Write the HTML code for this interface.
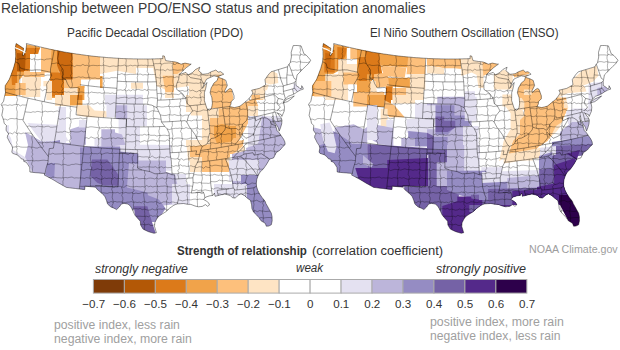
<!DOCTYPE html>
<html><head><meta charset="utf-8">
<style>
html,body{margin:0;padding:0;background:#fff;}
body{width:620px;height:350px;position:relative;overflow:hidden;font-family:"Liberation Sans",sans-serif;color:#333;}
.t{position:absolute;white-space:nowrap;line-height:1;transform-origin:0 0;}
.g{color:#9d9d9d;}
.i{font-style:italic;}
svg{position:absolute;left:0;top:0;}
</style></head><body>
<svg width="620" height="350" viewBox="0 0 620 350">
<defs><clipPath id="usclip"><path d="M16.1,43.5 L18.0,44.7 L19.9,45.9 L21.2,46.8 L22.5,47.7 L23.5,48.1 L23.2,51.1 L22.9,53.3 L22.5,55.6 L23.5,55.8 L24.7,53.4 L25.8,51.0 L26.2,48.2 L26.5,45.4 L26.4,43.5 L28.6,44.1 L30.9,44.7 L33.1,45.2 L35.3,45.8 L37.6,46.3 L39.8,46.9 L42.2,47.4 L44.7,48.0 L47.1,48.5 L49.5,49.1 L52.0,49.6 L54.4,50.1 L56.9,50.6 L59.3,51.0 L61.8,51.5 L64.2,52.0 L66.7,52.4 L69.1,52.8 L71.6,53.2 L74.1,53.6 L76.5,54.0 L79.0,54.3 L81.5,54.7 L84.0,55.0 L86.4,55.4 L88.9,55.7 L91.4,56.0 L93.9,56.3 L96.3,56.5 L98.8,56.8 L101.3,57.0 L103.8,57.2 L106.3,57.5 L108.8,57.7 L111.3,57.8 L113.7,58.0 L116.2,58.2 L118.7,58.3 L121.2,58.5 L123.7,58.6 L126.2,58.7 L128.7,58.8 L131.2,58.8 L133.7,58.9 L136.2,58.9 L138.7,59.0 L141.2,59.0 L143.7,59.0 L145.9,59.0 L148.2,59.0 L150.4,59.0 L152.6,58.9 L154.7,58.9 L156.7,58.8 L158.8,58.8 L160.8,58.7 L162.9,58.6 L162.7,55.8 L164.4,56.1 L165.0,58.4 L165.7,60.6 L167.6,60.9 L169.4,61.2 L171.3,61.5 L173.6,61.7 L175.8,62.0 L178.5,63.1 L181.1,64.2 L183.1,63.6 L185.0,63.1 L187.4,63.6 L189.7,64.1 L191.2,64.1 L188.9,65.8 L186.5,67.5 L184.3,69.5 L182.2,71.6 L180.7,73.0 L179.3,74.5 L181.1,74.0 L182.8,73.4 L184.4,72.9 L185.9,72.4 L188.2,74.8 L190.4,73.7 L192.6,72.5 L194.0,71.0 L195.4,69.6 L197.6,68.4 L199.8,67.2 L198.6,70.7 L200.7,72.5 L202.7,74.3 L205.3,74.0 L207.9,73.7 L209.6,72.7 L211.3,71.7 L213.6,70.9 L215.9,70.0 L218.1,72.1 L220.7,71.7 L223.8,74.2 L222.0,74.9 L220.3,75.6 L218.1,76.7 L216.0,76.3 L214.0,75.8 L212.0,76.7 L210.0,77.5 L208.2,78.4 L206.5,79.2 L205.2,81.8 L204.0,84.4 L202.3,88.4 L203.8,86.5 L205.3,84.6 L206.9,82.5 L206.3,85.7 L205.6,88.8 L204.4,92.7 L204.4,96.6 L204.3,100.4 L205.2,103.2 L206.1,106.0 L207.0,108.8 L209.4,110.4 L211.6,108.2 L212.0,105.7 L212.4,103.1 L212.1,100.5 L211.9,97.8 L211.0,95.3 L210.1,92.7 L210.6,90.4 L211.1,88.0 L212.6,85.5 L213.9,83.1 L215.6,81.7 L217.3,80.3 L218.1,77.2 L220.3,78.0 L222.4,78.7 L224.1,79.5 L225.9,80.4 L226.6,82.9 L227.3,85.5 L226.1,88.0 L224.8,90.5 L225.2,92.7 L227.5,90.0 L230.0,88.4 L231.7,89.3 L232.9,92.5 L234.0,95.8 L234.0,98.8 L232.6,100.3 L231.1,101.7 L231.0,104.0 L229.7,106.5 L232.1,107.1 L234.4,107.6 L237.2,106.9 L239.9,106.2 L241.9,104.7 L243.8,103.1 L245.8,101.5 L247.6,99.9 L249.3,98.3 L251.2,95.7 L253.0,93.0 L251.6,90.2 L254.2,89.6 L256.7,89.0 L259.3,88.4 L261.4,87.3 L263.6,86.1 L265.7,84.9 L265.3,82.2 L265.0,79.6 L266.6,77.2 L268.2,74.9 L269.6,73.3 L271.0,71.8 L273.4,71.1 L275.9,70.3 L278.4,69.6 L280.6,68.9 L282.9,68.2 L285.2,67.5 L287.5,66.8 L289.0,64.1 L290.2,62.9 L290.8,59.9 L291.4,57.0 L291.3,54.6 L291.2,52.3 L292.2,48.9 L293.2,45.6 L295.2,45.5 L297.1,45.5 L299.1,45.7 L301.1,45.9 L302.0,48.5 L303.0,51.2 L303.9,53.8 L306.7,55.6 L308.7,57.9 L310.7,60.2 L309.6,62.0 L308.4,63.8 L306.9,65.1 L305.4,66.5 L303.9,68.0 L302.4,69.5 L300.7,71.3 L299.0,73.1 L297.1,74.9 L296.4,79.1 L295.9,81.6 L296.0,84.4 L296.1,85.6 L299.0,87.4 L300.0,88.7 L301.8,88.1 L301.7,85.7 L303.1,88.0 L303.3,89.2 L301.8,89.6 L300.4,90.1 L298.4,91.2 L296.9,92.0 L295.5,93.1 L293.0,94.5 L290.6,95.4 L288.2,96.3 L286.4,98.0 L284.5,99.8 L283.3,101.7 L283.9,103.9 L284.5,107.2 L284.1,111.3 L283.0,113.8 L281.9,116.4 L281.1,114.5 L277.8,113.4 L277.0,112.5 L278.4,114.4 L281.0,117.7 L282.0,120.1 L281.7,123.8 L280.6,127.6 L279.2,131.1 L278.6,129.1 L278.0,127.1 L275.7,123.8 L274.7,121.7 L273.7,119.6 L273.1,115.8 L272.0,117.3 L272.7,119.2 L273.5,121.2 L274.5,123.3 L275.5,125.4 L276.3,127.9 L277.0,130.5 L279.2,132.8 L280.9,135.3 L282.2,137.2 L283.5,139.0 L284.8,141.8 L285.2,144.4 L282.9,146.6 L281.5,148.3 L280.0,150.1 L278.1,151.3 L276.2,152.6 L274.9,155.2 L273.6,157.9 L271.5,158.5 L269.4,159.2 L268.1,161.7 L266.7,164.1 L265.0,166.6 L263.2,169.1 L261.6,170.6 L260.0,172.1 L258.1,175.6 L256.8,179.3 L256.3,183.3 L256.5,186.3 L257.6,189.9 L258.6,192.0 L259.7,194.1 L262.0,197.4 L263.6,199.4 L265.2,201.4 L265.9,203.5 L267.3,205.9 L268.6,208.3 L269.9,210.7 L271.3,213.1 L272.1,216.7 L272.1,218.8 L272.2,220.8 L271.3,224.8 L268.7,226.1 L266.3,226.2 L265.3,223.4 L263.2,222.1 L261.0,220.8 L259.1,217.8 L256.5,214.9 L253.5,212.0 L251.9,208.5 L251.6,204.8 L251.0,202.6 L250.5,200.4 L247.8,198.6 L244.7,195.7 L241.0,193.7 L238.3,195.3 L236.7,196.7 L235.1,198.1 L232.4,197.7 L230.1,195.4 L227.3,194.7 L224.6,193.9 L221.4,194.7 L218.3,195.5 L215.1,196.3 L214.4,193.0 L213.0,195.4 L209.8,195.8 L207.9,196.4 L206.0,197.0 L204.8,198.0 L203.6,199.5 L206.4,201.1 L208.6,202.8 L209.5,204.9 L207.6,206.3 L205.4,204.6 L202.3,206.4 L200.3,206.6 L198.4,206.8 L195.0,206.0 L192.9,205.2 L190.9,204.4 L187.6,204.3 L185.6,203.9 L183.6,203.5 L180.5,203.7 L177.4,203.9 L175.6,204.5 L173.9,205.2 L171.6,206.8 L169.4,208.4 L166.2,211.5 L164.3,212.7 L162.3,213.9 L160.3,215.3 L158.4,216.6 L156.7,218.9 L154.8,222.7 L154.5,226.4 L155.6,230.1 L156.4,232.7 L154.0,233.3 L151.2,232.5 L148.5,231.7 L145.7,230.4 L143.0,229.1 L141.8,227.1 L140.6,225.0 L140.3,221.3 L137.3,217.9 L135.0,215.3 L134.0,213.2 L133.1,211.1 L131.8,208.6 L130.5,206.2 L128.0,204.1 L126.0,203.7 L124.1,203.4 L121.4,204.0 L119.3,207.0 L116.6,209.6 L114.0,208.2 L110.8,206.9 L107.6,204.1 L106.5,200.6 L105.7,198.5 L104.9,196.4 L103.0,194.6 L101.2,192.7 L99.4,191.3 L97.6,189.8 L95.7,187.2 L93.0,186.9 L90.4,186.7 L87.7,186.4 L85.0,186.2 L84.7,189.6 L81.7,189.2 L78.6,188.9 L75.6,188.5 L72.5,188.2 L69.5,187.8 L66.4,187.4 L63.5,185.8 L60.7,184.2 L57.8,182.6 L54.9,180.8 L51.9,179.0 L49.4,177.7 L46.8,176.3 L44.2,175.0 L45.0,173.5 L42.0,173.2 L38.9,172.9 L35.9,172.7 L32.9,172.4 L29.9,172.0 L29.8,169.8 L29.7,167.6 L28.2,165.0 L26.2,162.2 L23.8,161.4 L23.6,159.4 L21.2,158.8 L19.2,156.4 L17.0,154.8 L14.8,154.1 L12.6,153.3 L11.8,152.0 L12.2,149.9 L12.6,147.9 L11.7,145.3 L9.8,142.5 L8.6,140.0 L7.3,137.6 L7.6,135.3 L8.8,134.0 L7.6,132.6 L6.1,130.2 L6.2,127.5 L6.6,125.6 L4.9,124.0 L4.2,123.4 L3.7,120.5 L2.8,117.9 L1.8,115.3 L2.2,113.2 L2.6,111.2 L3.0,108.5 L2.2,106.3 L1.2,104.5 L3.6,101.2 L4.3,97.5 L4.9,94.9 L5.5,92.3 L5.1,88.2 L5.3,85.5 L7.3,82.6 L9.4,79.2 L10.3,76.8 L11.3,74.3 L12.3,71.5 L13.4,68.6 L14.4,65.0 L15.3,61.7 L15.5,59.1 L15.8,56.0 L15.7,53.7 L15.7,51.3 L15.3,48.1 L15.7,45.8 L16.1,43.5 L16.1,43.5Z M283.6,102.8 L285.5,102.2 L287.4,101.7 L289.4,100.3 L291.3,98.9 L292.8,97.4 L294.3,95.9 L292.9,96.6 L291.5,97.3 L289.6,98.1 L287.8,98.8 L286.2,99.9 L284.6,100.9 L283.6,102.8Z"/></clipPath></defs><g transform="translate(0,0)">
<g clip-path="url(#usclip)">
<rect x="0" y="30" width="320" height="220" fill="#fff"/>
<path d="M0,42 L14,42 L40,47 L38,55 L31,71 L24,75 L19,80 L17,96 L0,96Z" fill="#f1a34a"/><path d="M0,42 L24,44 L24,47.7 L40,48 L37,55 L27.5,72 L12,72 L0,72Z" fill="#dc7a1a"/><path d="M17,53 L25.7,53.7 L25,71 L17,71Z" fill="#b35806"/><path d="M0,71 L17,71 L19,78 L17,95 L0,95Z" fill="#f1a34a"/><path d="M11,71 L17,71 L17,85 L12,85Z" fill="#dc7a1a"/><path d="M22,76 L41,76 L41,97 L22,97Z" fill="#fee4c4"/><path d="M15.4,83 L25.7,83 L25.7,95 L15.4,95Z" fill="#fdc07c"/><path d="M24,71 L44.6,71 L44.6,77 L24,77Z" fill="#fdc07c"/><path d="M30,54 L41,54 L41,72 L30,72Z" fill="#ffffff"/><path d="M41,40 L55,40 L55,72.6 L41,72.6Z" fill="#fdc07c"/><path d="M71,40 L100,40 L100,79.5 L71,79.5Z" fill="#fdc07c"/><path d="M64,74 L81,74 L81,91.5 L64,91.5Z" fill="#fdc07c"/><path d="M52,40 L58.9,40 L58.9,98 L50.3,98 L50.3,72Z" fill="#f1a34a"/><path d="M50.3,72.6 L64,72.6 L64,96.6 L50.3,96.6Z" fill="#dc7a1a"/><path d="M57,40 L72.6,40 L72.6,79.5 L62,79.5 L57,65Z" fill="#cc6a10"/><path d="M43.4,81 L52,81 L52,100 L43.4,100Z" fill="#fee4c4"/><path d="M40.3,86.3 L46.3,86.3 L46.3,100 L40.3,100Z" fill="#ffffff"/><path d="M64,88 L77.7,88 L77.7,100 L64,100Z" fill="#fee4c4"/><path d="M77.7,86 L84.6,86 L84.6,100 L77.7,100Z" fill="#f1a34a"/><path d="M84.6,88 L100,88 L100,100 L84.6,100Z" fill="#ffffff"/><path d="M55,95 L76.4,95 L76.4,106 L55,106Z" fill="#fee4c4"/><path d="M70,95 L82.4,95 L82.4,105.3 L70,105.3Z" fill="#f1a34a"/><path d="M77,95 L82.4,95 L82.4,100 L77,100Z" fill="#dc7a1a"/><path d="M75.6,105.3 L89.3,105.3 L94.5,110.4 L106.5,111.3 L107.3,117.3 L88.4,117.3 L77.3,115.6Z" fill="#fee4c4"/><path d="M58.4,107 L66,107 L66,143 L58.4,143Z" fill="#e4e1f1"/><path d="M27.4,122.9 L59.4,125 L68.6,141 L52.6,143.4 L41,141Z" fill="#e4e1f1"/><path d="M0,128 L9,125 L13,150 L25,157 L34,171 L20,175 L0,160Z" fill="#e4e1f1"/><path d="M9,125 L22,123 L27,134 L26,148 L16,146 L9,135Z" fill="#ffffff"/><path d="M25,132 L41,141 L52.6,143.4 L60,141 L60,180 L34,175 L25,157 L28,145Z" fill="#bcb5da"/><path d="M50,142 L60,140 L60,165 L50,165Z" fill="#958cc3"/><path d="M70.4,129.3 L85.9,124.2 L85.9,144.7 L70.4,144.7Z" fill="#bcb5da"/><path d="M79,120 L86.7,120 L86.7,127.6 L79,127.6Z" fill="#e4e1f1"/><path d="M94.5,138.7 L104.7,138 L106.5,146.5 L94.5,146.5Z" fill="#e4e1f1"/><path d="M55,143 L84,143 L84,155 L55,155Z" fill="#bcb5da"/><path d="M45.7,141 L81.6,145 L81.6,195 L34,195Z" fill="#bcb5da"/><path d="M47.3,163 L55,163 L54.2,178.4 L45.6,175Z" fill="#958cc3"/><path d="M100,40 L165,40 L165,89.5 L156.6,86 L153,68 L136,68 L136,74 L117,70.7 L100,74Z" fill="#fee4c4"/><path d="M100,76 L102.6,76 L102.6,88 L100,88Z" fill="#f1a34a"/><path d="M131,82.7 L143,82.7 L143,88.7 L131,88.7Z" fill="#fee4c4"/><path d="M105,94.7 L143,94.7 L143,105 L105,105Z" fill="#e4e1f1"/><path d="M106.5,105 L147,105.3 L146.9,125.9 L140,125.9 L140,144.7 L156.3,144.7 L156.3,155 L106.5,155Z" fill="#e4e1f1"/><path d="M106,117.3 L118.6,117.3 L118.6,134.5 L106,134.5Z" fill="#ffffff"/><path d="M116,105.3 L127.2,105.3 L127.2,119 L116,119Z" fill="#bcb5da"/><path d="M101.3,129.3 L115,129.3 L115,146.5 L101.3,146.5Z" fill="#bcb5da"/><path d="M110,131 L122,134.5 L125.4,144.7 L110,146.5Z" fill="#bcb5da"/><path d="M84,146.5 L137.4,146.5 L137.4,155 L84,155Z" fill="#958cc3"/><path d="M155,40 L230,40 L225,80 L206,80 L206.5,110 L189,110 L189,86 L165,89.5Z" fill="#fee4c4"/><path d="M172,40 L195,40 L191,63.7 L177.3,74 L173,74Z" fill="#fdc07c"/><path d="M162.7,75.7 L173.9,75.7 L173.9,92 L165.3,92Z" fill="#fdc07c"/><path d="M165,92 L174,92 L174,98 L165,98Z" fill="#fee4c4"/><path d="M208,80 L217.9,75 L223.9,76 L227.3,87.4 L231.6,88.3 L233.3,97.7 L231.6,106.3 L215.3,109.7 L208,109Z" fill="#fdc07c"/><path d="M186,95 L212,95 L212,146 L186,146Z" fill="#fee4c4"/><path d="M186,112 L202,112 L202,140 L186,140Z" fill="#ffffff"/><path d="M209.6,95 L215,110 L231.6,106 L241,104.6 L253,98.6 L263,96.9 L263,102 L256,108 L230,158 L226,160 L224,167.4 L210.6,167.4 L200,162 L195,155 L190,146 L210,146 L210,100Z" fill="#fdc07c"/><path d="M190.7,95 L209.6,95 L209.6,115.6 L190.7,115.6Z" fill="#fee4c4"/><path d="M206.7,108 L218.7,108 L218.7,118 L206.7,118Z" fill="#fee4c4"/><path d="M248,106 L258,106 L258,126 L248,126Z" fill="#fee4c4"/><path d="M214,126 L222,124 L230,126 L236,134 L230,144 L218,146 L214,136Z" fill="#f1a34a"/><path d="M222,146 L232,144 L226,158 L222,158Z" fill="#f1a34a"/><path d="M230,126 L236,126 L236,138 L230,138Z" fill="#f1a34a"/><path d="M236,144 L252,126 L258,126 L240,158 L230,160Z" fill="#ffffff"/><path d="M251,85.7 L265,85.7 L265,99.5 L251,99.5Z" fill="#fee4c4"/><path d="M264.6,76.9 L272.3,70.9 L277.4,73.4 L278.3,82.9 L270.6,84.6 L265.4,82.9Z" fill="#fee4c4"/><path d="M250,91.5 L260.3,84.6 L268.9,84.6 L267.2,89.7 L256.9,94.9 L250,96.6Z" fill="#fee4c4"/><path d="M251.7,95 L260,95 L260,100 L251.7,100Z" fill="#fdc07c"/><path d="M256,100 L290,100 L290,116 L262,116Z" fill="#ffffff"/><path d="M186.5,146 L195,146 L195,160.4 L188.2,160.4Z" fill="#fee4c4"/><path d="M190,146 L210,146 L210,157 L190,157Z" fill="#fdc07c"/><path d="M248,116 L290,116 L290,150 L248,150Z" fill="#e4e1f1"/><path d="M262,116 L286,124 L284,152 L268,166 L248,160 L246,148 L258,144Z" fill="#bcb5da"/><path d="M252,122 L262,118 L258,144 L248,146Z" fill="#e4e1f1"/><path d="M196,146 L244,140 L240,160 L232,172 L200,172 L196,160Z" fill="#fdc07c"/><path d="M190,157 L202,157 L202,187 L190,187Z" fill="#fee4c4"/><path d="M226,160 L244,145 L246,160 L234,172Z" fill="#fee4c4"/><path d="M190,172 L244,172 L244,199 L190,199Z" fill="#ffffff"/><path d="M230,154 L242,154 L242,166 L230,166Z" fill="#ffffff"/><path d="M232,154 L290,140 L290,190 L232,190Z" fill="#bcb5da"/><path d="M229,160 L259,160 L259,181 L229,181Z" fill="#e4e1f1"/><path d="M241,175 L290,175 L290,235 L241,235Z" fill="#958cc3"/><path d="M214,184 L247,184 L247,199 L214,199Z" fill="#e4e1f1"/><path d="M293.7,82.9 L299.7,85.5 L305,86.3 L299.7,91.5 L292.9,91.5Z" fill="#e4e1f1"/><path d="M120,145 L171,145 L171,170.7 L120,170.7Z" fill="#e4e1f1"/><path d="M138,160.6 L166,160.6 L166,172 L138,172Z" fill="#bcb5da"/><path d="M80,147.6 L120.3,147.6 L120.3,186 L80,192Z" fill="#958cc3"/><path d="M92,159.6 L107.4,159.6 L118.6,175 L118.6,186.2 L105.7,186.2 L97.2,182.7 L90.3,175.9Z" fill="#7562a6"/><path d="M81.6,164 L85,164 L85,190 L81.6,190Z" fill="#958cc3"/><path d="M120,151.4 L138.3,153.7 L138.3,185.7 L131.4,188 L120,188Z" fill="#958cc3"/><path d="M170,174 L186,174 L186,204 L170,204Z" fill="#e4e1f1"/><path d="M129,162.9 L149.7,165 L165.7,172 L174.9,174.3 L179.4,192.6 L174.9,204 L158.9,206.3 L147.4,194.9 L126.9,188Z" fill="#bcb5da"/><path d="M95.4,185.3 L120,185.7 L147.4,192.6 L149.7,201.7 L136,208.6 L120,215 L95.4,215Z" fill="#958cc3"/><path d="M147.4,194.9 L158.9,199.4 L165.7,208.6 L156.6,222 L142.9,222 L136,208.6Z" fill="#958cc3"/><path d="M133.7,206.3 L147.4,206.3 L152,222 L158,240 L138.3,240Z" fill="#7562a6"/><path d="M172,184 L190,184 L190,205 L172,205Z" fill="#e4e1f1"/>
</g>
<path d="M15.3,61.7 L17.0,62.6 L18.8,63.5 L19.9,67.7 L21.4,68.3 L22.9,68.9 L25.5,69.4 L28.1,69.8 L29.9,70.1 L31.7,70.3 L34.2,70.1 L36.7,69.8 L38.3,69.9 L39.9,69.9 L42.0,70.4 L44.1,70.9 L46.3,71.3 L48.4,71.8 L50.5,72.2 M54.2,50.0 L53.6,53.2 L53.0,56.3 L52.4,59.5 L51.8,62.6 L51.2,65.8 L50.5,68.9 L50.5,72.2 L51.6,75.5 L50.3,77.9 L49.1,80.4 L47.8,82.4 L46.6,84.5 L46.9,88.4 L46.3,91.7 L45.6,95.1 L44.9,98.4 L44.2,101.7 M5.5,92.3 L8.0,93.0 L10.5,93.7 L13.0,94.4 L15.5,95.0 L18.0,95.7 L20.5,96.3 L23.0,97.0 L25.5,97.6 L28.1,98.2 L30.7,98.8 L33.4,99.4 L36.1,100.0 L38.8,100.6 L41.5,101.2 L44.2,101.7 L46.9,102.3 L49.6,102.8 L52.3,103.3 L55.0,103.8 L57.7,104.3 L60.5,104.7 L63.2,105.2 L65.9,105.6 L68.7,106.1 L71.4,106.5 L74.2,106.9 L76.9,107.2 M59.1,51.0 L58.6,53.5 L58.1,56.0 L57.7,58.6 L58.2,60.8 L58.7,63.1 L60.2,65.4 L61.7,67.7 L63.2,70.0 L63.0,72.8 L62.8,75.5 L62.6,78.3 L64.2,78.9 L65.9,79.6 L67.4,83.7 L68.7,85.8 L70.0,87.9 L72.5,87.8 L75.1,87.6 L77.6,87.5 L79.4,88.5 L78.9,92.2 L78.4,96.0 L77.9,99.7 L77.4,103.5 L76.9,107.2 L76.4,111.0 L76.0,114.8 M79.9,84.7 L82.5,85.1 L85.1,85.4 L87.8,85.7 L90.4,86.0 L93.0,86.3 L95.7,86.6 L98.3,86.9 L101.0,87.1 L103.6,87.3 L106.3,87.5 L108.9,87.7 L111.6,87.9 L114.2,88.1 L116.9,88.3 M118.5,58.3 L118.3,62.0 L118.1,65.8 L117.9,69.5 L117.7,73.2 L117.5,77.0 L117.3,80.7 L117.1,84.5 L116.9,88.3 L116.7,92.0 L116.4,95.8 L116.2,99.6 L116.0,103.3 L115.8,107.1 L115.6,110.9 L115.4,114.7 L115.2,118.5 M117.2,81.2 L119.8,81.3 L122.5,81.5 L125.1,81.6 L127.7,81.7 L130.3,81.7 L132.9,81.8 L135.5,81.9 L138.1,81.9 L140.8,81.9 L143.4,81.9 L146.0,81.9 L148.6,81.9 L151.2,81.9 L153.8,81.8 L156.4,81.8 M116.0,103.3 L118.6,103.5 L121.1,103.6 L123.6,103.7 L126.2,103.8 L128.7,103.9 L131.2,104.0 L133.7,104.0 L136.3,104.1 L138.8,104.1 L141.3,104.1 L143.9,104.1 L146.4,104.1 L149.1,104.7 L151.9,105.2 L154.4,106.5 L156.9,107.7 M76.0,114.8 L78.8,115.1 L81.6,115.5 L84.3,115.8 L87.1,116.1 L89.9,116.4 L92.8,116.7 L95.6,117.0 L98.4,117.3 L101.2,117.5 L104.0,117.7 L106.8,117.9 L109.6,118.1 L112.4,118.3 L115.2,118.5 L118.0,118.6 L120.9,118.8 L123.7,118.9 L126.5,119.0 L126.4,122.8 L126.2,126.6 L129.0,126.7 L131.7,126.7 L134.5,126.8 L137.3,126.8 L140.0,126.9 L142.8,126.9 L145.5,126.9 L148.3,126.8 L151.0,126.8 L153.8,126.8 L156.5,126.7 L159.3,126.6 L162.1,126.5 L164.8,126.4 M60.5,104.7 L59.9,108.4 L59.3,112.0 L58.7,115.6 L58.1,119.2 L57.5,122.8 L56.9,126.5 L56.3,130.1 L55.8,133.7 L55.2,137.3 L54.6,140.9 L54.0,144.6 L53.4,148.2 M87.1,116.1 L86.8,119.8 L86.4,123.4 L86.0,127.1 L85.6,130.7 L85.2,134.4 L84.8,138.0 L84.4,141.7 L84.0,145.3 L83.6,149.0 L83.2,152.6 L82.8,156.3 L82.4,159.9 L82.0,163.5 L81.6,167.2 L81.2,170.8 L80.9,174.5 L80.5,178.1 L80.1,181.7 L79.7,185.4 L79.3,189.0 M54.4,142.2 L57.2,142.7 L60.0,143.1 L62.9,143.5 L65.7,144.0 L68.5,144.4 L71.4,144.8 L74.2,145.1 L77.0,145.5 L79.9,145.9 L82.7,146.2 L85.6,146.5 L88.4,146.8 L91.3,147.1 L94.1,147.4 L97.0,147.6 L99.8,147.9 L102.7,148.1 L105.5,148.3 L108.4,148.5 L111.3,148.7 L114.1,148.8 L117.0,149.0 L119.8,149.1 L122.7,149.2 L125.6,149.3 M126.5,119.0 L126.4,122.8 L126.2,126.6 L126.1,130.4 L126.0,134.2 L125.9,138.0 L125.8,141.8 L125.7,145.5 L125.5,149.3 L125.4,153.1 M119.8,149.1 L119.7,152.9 L122.7,153.0 L125.7,153.1 L128.7,153.2 L131.7,153.3 L134.7,153.4 L137.7,153.4 L137.6,157.1 L137.6,160.8 L137.6,164.4 L137.5,168.1 L140.0,169.1 L142.4,170.1 L144.9,170.6 L147.4,171.1 L149.9,171.6 L152.4,172.7 L154.9,173.8 L157.7,173.7 L160.5,173.6 L163.6,173.2 L166.6,172.7 L169.2,173.7 L171.7,174.7 L174.6,174.9 M119.4,152.9 L119.3,156.7 L119.1,160.5 L118.9,164.3 L118.8,168.0 L118.6,171.8 L118.5,175.6 L118.3,179.4 L118.1,183.2 L118.0,186.9 L115.1,186.8 L112.3,186.7 L109.4,186.5 L106.6,186.3 L103.7,186.1 L100.9,185.9 L98.1,185.7 L95.2,185.5 M125.6,149.3 L128.5,149.4 L131.4,149.5 L134.4,149.6 L137.3,149.6 L140.3,149.6 L143.2,149.6 L146.2,149.6 L149.1,149.6 L152.1,149.6 L155.0,149.5 L158.0,149.5 L160.9,149.4 L163.9,149.3 L166.8,149.1 L169.8,149.0 M28.1,98.2 L27.2,101.9 L26.4,105.6 L25.5,109.3 L24.7,113.0 L23.8,116.7 L23.0,120.4 L25.1,123.7 L27.3,127.0 L29.5,130.3 L31.8,133.7 L34.1,137.0 L36.4,140.3 L38.7,143.5 L41.1,146.8 L43.5,150.1 L46.0,153.3 L48.4,156.6 L48.2,159.2 L48.0,161.9 L47.0,165.1 L46.0,168.4 L45.5,170.9 L45.0,173.5 M53.4,148.2 L51.4,148.4 L49.3,148.6 L49.0,151.3 L48.7,153.9 L48.4,156.6 M152.5,58.9 L153.3,62.6 L154.1,66.4 L154.9,70.1 L155.3,73.0 L155.7,75.9 L156.0,78.8 L156.4,81.8 L156.5,84.2 L156.6,86.6 L156.8,90.0 L157.0,93.3 L157.3,96.7 L157.5,100.1 L157.2,103.9 L156.9,107.7 L158.7,111.5 L160.4,115.2 L161.0,118.6 L161.5,122.0 L163.2,124.2 L164.8,126.4 L166.9,128.6 L168.0,130.8 L169.1,133.1 L169.3,136.3 L169.4,139.4 L169.5,142.6 L169.6,145.8 L169.8,149.0 L169.9,152.8 L170.4,155.6 L170.9,158.3 L171.4,161.1 L171.5,164.5 L171.7,167.9 L171.9,171.3 L172.0,174.7 M157.5,100.1 L160.1,100.1 L162.7,100.0 L165.3,99.9 L167.8,99.7 L170.4,99.6 L173.0,99.5 L175.6,99.3 L178.2,99.1 L180.7,98.9 L183.3,98.7 L185.9,98.5 M179.3,74.5 L179.0,76.9 L178.6,79.4 L177.6,81.8 L176.6,84.1 L176.6,86.7 L176.7,89.4 L179.5,91.4 L182.3,93.5 L184.1,96.0 L185.9,98.5 L186.4,101.1 L187.0,103.7 L189.9,105.7 L191.3,108.3 L192.6,110.8 L190.6,113.3 L188.6,115.8 L187.7,118.9 L186.8,122.0 L188.2,124.6 L189.5,127.1 L192.2,130.7 L194.8,134.2 L196.5,137.6 L198.2,141.0 L200.0,144.4 L202.3,146.4 L200.6,150.4 L199.8,154.3 L198.9,157.9 L198.0,161.4 L196.7,163.8 L195.4,166.2 L194.6,170.1 L193.8,173.9 L192.9,177.8 L193.0,180.8 L193.1,183.9 L192.5,186.9 L191.9,190.0 L191.3,193.1 L194.3,192.8 L197.3,192.6 L200.3,192.3 L203.3,192.0 L204.5,194.9 L204.8,198.0 M161.5,122.0 L164.1,121.9 L166.7,121.8 L169.3,121.7 L172.0,121.5 L174.6,121.4 L177.2,121.2 L179.8,121.0 L182.4,120.8 L185.0,120.6 L186.8,122.0 M169.9,152.8 L172.9,152.6 L175.9,152.5 L178.9,152.3 L181.8,152.1 L184.8,151.9 L187.8,151.6 L190.8,151.4 L193.7,151.1 L196.7,150.8 L195.7,154.7 L197.7,154.5 L199.8,154.3 M174.6,174.9 L174.8,177.9 L174.9,180.8 L175.1,183.7 L175.2,186.6 L176.2,190.4 L177.2,194.1 L178.7,197.8 L178.0,200.8 L177.4,203.9 M174.8,179.1 L177.9,178.9 L180.9,178.7 L183.9,178.5 L186.9,178.3 L189.9,178.1 L192.9,177.8 M189.9,105.7 L192.5,105.5 L195.0,105.2 L197.6,105.0 L200.1,104.7 L202.7,104.4 L205.3,104.1 M188.2,75.2 L190.5,77.6 L193.2,78.1 L195.9,78.6 L198.5,79.0 L201.2,79.5 L202.6,81.9 L204.0,84.4 M207.4,109.4 L207.9,113.1 L208.3,116.9 L208.8,120.6 L209.3,124.3 L209.7,128.0 L209.8,130.3 L209.9,132.5 L209.0,135.3 L208.2,138.1 L208.0,141.9 M207.4,109.4 L209.9,109.1 L212.5,108.8 L215.0,108.4 L217.5,108.1 L220.0,107.7 L222.5,107.3 L224.9,107.1 L227.3,106.8 L229.7,106.5 M222.6,107.7 L223.1,111.0 L223.6,114.2 L224.1,117.5 L224.6,120.7 L225.0,124.0 L225.5,127.2 M202.3,146.4 L204.4,145.4 L206.5,144.4 L208.0,141.9 L209.6,140.2 L211.2,138.5 L214.1,138.1 L216.1,137.1 L218.0,136.0 L219.6,135.0 L221.3,134.0 L223.0,132.0 L224.8,130.0 L225.5,127.2 L228.0,128.0 L230.5,128.7 L233.4,128.6 L236.3,128.5 L239.0,130.3 L241.1,128.4 L242.7,124.2 L244.7,122.3 L246.6,120.3 L247.6,116.3 L247.6,113.8 L247.6,111.3 M247.6,111.3 L247.0,108.0 L246.3,104.7 L245.6,101.3 M248.6,116.1 L249.0,118.1 L251.7,117.6 L254.3,117.0 L257.0,116.4 L259.6,115.8 L262.2,115.2 L264.9,114.6 L267.5,113.9 L270.1,113.3 L272.8,112.6 L275.4,111.9 M249.3,98.3 L249.7,100.3 L252.4,99.7 L255.1,99.1 L257.7,98.5 L260.4,97.9 L263.0,97.3 L265.6,96.6 L268.3,95.9 L270.9,95.2 L273.6,94.5 L275.3,95.7 L278.3,98.4 L280.8,99.0 L283.3,99.7 M278.3,98.4 L277.0,102.2 L277.6,104.4 L280.3,106.9 L278.8,109.2 L276.9,110.9 M275.4,111.9 L276.2,115.0 L277.0,118.1 L277.8,121.3 L279.9,120.7 L282.0,120.1 M239.3,131.8 L241.5,133.9 L243.7,136.0 L245.9,138.3 L247.9,137.5 L249.8,136.7 L251.7,135.6 L253.6,134.4 L254.5,131.5 L255.4,128.6 L257.6,125.0 L258.9,122.7 L260.2,120.5 L261.4,117.9 L263.2,117.9 L265.0,117.8 L266.8,118.2 L270.1,120.5 L270.8,122.5 L271.6,124.4 L273.9,125.2 L276.2,126.0 M254.8,116.9 L255.3,118.8 L255.7,120.8 L257.6,119.8 L259.5,118.9 L261.4,117.9 M200.6,150.4 L203.4,150.1 L206.2,149.7 L209.0,149.3 L211.8,148.8 L214.6,148.4 L217.4,148.0 L220.2,147.5 L223.0,147.0 L225.8,146.5 L228.6,146.0 L231.4,145.5 L233.2,145.2 L234.9,144.9 L236.8,142.5 L238.6,140.2 L240.4,137.8 L239.8,134.8 L239.3,131.8 M234.9,144.9 L237.8,144.4 L240.7,143.9 L243.6,143.4 L246.5,142.9 L249.4,142.4 L252.3,141.8 L255.1,141.2 L258.0,140.6 L260.9,140.0 L263.8,139.4 L266.6,138.8 L269.5,138.1 L272.3,137.4 L275.2,136.8 L278.1,136.1 L280.9,135.3 M246.7,142.8 L244.5,145.5 L242.2,148.2 L239.9,150.6 L237.5,152.9 L235.4,155.2 L233.3,157.5 M196.9,162.2 L199.9,161.9 L202.9,161.6 L206.0,161.3 L209.0,160.9 L212.1,160.6 L215.1,160.2 L218.1,159.8 L221.2,159.3 L224.2,158.9 L227.2,158.4 L230.3,158.0 L233.3,157.5 L235.7,157.1 L238.1,156.7 L240.5,156.2 M240.5,156.2 L242.5,155.1 L244.5,154.0 L247.3,153.6 L250.1,153.2 L252.9,152.7 L254.1,155.2 L256.5,154.7 L258.9,154.2 L261.3,153.7 L264.1,155.5 L266.9,157.3 L269.7,159.2 M240.5,156.2 L244.2,159.4 L246.6,162.1 L248.9,164.7 L251.0,167.0 L253.0,169.3 L255.2,172.5 L257.4,175.7 M225.4,158.7 L226.8,162.3 L228.1,166.0 L229.5,169.6 L230.5,173.3 L231.5,176.9 L232.4,180.6 L232.8,184.3 L233.2,188.1 M209.6,160.9 L209.8,164.2 L210.0,167.6 L210.1,170.9 L210.3,174.3 L210.5,177.6 L210.6,181.0 L210.8,184.3 L211.3,188.1 L211.8,191.8 L212.4,195.5 M217.0,190.4 L219.7,190.0 L222.5,189.7 L225.3,189.3 L228.0,188.9 L230.8,188.5 L233.6,188.0 L234.8,190.1 L237.9,189.8 L240.9,189.5 L244.0,189.1 L247.1,188.7 L250.1,188.3 L253.2,187.9 L254.9,187.1 L256.5,186.3 M217.0,190.4 L217.6,193.0 L218.3,195.5 M278.4,69.6 L279.2,73.0 L280.1,76.5 L281.0,79.9 L282.1,82.9 L283.3,85.9 M287.5,66.8 L287.4,69.3 L287.3,71.7 L286.8,75.8 L286.8,78.6 L286.8,81.3 L287.0,85.0 M283.3,85.9 L285.8,85.2 L288.4,84.5 L291.0,83.7 L293.6,82.9 L295.9,81.1 M289.0,64.1 L290.2,67.6 L291.5,71.2 L292.7,74.7 L294.0,78.3 L295.9,79.5 M283.4,91.4 L285.6,90.8 L287.9,90.2 L290.2,89.6 L292.5,88.9 L294.7,88.2 L296.0,89.9 L297.2,91.5 M292.5,88.9 L293.1,91.5 L293.7,94.1 M283.3,85.9 L283.3,88.7 L283.4,91.4 L284.3,94.9 L285.3,98.3 L284.5,99.8" fill="none" stroke="#000" stroke-opacity="0.65" stroke-width="0.6"/>
<path d="M35.1,45.7 L35.8,47.8 L35.2,49.8 L35.5,51.8 L34.7,53.8 L35.5,55.8 L34.9,57.9 L34.4,59.9 L35.3,61.9 L35.4,63.9 L35.0,65.9 L35.1,68.0 L35.1,70.0 M15.5,58.8 L17.5,59.7 L19.6,58.8 L21.6,58.8 L23.7,58.5 L25.7,59.1 L27.8,58.4 L29.8,58.5 L31.9,59.6 L34.0,58.7 L36.0,59.6 L38.0,59.8 L40.1,59.3 L42.1,59.4 L44.2,60.1 L46.3,59.1 L48.3,59.0 L50.4,58.7 L52.4,59.3 M19.8,67.3 L19.4,69.4 L20.2,71.4 L20.2,73.5 L20.0,75.5 L19.7,77.6 L19.9,79.7 L19.7,81.7 L19.7,83.8 L19.9,85.9 L19.8,87.9 L19.7,90.0 L19.8,92.0 L19.6,94.1 L19.8,96.2 M35.5,69.9 L35.5,72.1 L36.3,74.2 L35.3,76.4 L36.4,78.5 L36.2,80.6 L35.1,82.8 L35.2,84.9 L35.6,87.1 L36.3,89.2 L35.7,91.3 L35.8,93.5 L35.2,95.6 L34.5,97.8 L35.5,99.9 M10.7,75.8 L12.7,75.3 L14.8,75.7 L16.8,75.6 L18.8,75.1 L20.9,75.7 L22.9,75.1 L25.0,76.0 L27.0,76.0 L29.0,75.9 L31.1,75.2 L33.1,75.6 L35.1,75.3 L37.2,75.1 L39.2,75.1 L41.2,74.6 L43.3,74.5 L45.3,75.5 L47.4,75.0 L49.4,75.1 L51.4,75.0 M5.2,89.2 L7.3,88.9 L9.4,89.3 L11.4,89.4 L13.5,89.1 L15.6,89.8 L17.7,89.4 L19.7,88.8 L21.8,89.0 L23.9,89.8 L25.9,89.6 L28.0,88.6 L30.1,90.1 L32.2,89.8 L34.2,90.1 L36.3,89.4 L38.4,89.5 L40.5,89.1 L42.5,90.8 L44.6,89.6 L46.7,89.7 M16.9,95.4 L16.8,97.4 L17.6,99.5 L17.0,101.5 L16.4,103.6 L17.4,105.6 L16.4,107.7 L16.7,109.7 L17.3,111.8 L17.1,113.8 L17.1,115.9 L16.9,117.9 L17.1,119.9 L17.2,122.0 L17.0,124.0 L17.3,126.1 L17.4,128.1 L16.9,130.2 L16.5,132.2 L17.5,134.3 L16.9,136.3 L17.1,138.4 L17.3,140.4 L16.5,142.4 L17.1,144.5 L16.2,146.5 L17.2,148.6 L16.7,150.6 L17.0,152.7 L16.9,154.7 M32.1,134.1 L32.2,136.1 L31.8,138.1 L32.1,140.1 L32.6,142.1 L32.2,144.1 L32.1,146.2 L31.7,148.2 L32.5,150.2 L32.1,152.2 L32.9,154.2 L31.8,156.2 L32.6,158.2 L32.9,160.2 L32.1,162.2 L31.6,164.2 L32.8,166.3 L32.6,168.3 L32.4,170.3 L32.1,172.3 M1.6,105.3 L3.7,104.9 L5.8,104.9 L7.8,105.5 L9.9,104.8 L12.0,105.4 L14.1,104.7 L16.1,104.6 L18.2,104.3 L20.3,105.9 L22.3,104.9 L24.4,105.1 L26.5,105.0 M3.2,119.2 L5.5,119.2 L7.7,120.1 L9.9,118.7 L12.1,118.5 L14.4,118.8 L16.6,118.6 L18.8,119.5 L21.0,119.6 L23.2,119.2 M8.1,133.2 L10.3,133.0 L12.4,133.9 L14.6,132.0 L16.7,133.6 L18.9,132.9 L21.0,133.9 L23.2,133.0 L25.3,133.4 L27.5,132.9 L29.6,133.1 L31.8,133.6 M12.3,147.2 L14.4,147.0 L16.5,146.8 L18.6,146.3 L20.7,147.0 L22.7,147.2 L24.8,147.2 L26.9,147.2 L29.0,146.7 L31.1,147.2 L33.2,147.2 L35.2,147.9 L37.3,148.1 L39.4,147.2 L41.5,147.3 M23.8,160.8 L25.8,160.5 L27.8,160.4 L29.9,160.7 L31.9,160.3 L33.9,161.0 L36.0,160.6 L38.0,160.8 L40.0,160.6 L42.0,160.3 L44.1,160.2 L46.1,160.5 L48.1,160.5 M63.0,143.6 L63.0,145.7 L63.7,147.8 L63.0,149.9 L63.6,152.0 L63.3,154.1 L63.2,156.2 L64.0,158.3 L63.0,160.4 L63.0,162.5 L63.1,164.5 L63.2,166.6 L63.2,168.7 L63.5,170.8 L63.2,172.9 L63.3,175.0 L63.0,177.1 L63.6,179.2 L62.9,181.3 L63.0,183.4 L63.0,185.5 M48.7,154.0 L50.8,154.2 L52.8,153.2 L54.8,154.1 L56.8,154.0 L58.9,153.9 L60.9,153.9 L62.9,153.4 L64.9,153.6 L67.0,153.9 L69.0,153.8 L71.0,153.6 L73.0,152.8 L75.0,153.7 L77.1,153.9 L79.1,153.8 L81.1,153.4 L83.1,153.3 M47.2,164.5 L49.3,164.4 L51.3,163.3 L53.4,164.6 L55.4,163.8 L57.4,163.9 L59.5,164.2 L61.5,165.1 L63.6,164.3 L65.6,164.6 L67.6,165.3 L69.7,165.2 L71.7,164.4 L73.8,164.4 L75.8,163.9 L77.8,164.2 L79.9,164.7 L81.9,164.5 M48.6,177.3 L50.8,177.8 L52.9,177.0 L55.0,177.4 L57.1,177.8 L59.2,177.8 L61.4,178.0 L63.5,177.8 L65.6,177.5 L67.7,177.8 L69.9,177.3 L72.0,177.0 L74.1,178.1 L76.2,177.8 L78.4,178.0 L80.5,177.9 M90.7,147.0 L91.0,149.1 L91.1,151.2 L91.7,153.3 L90.9,155.4 L90.3,157.5 L90.5,159.6 L91.0,161.7 L90.7,163.7 L90.4,165.8 L92.0,167.9 L90.8,170.0 L90.5,172.1 L90.4,174.2 L90.0,176.3 L90.2,178.4 L90.6,180.5 L90.6,182.6 L90.4,184.6 L90.7,186.7 M101.4,148.0 L101.0,150.0 L100.5,152.1 L101.5,154.1 L101.4,156.2 L101.3,158.2 L100.8,160.2 L101.4,162.3 L100.8,164.3 L101.9,166.4 L101.5,168.4 L101.5,170.5 L101.1,172.5 L100.9,174.6 L102.1,176.6 L101.8,178.6 L101.3,180.7 L101.7,182.7 L102.1,184.8 L101.0,186.8 L101.2,188.9 L101.2,190.9 L101.4,192.9 M112.4,148.7 L112.5,150.8 L111.9,152.8 L112.8,154.8 L112.8,156.9 L112.3,158.9 L112.7,160.9 L112.1,162.9 L112.3,165.0 L112.8,167.0 L112.4,169.0 L112.6,171.1 L112.0,173.1 L112.7,175.1 L112.6,177.1 L111.9,179.2 L111.4,181.2 L111.5,183.2 L112.4,185.3 L112.3,187.3 L111.7,189.3 L112.5,191.3 L112.8,193.4 L112.4,195.4 L112.2,197.4 L112.8,199.5 L113.2,201.5 L113.1,203.5 L112.1,205.5 L112.4,207.6 M122.7,153.0 L122.6,155.1 L122.4,157.1 L122.9,159.1 L122.5,161.1 L123.1,163.2 L122.9,165.2 L123.2,167.2 L122.2,169.3 L122.7,171.3 L123.0,173.3 L122.9,175.3 L122.8,177.4 L122.4,179.4 L123.4,181.4 L123.2,183.4 L122.9,185.5 L121.6,187.5 L122.3,189.5 L122.8,191.5 L122.4,193.6 L121.8,195.6 L122.8,197.6 L122.9,199.7 L122.2,201.7 L122.7,203.7 M133.0,153.3 L133.3,155.4 L132.2,157.5 L132.3,159.5 L132.8,161.6 L132.7,163.6 L134.0,165.7 L132.8,167.8 L133.1,169.8 L132.8,171.9 L132.7,173.9 L133.2,176.0 L133.8,178.1 L132.9,180.1 L133.4,182.2 L133.2,184.2 L133.3,186.3 L133.2,188.4 L134.1,190.4 L132.5,192.5 L132.9,194.5 L132.5,196.6 L132.2,198.7 L133.0,200.7 L133.9,202.8 L133.4,204.8 L133.6,206.9 L133.3,209.0 L133.0,211.0 M144.6,170.6 L144.5,172.6 L145.3,174.7 L144.5,176.7 L144.7,178.7 L144.8,180.8 L144.7,182.8 L144.9,184.9 L144.9,186.9 L145.4,189.0 L144.6,191.0 L143.8,193.1 L143.7,195.1 L144.0,197.2 L144.3,199.2 L144.9,201.3 L144.0,203.3 L144.7,205.4 L144.7,207.4 L144.8,209.4 L144.6,211.5 L144.8,213.5 L144.7,215.6 L145.1,217.6 L144.8,219.7 L143.6,221.7 L144.7,223.8 L144.7,225.8 L144.4,227.9 L144.6,229.9 M157.2,173.7 L157.3,175.8 L156.8,177.8 L157.0,179.8 L157.1,181.8 L156.5,183.9 L157.5,185.9 L157.1,187.9 L157.4,190.0 L156.5,192.0 L158.0,194.0 L157.5,196.0 L157.4,198.1 L156.9,200.1 L156.9,202.1 L156.5,204.1 L157.9,206.2 L156.8,208.2 L157.3,210.2 L157.5,212.2 L156.9,214.3 L157.6,216.3 L157.2,218.3 M166.7,172.7 L167.4,174.7 L167.0,176.7 L166.6,178.8 L166.6,180.8 L166.0,182.8 L166.8,184.8 L167.4,186.8 L167.1,188.8 L167.2,190.8 L167.3,192.9 L166.5,194.9 L167.0,196.9 L167.6,198.9 L166.4,200.9 L166.8,202.9 L166.6,205.0 L166.7,207.0 L166.5,209.0 L166.7,211.0 M83.1,153.9 L85.1,154.0 L87.2,154.0 L89.2,154.0 L91.3,153.1 L93.3,153.7 L95.4,153.6 L97.4,153.8 L99.5,153.1 L101.5,154.4 L103.6,153.7 L105.6,153.1 L107.7,152.9 L109.7,153.5 L111.8,153.5 L113.8,153.2 L115.9,153.6 L117.9,153.2 L120.0,153.7 L122.0,153.2 L124.1,153.4 L126.2,153.9 L128.2,154.6 L130.2,152.9 L132.3,153.2 L134.4,153.4 M82.1,162.9 L84.2,162.4 L86.2,162.6 L88.3,162.8 L90.3,162.4 L92.4,162.4 L94.4,162.6 L96.5,161.9 L98.5,162.1 L100.6,162.6 L102.6,162.8 L104.7,162.7 L106.8,161.9 L108.8,162.5 L110.9,163.1 L112.9,162.9 L115.0,162.6 L117.0,162.3 L119.1,162.9 L121.1,162.4 L123.2,162.1 L125.2,162.2 L127.3,163.2 L129.4,162.7 L131.4,163.1 L133.5,162.3 L135.5,163.0 L137.6,162.5 M81.4,169.5 L83.4,170.6 L85.4,169.9 L87.5,169.3 L89.5,169.5 L91.5,169.7 L93.5,170.1 L95.5,169.4 L97.6,168.8 L99.6,169.5 L101.6,169.7 L103.6,169.7 L105.6,170.3 L107.7,169.8 L109.7,170.1 L111.7,169.2 L113.7,170.1 L115.7,170.7 L117.8,170.1 L119.8,169.9 L121.8,169.9 L123.8,170.6 L125.9,169.4 L127.9,169.8 L129.9,170.1 L131.9,170.2 L134.0,169.7 L136.0,170.0 L138.0,169.8 L140.0,170.0 L142.0,170.0 M80.5,178.0 L82.5,178.0 L84.5,178.4 L86.5,177.6 L88.5,177.9 L90.5,178.3 L92.5,177.6 L94.5,178.2 L96.5,177.6 L98.5,178.6 L100.5,179.2 L102.5,179.0 L104.6,178.0 L106.6,178.5 L108.6,178.2 L110.6,178.2 L112.6,178.9 L114.6,177.6 L116.6,178.7 L118.6,178.2 L120.6,178.9 L122.6,178.4 L124.6,178.0 L126.6,178.4 L128.6,178.6 L130.6,178.3 L132.7,178.6 L134.7,178.1 L136.7,177.4 L138.7,178.8 L140.7,178.7 L142.7,178.5 L144.7,178.5 L146.7,178.9 L148.7,178.2 L150.7,178.1 L152.7,178.4 L154.7,179.0 L156.7,177.9 L158.7,179.1 L160.8,178.2 L162.8,178.0 L164.8,179.1 L166.8,178.5 L168.8,178.0 L170.8,178.4 L172.8,179.0 L174.8,178.6 M79.6,186.2 L82.3,186.4 L85.0,186.2 M85.4,186.2 L87.5,186.4 L89.5,186.2 L91.5,186.0 L93.6,186.0 L95.6,186.3 L97.7,186.3 L99.7,186.0 L101.8,186.1 L103.8,186.8 L105.8,186.4 L107.9,186.7 L109.9,186.9 L112.0,186.6 L114.0,187.4 L116.0,186.0 L118.1,186.7 L120.1,186.2 L122.2,187.2 L124.2,187.2 L126.3,185.5 L128.3,186.0 L130.3,186.7 L132.4,186.8 L134.4,186.8 L136.5,186.4 L138.5,186.7 L140.5,186.8 L142.6,186.5 L144.6,187.0 L146.7,185.5 L148.7,186.8 L150.7,186.1 L152.8,187.0 L154.8,186.4 L156.9,186.2 L158.9,186.7 L160.9,186.2 L163.0,186.2 L165.0,185.9 L167.1,186.6 L169.1,186.8 L171.1,187.1 L173.2,186.6 L175.2,186.6 M101.3,192.8 L103.3,192.8 L105.4,193.1 L107.4,193.3 L109.4,192.6 L111.5,192.7 L113.5,192.7 L115.6,192.8 L117.6,192.4 L119.7,193.3 L121.7,192.6 L123.7,193.0 L125.8,192.4 L127.8,193.0 L129.9,193.0 L131.9,192.6 L134.0,193.7 L136.0,193.0 L138.0,193.6 L140.1,193.3 L142.1,192.5 L144.2,192.7 L146.2,193.0 L148.3,192.9 L150.3,192.9 L152.3,192.7 L154.4,192.0 L156.4,192.7 L158.5,191.8 L160.5,193.0 L162.6,192.5 L164.6,192.5 L166.6,192.7 L168.7,193.0 L170.7,192.2 L172.8,192.1 L174.8,192.4 L176.9,192.9 M106.9,201.9 L109.0,202.6 L111.0,201.4 L113.0,202.2 L115.0,201.3 L117.0,202.1 L119.1,201.8 L121.1,202.0 L123.1,202.3 L125.1,202.8 L127.2,202.1 L129.2,202.1 L131.2,201.6 L133.2,202.3 L135.2,202.0 L137.3,202.5 L139.3,202.1 L141.3,202.9 L143.3,201.3 L145.4,202.0 L147.4,202.6 L149.4,202.0 L151.4,201.9 L153.4,202.1 L155.5,201.6 L157.5,202.3 L159.5,203.4 L161.5,202.8 L163.6,201.8 L165.6,201.9 L167.6,202.2 L169.6,202.8 L171.6,202.0 L173.7,202.1 L175.7,202.8 L177.7,202.4 M132.2,209.3 L134.2,208.8 L136.2,208.7 L138.2,209.0 L140.2,208.4 L142.2,209.7 L144.2,209.1 L146.2,209.6 L148.2,210.2 L150.3,209.9 L152.3,208.9 L154.3,209.8 L156.3,209.9 L158.3,209.1 L160.3,209.0 L162.3,209.3 L164.3,208.7 L166.3,210.1 L168.4,209.4 M135.9,216.3 L138.0,216.2 L140.1,216.2 L142.2,216.4 L144.3,216.4 L146.4,216.2 L148.5,216.8 L150.6,215.3 L152.7,216.3 L154.8,215.9 L156.9,216.3 L158.9,216.2 M140.6,224.5 L142.6,224.2 L144.6,224.9 L146.6,224.6 L148.6,224.2 L150.7,225.4 L152.7,225.5 L154.7,224.4 M187.3,178.3 L186.2,180.4 L187.0,182.6 L187.2,184.8 L187.4,186.9 L187.6,189.1 L187.4,191.3 L187.6,193.4 L187.0,195.6 L187.5,197.8 L187.5,199.9 L187.9,202.1 L187.3,204.3 M197.5,192.5 L197.6,194.5 L197.1,196.6 L197.4,198.6 L197.3,200.6 L197.4,202.6 L197.5,204.6 L197.5,206.6 M175.2,186.2 L177.4,186.6 L179.6,185.7 L181.8,186.8 L183.9,186.3 L186.1,185.9 L188.3,186.1 L190.5,186.0 L192.7,186.3 M176.8,192.6 L178.9,193.1 L181.0,192.3 L183.1,191.6 L185.1,192.3 L187.2,191.8 L189.3,192.7 L191.4,192.7 M195.6,192.7 L197.6,192.1 L199.6,192.4 L201.6,193.6 L203.6,192.8 M178.2,199.9 L180.4,200.3 L182.5,200.9 L184.6,200.4 L186.7,199.8 L188.8,199.8 L191.0,199.9 L193.1,199.3 L195.2,199.1 L197.3,199.6 L199.4,199.1 L201.6,199.4 L203.7,199.4 M201.7,161.8 L202.0,163.8 L201.7,165.8 L201.7,167.8 L201.5,169.9 L201.2,171.9 L201.9,173.9 L202.0,175.9 L202.4,178.0 L202.1,180.0 L201.4,182.0 L201.6,184.0 L202.1,186.1 L201.8,188.1 L201.6,190.1 L201.7,192.1 M195.1,167.6 L197.2,167.5 L199.3,166.8 L201.5,167.0 L203.6,168.3 L205.7,166.5 L207.8,167.4 L210.0,167.5 M193.6,174.9 L195.7,174.6 L197.8,175.0 L199.9,175.1 L202.0,175.2 L204.1,174.5 L206.2,175.3 L208.3,175.1 L210.4,175.6 M193.1,182.5 L195.3,182.8 L197.5,183.0 L199.7,182.4 L201.9,183.1 L204.1,183.2 L206.3,183.2 L208.5,183.4 L210.7,182.8 M191.9,190.2 L194.1,190.6 L196.3,189.7 L198.5,190.5 L200.7,190.2 L202.9,190.4 L205.1,189.8 L207.3,190.3 L209.5,190.7 L211.7,190.8 M221.9,159.2 L222.0,161.3 L222.0,163.3 L222.3,165.3 L221.7,167.4 L222.0,169.4 L221.7,171.4 L221.1,173.5 L221.9,175.5 L222.6,177.5 L222.3,179.6 L222.6,181.6 L222.5,183.6 L221.3,185.7 L221.8,187.7 L221.9,189.7 M209.9,165.4 L211.9,166.0 L213.9,165.3 L216.0,165.2 L218.0,165.5 L220.0,165.8 L222.0,166.0 L224.0,166.3 L226.1,166.4 L228.1,165.9 M210.3,174.9 L212.4,175.2 L214.5,174.3 L216.6,175.0 L218.6,175.3 L220.7,175.0 L222.8,175.7 L224.9,175.2 L227.0,175.0 L229.0,176.1 L231.1,175.5 M210.6,181.4 L212.8,181.7 L215.0,181.8 L217.2,181.4 L219.3,180.0 L221.5,180.8 L223.7,180.8 L225.9,180.5 L228.1,181.0 L230.3,181.4 L232.5,180.8 M211.3,188.2 L213.5,189.1 L215.7,188.1 L218.0,187.8 L220.1,188.6 L222.3,188.7 L224.6,188.3 L226.8,189.0 L229.0,188.7 M226.3,189.1 L226.3,191.8 L226.3,194.4 M234.4,189.5 L234.3,191.6 L234.5,193.7 L233.2,195.9 L234.4,198.0 M245.7,188.9 L245.8,191.5 L245.8,194.1 L245.7,196.7 M254.2,187.4 L253.6,189.5 L254.1,191.6 L254.5,193.7 L254.5,195.8 L254.0,197.9 L254.0,200.1 L253.6,202.2 L254.0,204.3 L253.7,206.4 L253.5,208.5 L254.1,210.6 L254.2,212.7 M263.2,198.9 L263.9,201.0 L262.5,203.1 L263.6,205.3 L262.7,207.4 L262.9,209.5 L262.4,211.6 L262.8,213.7 L263.3,215.8 L263.3,217.9 L263.2,220.0 L263.2,222.1 M217.9,194.0 L220.1,193.9 L222.3,194.7 L224.6,193.9 M224.6,193.9 L226.6,193.5 L228.6,194.0 L230.6,194.3 L232.7,193.9 L234.7,194.3 L236.7,193.2 L238.7,194.4 L240.7,193.9 M241.4,193.9 L243.4,194.0 L245.4,192.7 L247.4,193.5 L249.5,194.0 L251.5,194.6 L253.5,194.0 L255.5,194.0 L257.5,193.2 L259.6,193.8 M250.6,201.1 L252.7,201.1 L254.7,200.9 L256.7,200.2 L258.7,201.3 L260.7,202.1 L262.7,201.2 L264.7,200.8 M253.1,211.1 L255.3,210.7 L257.4,211.7 L259.5,210.6 L261.7,211.0 L263.8,211.2 L265.9,211.5 L268.1,211.3 L270.2,211.1 M259.3,218.1 L261.4,217.5 L263.5,218.1 L265.7,217.7 L267.8,217.5 L270.0,217.5 L272.1,218.0 M237.2,156.8 L237.8,158.9 L238.0,160.9 L237.2,163.0 L237.1,165.1 L236.3,167.1 L237.9,169.2 L237.5,171.3 L236.8,173.3 L237.3,175.4 L237.4,177.5 L236.5,179.5 L237.4,181.6 L237.8,183.7 L237.8,185.7 L237.1,187.8 L237.2,189.9 M246.1,153.7 L246.6,155.8 L245.9,157.9 L245.9,159.9 L246.4,162.0 L245.9,164.1 L245.9,166.1 L246.9,168.2 L246.3,170.3 L245.9,172.3 L246.4,174.4 L247.1,176.5 L246.3,178.5 L245.8,180.6 L245.4,182.6 L247.1,184.7 L245.0,186.8 L246.1,188.8 M258.2,154.3 L257.7,156.4 L257.8,158.5 L258.2,160.6 L258.8,162.7 L258.0,164.8 L258.6,166.9 L259.4,169.0 L257.0,171.1 L257.9,173.2 L258.2,175.3 M225.5,159.1 L227.6,159.7 L229.6,159.7 L231.7,159.7 L233.7,158.9 L235.8,158.4 L237.8,158.8 L239.8,157.8 L241.9,158.0 L243.9,158.8 L246.0,158.3 L248.0,158.6 L250.1,158.6 L252.1,159.5 L254.2,159.2 L256.2,158.5 L258.3,159.1 L260.3,158.1 L262.3,158.3 L264.4,158.8 L266.4,157.8 L268.5,158.4 M229.2,168.8 L231.2,168.9 L233.2,169.6 L235.2,168.5 L237.2,169.0 L239.2,168.5 L241.2,168.4 L243.2,168.4 L245.2,169.6 L247.2,170.0 L249.2,169.2 L251.2,168.7 L253.2,169.3 L255.3,168.9 L257.2,169.4 L259.3,169.2 L261.3,169.2 L263.3,169.1 M230.9,175.0 L233.1,174.8 L235.2,174.2 L237.3,174.8 L239.4,174.4 L241.5,175.0 L243.6,174.6 L245.7,175.1 L247.8,175.2 L249.9,174.4 L252.0,174.7 L254.2,174.6 L256.3,175.4 L258.4,175.0 M232.8,183.5 L234.9,183.3 L237.0,184.1 L239.2,182.8 L241.3,184.1 L243.5,183.1 L245.6,182.2 L247.7,184.6 L249.9,184.1 L252.0,182.9 L254.2,183.4 L256.3,183.3 M243.9,146.2 L244.6,148.2 L244.2,150.2 L243.7,152.3 L243.9,154.3 M254.6,141.3 L254.6,143.6 L253.5,145.9 L254.9,148.2 L254.5,150.5 L255.5,152.8 L254.6,155.1 M264.0,139.3 L264.4,141.4 L263.8,143.4 L264.0,145.4 L264.5,147.4 L264.2,149.4 L264.2,151.4 L264.2,153.5 L264.0,155.5 M274.9,136.8 L275.1,138.9 L275.3,140.9 L274.8,143.0 L274.9,145.0 L274.4,147.0 L273.7,149.1 L274.5,151.1 L274.9,153.2 L274.9,155.2 M245.6,144.1 L247.7,143.7 L249.8,143.7 L251.8,144.0 L253.9,144.0 L255.9,144.6 L258.0,144.1 L260.1,144.2 L262.2,143.8 L264.2,145.1 L266.3,144.7 L268.3,145.3 L270.4,144.9 L272.5,145.2 L274.5,144.4 L276.6,144.9 L278.7,145.8 L280.8,144.1 L282.8,145.2 L284.9,144.7 M240.0,150.5 L242.0,150.9 L244.0,151.1 L246.0,150.3 L248.0,150.8 L250.1,150.3 L252.1,150.4 L254.1,150.4 L256.1,150.7 L258.2,150.9 L260.2,151.0 L262.2,150.2 L264.2,151.8 L266.2,151.4 L268.3,151.3 L270.3,150.8 L272.3,151.0 L274.3,151.3 L276.4,151.3 L278.4,151.1 M242.6,135.0 L241.3,137.2 L243.5,139.3 L242.2,141.5 L242.6,143.6 M254.1,132.9 L253.4,135.0 L254.6,137.1 L254.0,139.3 L254.1,141.4 M263.4,117.9 L263.6,120.0 L263.4,122.2 L263.7,124.3 L262.7,126.5 L263.9,128.7 L263.0,130.8 L264.0,133.0 L263.1,135.1 L263.5,137.3 L263.4,139.5 M270.6,121.9 L271.1,124.2 L270.8,126.5 L269.9,128.7 L271.1,131.0 L271.1,133.3 L270.0,135.6 L270.6,137.8 M256.4,127.0 L258.6,127.1 L260.8,126.6 L263.0,127.0 L265.1,127.6 L267.3,127.5 L269.5,127.1 L271.7,127.2 L273.9,127.1 L276.0,127.2 M239.8,134.8 L241.1,134.8 L242.4,134.8 M252.9,134.8 L255.0,135.2 L257.2,135.1 L259.3,134.8 L261.4,134.6 L263.6,134.9 L265.7,134.1 L267.8,134.3 L270.0,135.3 L272.1,134.7 L274.2,135.1 L276.4,135.5 L278.5,135.3 L280.6,135.0 M264.8,114.6 L264.5,116.2 L264.8,117.8 M273.0,112.6 L272.8,114.3 L273.0,116.0 M273.0,119.8 L273.1,122.4 L273.0,124.9 M270.5,121.7 L272.1,121.6 L273.8,121.7 M274.7,121.7 L277.1,121.4 L279.5,121.5 L281.9,121.5 M210.3,139.5 L210.0,141.9 L210.8,144.3 L210.4,146.7 L210.3,149.1 M221.3,133.9 L221.6,136.2 L220.8,138.4 L221.5,140.6 L221.5,142.9 L221.2,145.1 L221.3,147.3 M231.4,128.7 L231.8,130.8 L231.9,132.9 L231.9,135.0 L231.8,137.1 L231.8,139.2 L231.2,141.3 L231.8,143.4 L231.4,145.5 M242.5,124.7 L242.8,126.7 L242.4,128.8 L241.7,130.8 L242.3,132.8 L242.5,134.9 M254.9,89.5 L255.3,91.6 L254.8,93.7 L254.5,95.8 L255.3,97.9 L255.0,100.0 L254.4,102.1 L255.1,104.2 L254.8,106.3 L255.3,108.5 L255.3,110.6 L255.1,112.7 L253.9,114.8 L254.9,116.9 M254.9,117.0 L255.1,119.3 L255.0,121.5 L254.6,123.7 L254.8,125.9 L254.0,128.1 L254.9,130.3 M264.3,85.6 L264.2,87.7 L264.1,89.8 L265.0,91.9 L264.4,94.0 L264.4,96.0 L264.5,98.1 L265.3,100.2 L263.9,102.3 L264.5,104.3 L264.5,106.4 L264.5,108.5 L264.4,110.6 L264.2,112.6 L264.3,114.7 M274.2,70.8 L274.1,72.9 L274.2,75.0 L274.4,77.0 L274.5,79.1 L274.6,81.2 L274.3,83.2 L273.7,85.3 L274.7,87.4 L273.6,89.5 L273.9,91.5 L274.4,93.6 L273.9,95.7 L274.9,97.7 L275.0,99.8 L274.8,101.9 L274.4,104.0 L274.4,106.0 L274.5,108.1 L274.2,110.2 L274.2,112.2 M266.2,77.8 L268.2,77.2 L270.3,77.6 L272.3,77.7 L274.4,77.4 L276.4,77.3 L278.5,77.5 L280.5,78.0 M263.1,86.3 L265.1,86.6 L267.2,85.9 L269.2,86.0 L271.2,86.0 L273.2,86.6 L275.2,85.5 L277.2,87.0 L279.2,86.3 L281.3,86.2 L283.3,86.6 M252.4,93.9 L254.5,94.1 L256.6,94.4 L258.7,94.0 L260.8,94.5 L263.0,94.5 L265.1,93.9 L267.2,94.6 L269.3,94.0 L271.4,94.0 L273.5,93.5 L275.6,93.8 L277.7,94.3 L279.8,93.3 L282.0,94.2 L284.1,93.9 M246.0,103.1 L248.1,102.2 L250.2,103.1 L252.3,103.5 L254.4,102.8 L256.5,103.2 L258.6,102.1 L260.7,103.5 L262.8,102.9 L264.9,103.6 L267.0,102.4 L269.1,103.6 L271.2,103.2 L273.3,103.7 L275.4,102.9 L277.5,103.0 L279.6,104.3 L281.7,103.0 L283.8,103.4 M247.4,110.1 L249.4,109.7 L251.5,110.7 L253.5,110.9 L255.6,109.8 L257.6,109.3 L259.7,110.6 L261.7,110.6 L263.8,110.5 L265.8,110.6 L267.9,109.7 L269.9,110.0 L272.0,109.5 L274.0,109.4 L276.1,110.5 L278.1,109.8 L280.2,111.1 L282.2,110.1 L284.3,110.1 M247.0,118.9 L249.0,119.7 L251.1,119.1 L253.2,118.3 L255.3,118.9 M259.5,118.9 L260.2,118.7 L261.0,118.9 M277.2,118.8 L279.4,118.9 L281.5,118.8 M241.7,126.8 L243.8,126.4 L245.9,126.9 L248.1,126.8 L250.2,127.2 L252.4,127.0 L254.5,125.9 L256.6,126.6 M221.1,134.1 L223.2,134.3 L225.3,134.6 L227.3,133.9 L229.4,133.7 L231.5,134.5 L233.5,133.6 L235.6,133.1 L237.6,134.6 L239.7,134.1 M241.7,134.1 L244.1,133.5 L246.5,133.5 L248.9,133.6 L251.3,134.0 L253.7,134.1 M207.2,143.4 L209.2,143.7 L211.3,142.8 L213.4,142.9 L215.5,143.6 L217.5,143.3 L219.6,142.6 L221.7,144.1 L223.8,142.9 L225.9,143.4 L227.9,143.4 L230.0,143.9 L232.1,143.0 L234.2,143.7 L236.2,143.2 M294.2,82.5 L294.5,85.4 L294.2,88.4 M286.9,74.9 L289.9,75.2 L292.9,75.2 M300.2,45.8 L300.1,48.0 L300.6,50.2 L299.9,52.3 L300.8,54.5 L299.7,56.7 L299.7,58.8 L300.5,61.0 L300.5,63.2 L300.1,65.3 L300.2,67.5 L300.7,69.7 L300.2,71.8 M291.3,55.1 L293.3,54.9 L295.4,54.9 L297.4,54.9 L299.5,55.2 L301.5,54.4 L303.6,55.2 L305.6,54.9 M290.3,62.3 L292.4,61.6 L294.6,61.7 L296.8,62.3 L298.9,61.6 L301.1,62.1 L303.2,62.4 L305.4,62.4 L307.5,62.6 L309.7,61.8 M291.1,70.0 L293.3,70.4 L295.5,70.0 L297.8,70.3 L300.0,69.8 L302.2,69.7 M280.4,77.6 L282.5,78.0 L284.7,78.0 L286.8,77.9 M229.7,106.5 L229.6,108.7 L229.3,110.9 L229.9,113.1 L228.9,115.3 L229.8,117.5 L229.3,119.7 L229.7,121.9 L229.8,124.1 L228.8,126.3 L229.7,128.5 M239.6,106.3 L239.9,108.4 L239.7,110.6 L238.6,112.7 L239.5,114.8 L239.1,117.0 L240.0,119.1 L239.4,121.3 L239.3,123.4 L238.8,125.5 L239.9,127.7 L239.6,129.8 M222.7,108.8 L224.8,108.3 L226.8,108.8 L228.8,108.7 L230.9,107.8 L232.9,109.1 L234.9,109.1 L237.0,108.7 L239.0,108.3 L241.0,109.6 L243.1,109.0 L245.1,109.4 L247.2,108.9 M223.9,116.3 L226.0,116.7 L228.2,116.1 L230.3,116.2 L232.5,116.2 L234.7,116.2 L236.8,116.6 L239.0,116.2 L241.1,116.0 L243.3,115.9 L245.4,116.2 L247.6,116.0 M225.1,124.2 L227.3,124.2 L229.5,124.0 L231.7,124.2 L233.9,123.9 L236.1,125.1 L238.3,124.8 L240.5,124.4 L242.7,124.2 M222.5,78.7 L222.3,80.8 L222.5,82.8 L222.3,84.8 L222.3,86.9 L221.8,88.9 L222.5,91.0 L221.5,93.0 L222.9,95.0 L222.2,97.1 L222.9,99.1 L221.6,101.2 L222.6,103.2 L222.5,105.2 L222.5,107.3 M212.6,85.4 L214.7,84.9 L216.8,85.1 L218.8,84.6 L220.9,85.3 L223.0,85.1 L225.1,84.9 L227.2,85.1 M210.3,92.1 L212.4,91.7 L214.5,92.3 L216.6,92.7 L218.7,91.1 L220.8,91.9 L223.0,91.8 L225.1,91.9 M225.9,91.9 L228.1,91.9 L230.4,91.4 L232.7,91.9 M212.3,101.8 L214.4,101.7 L216.4,102.0 L218.5,101.8 L220.6,101.3 L222.7,102.3 L224.8,102.2 L226.9,102.1 L229.0,102.6 L231.1,102.2 M217.2,108.1 L217.5,110.1 L216.5,112.2 L216.5,114.2 L217.5,116.2 L217.7,118.2 L217.5,120.3 L217.4,122.3 L217.9,124.3 L217.2,126.3 L217.8,128.4 L217.7,130.4 L216.8,132.4 L217.5,134.5 L217.2,136.5 M208.1,115.1 L210.3,115.6 L212.6,115.1 L214.8,115.4 L217.1,115.1 L219.3,116.3 L221.5,115.9 L223.8,115.7 M209.4,125.5 L211.7,125.9 L214.0,125.8 L216.2,126.5 L218.5,126.4 L220.8,125.6 L223.1,125.9 L225.4,126.1 M209.6,133.5 L211.9,133.6 L214.2,134.9 L216.6,133.8 L219.0,132.9 L221.3,134.0 M197.0,105.0 L197.5,107.1 L197.4,109.2 L197.1,111.3 L196.8,113.4 L197.1,115.5 L197.4,117.6 L196.6,119.7 L197.2,121.8 L197.2,123.9 L197.6,126.0 L197.3,128.1 L196.7,130.2 L197.7,132.3 L197.0,134.4 L196.7,136.4 L197.0,138.5 M192.3,111.1 L194.5,110.6 L196.7,111.6 L198.9,111.4 L201.0,110.9 L203.2,109.9 L205.4,110.2 L207.6,110.6 M187.3,120.4 L189.4,120.5 L191.6,120.9 L193.7,120.0 L195.8,120.1 L198.0,120.2 L200.1,120.3 L202.3,119.4 L204.4,120.5 L206.6,120.6 L208.7,119.9 M190.7,128.8 L192.9,128.9 L195.0,128.5 L197.1,127.7 L199.2,129.2 L201.3,128.9 L203.4,128.6 L205.5,129.8 L207.6,128.9 L209.7,128.9 M196.2,136.9 L198.2,136.5 L200.3,136.6 L202.3,137.1 L204.4,136.7 L206.5,136.8 L208.5,137.0 M187.4,74.0 L187.0,76.0 L187.1,78.0 L187.2,80.0 L186.7,82.0 L187.4,84.0 L186.5,86.0 L187.8,88.0 L187.5,90.0 L188.0,92.0 L187.5,94.0 L187.1,96.0 L186.7,98.0 L187.7,100.0 L187.4,102.0 L187.4,104.0 M200.7,72.6 L201.2,74.6 L200.7,76.6 L201.5,78.6 L200.7,80.6 L200.7,82.6 L201.0,84.6 L201.2,86.6 L201.3,88.6 L199.9,90.6 L201.3,92.6 L200.0,94.6 L200.4,96.6 L200.9,98.6 L201.2,100.6 L200.2,102.6 L200.7,104.6 M210.5,72.1 L210.7,74.7 L210.5,77.3 M179.3,74.5 L181.5,75.4 L183.6,74.3 L185.8,74.8 L188.0,74.6 M188.5,74.6 L190.6,74.4 L192.6,73.7 L194.6,74.7 L196.7,74.7 L198.7,75.7 L200.8,74.7 L202.8,74.9 L204.8,75.2 L206.9,75.7 L208.9,75.0 L211.0,75.5 L213.0,75.3 L215.1,75.0 L217.1,75.2 L219.1,75.2 L221.2,75.2 M177.2,82.7 L179.3,82.1 L181.4,83.3 L183.5,83.2 L185.6,82.8 L187.7,82.5 L189.9,82.8 L192.0,83.1 L194.1,83.3 L196.2,83.1 L198.3,83.4 L200.4,82.7 L202.5,83.1 L204.6,83.1 M178.5,90.7 L180.5,90.8 L182.6,90.5 L184.6,91.3 L186.6,91.0 L188.7,89.5 L190.7,90.8 L192.8,90.1 L194.8,91.3 L196.8,91.9 L198.9,90.6 L200.9,90.8 L202.9,90.7 L205.0,90.8 M185.0,97.3 L187.2,97.9 L189.3,96.9 L191.5,98.0 L193.6,96.9 L195.8,97.5 L197.9,97.9 L200.0,97.7 L202.2,96.9 L204.3,97.4 M160.8,58.7 L160.8,60.7 L160.3,62.8 L161.4,64.9 L160.6,67.0 L160.5,69.0 L160.5,71.1 L160.6,73.2 L160.1,75.2 L160.6,77.3 L160.4,79.4 L160.5,81.4 L160.0,83.5 L161.7,85.6 L160.2,87.6 L160.9,89.7 L160.9,91.8 L161.2,93.8 L161.6,95.9 L161.0,98.0 L160.8,100.0 M172.8,61.7 L173.4,63.8 L172.1,65.9 L172.6,68.0 L172.9,70.1 L173.1,72.2 L173.1,74.3 L173.3,76.4 L173.0,78.5 L172.8,80.6 L172.9,82.7 L173.4,84.8 L172.9,86.9 L173.2,89.0 L172.7,91.1 L171.9,93.2 L172.5,95.3 L172.9,97.4 L172.8,99.5 M182.9,63.7 L183.7,66.1 L182.6,68.5 L182.9,70.9 M182.9,94.4 L183.2,96.6 L182.9,98.8 M153.6,64.0 L155.7,63.6 L157.8,63.7 L160.0,63.5 L162.1,64.2 L164.3,63.3 L166.4,63.2 L168.5,63.0 L170.7,63.0 L172.8,63.8 L175.0,64.7 L177.1,63.0 L179.2,63.4 M154.9,70.1 L157.0,69.6 L159.1,70.0 L161.1,70.0 L163.2,69.8 L165.3,70.9 L167.4,69.2 L169.4,70.2 L171.5,70.1 L173.6,69.7 L175.7,70.0 L177.7,70.3 L179.8,70.0 L181.9,70.1 L184.0,69.9 M155.8,77.1 L157.9,77.7 L160.0,78.1 L162.1,77.5 L164.2,77.6 L166.3,76.5 L168.4,77.1 L170.5,76.8 L172.6,76.9 L174.7,77.6 L176.8,76.8 L178.9,77.2 M156.5,86.0 L158.6,85.9 L160.6,86.0 L162.6,85.6 L164.6,85.6 L166.6,86.8 L168.6,85.4 L170.6,85.4 L172.6,85.5 L174.6,86.4 L176.6,85.8 M157.1,93.7 L159.2,93.4 L161.3,93.6 L163.5,94.3 L165.6,93.4 L167.7,94.5 L169.9,94.5 L172.0,93.9 L174.2,94.2 L176.3,94.3 L178.4,94.7 L180.6,93.6 L182.7,94.1 M125.9,58.7 L126.3,60.7 L125.9,62.8 L126.0,64.9 L126.4,67.0 L126.6,69.1 L126.3,71.2 L125.3,73.3 L125.0,75.3 L125.6,77.4 L125.4,79.5 L125.9,81.6 M137.6,59.0 L137.5,61.1 L138.1,63.1 L138.1,65.2 L137.6,67.3 L137.8,69.4 L138.1,71.5 L137.5,73.6 L137.8,75.6 L137.2,77.7 L137.6,79.8 L137.6,81.9 M147.8,59.0 L147.9,61.1 L148.1,63.2 L148.0,65.2 L147.4,67.3 L147.5,69.4 L147.2,71.5 L148.5,73.6 L148.0,75.7 L148.0,77.7 L147.7,79.8 L147.8,81.9 M118.1,65.5 L120.2,65.8 L122.3,65.6 L124.4,65.0 L126.5,66.1 L128.6,65.9 L130.7,65.2 L132.8,65.9 L135.0,65.2 L137.1,66.0 L139.2,65.4 L141.3,65.2 L143.4,65.4 L145.5,65.2 L147.6,65.7 L149.7,65.7 L151.8,65.6 L153.9,65.6 M117.6,74.4 L119.7,74.4 L121.8,73.6 L123.9,74.5 L126.0,74.9 L128.1,74.6 L130.2,74.3 L132.3,74.4 L134.4,74.4 L136.5,74.2 L138.7,74.2 L140.8,74.1 L142.9,75.1 L145.0,74.5 L147.1,75.0 L149.2,74.4 L151.3,74.6 L153.4,74.5 L155.5,74.6 M71.7,53.2 L71.6,55.3 L72.0,57.3 L72.0,59.3 L70.9,61.4 L71.8,63.4 L71.8,65.4 L71.0,67.5 L71.2,69.5 L71.4,71.5 L71.8,73.6 L70.6,75.6 L71.5,77.6 L71.4,79.7 L71.7,81.7 L72.3,83.7 L72.3,85.8 L71.7,87.8 M88.6,55.6 L88.7,57.7 L89.1,59.7 L89.2,61.7 L88.7,63.7 L89.2,65.7 L88.2,67.8 L88.0,69.8 L87.3,71.8 L88.2,73.8 L88.8,75.8 L89.0,77.9 L90.1,79.9 L88.8,81.9 L88.6,83.9 L88.1,86.0 L88.3,88.0 L88.3,90.0 L88.5,92.0 L88.3,94.0 L87.9,96.1 L89.0,98.1 L88.8,100.1 L89.2,102.1 L87.8,104.2 L88.0,106.2 L88.2,108.2 L89.1,110.2 L88.5,112.2 L88.7,114.3 L88.6,116.3 M103.7,57.2 L103.4,59.2 L103.8,61.3 L103.3,63.3 L103.6,65.3 L103.8,67.3 L103.7,69.3 L103.9,71.3 L103.3,73.4 L103.8,75.4 L103.5,77.4 L103.8,79.4 L104.3,81.4 L103.3,83.4 L104.1,85.5 L103.4,87.5 L103.5,89.5 L104.4,91.5 L104.1,93.5 L103.9,95.5 L104.0,97.5 L104.2,99.6 L103.3,101.6 L103.8,103.6 L103.5,105.6 L103.9,107.6 L103.5,109.6 L104.0,111.7 L103.7,113.7 L103.4,115.7 L103.7,117.7 M60.1,65.3 L62.2,64.8 L64.2,65.4 L66.3,65.5 L68.4,65.3 L70.5,65.1 L72.5,65.7 L74.6,66.6 L76.7,65.3 L78.7,65.6 L80.8,65.7 L82.9,64.4 L84.9,65.6 L87.0,65.2 L89.1,66.2 L91.2,65.5 L93.2,65.3 L95.3,65.5 L97.4,65.7 L99.4,65.4 L101.5,65.7 L103.6,65.1 L105.6,65.6 L107.7,66.1 L109.8,66.7 L111.9,66.1 L113.9,65.9 L116.0,66.4 L118.1,65.9 M62.7,77.6 L64.7,78.1 L66.7,77.6 L68.7,77.8 L70.8,77.8 L72.8,77.8 L74.8,77.8 L76.9,77.4 L78.9,76.8 L80.9,77.4 L82.9,76.9 L85.0,77.8 L87.0,77.8 L89.0,77.1 L91.0,78.1 L93.1,78.2 L95.1,77.9 L97.1,78.6 L99.2,78.7 L101.2,77.4 L103.2,78.4 L105.2,78.1 L107.3,78.1 L109.3,78.4 L111.3,77.6 L113.4,77.7 L115.4,77.6 L117.4,78.0 M78.8,92.6 L80.9,92.0 L83.0,92.2 L85.1,93.0 L87.2,92.7 L89.3,93.0 L91.4,92.0 L93.5,92.5 L95.6,92.6 L97.7,92.9 L99.8,92.6 L101.9,93.4 L104.0,92.9 L106.1,93.0 L108.2,93.0 L110.3,93.4 L112.4,92.9 L114.5,93.6 L116.6,93.1 M77.4,103.9 L79.4,103.9 L81.4,104.0 L83.5,104.2 L85.5,104.2 L87.6,103.9 L89.6,104.1 L91.6,103.7 L93.7,104.2 L95.7,103.6 L97.7,102.6 L99.8,104.1 L101.8,103.5 L103.8,102.9 L105.9,103.3 L107.9,103.0 L110.0,104.3 L112.0,103.6 L114.0,102.6 L116.0,103.3 M62.2,68.5 L61.4,70.5 L62.7,72.6 L63.2,74.6 L62.2,76.6 L62.4,78.7 L62.4,80.7 L63.2,82.7 L62.0,84.7 L61.5,86.8 L63.1,88.8 L61.7,90.8 L62.5,92.9 L61.2,94.9 L62.0,96.9 L62.3,98.9 L61.7,101.0 L62.0,103.0 L62.2,105.0 M51.6,63.7 L54.1,63.5 L56.6,62.9 L59.1,63.7 M49.4,79.7 L51.5,79.4 L53.5,79.8 L55.5,78.9 L57.6,79.0 L59.6,79.4 L61.7,79.4 L63.7,79.6 L65.8,79.6 M46.1,92.3 L48.2,92.6 L50.2,92.6 L52.3,91.8 L54.3,92.4 L56.4,91.9 L58.4,92.8 L60.5,92.5 L62.5,92.3 L64.5,91.7 L66.6,92.3 L68.6,91.9 L70.7,92.6 L72.7,92.2 L74.8,91.9 L76.8,92.7 L78.9,92.3 M42.2,101.3 L41.7,103.4 L42.3,105.4 L42.3,107.4 L42.1,109.5 L42.5,111.5 L42.4,113.6 L42.3,115.6 L41.5,117.6 L41.5,119.7 L42.3,121.7 L41.5,123.8 L42.2,125.8 L42.0,127.8 L41.8,129.9 L42.1,131.9 L41.1,134.0 L42.1,136.0 L42.7,138.0 L41.6,140.1 L42.4,142.1 L42.3,144.2 L43.5,146.2 L42.2,148.3 M24.9,111.8 L27.0,112.1 L29.0,112.2 L31.0,112.5 L33.0,111.7 L35.1,112.2 L37.1,111.4 L39.1,111.6 L41.1,112.2 L43.2,111.9 L45.2,111.1 L47.2,111.8 L49.2,111.6 L51.2,111.3 L53.3,111.8 L55.3,111.4 L57.3,110.9 L59.3,111.6 M27.0,126.5 L29.1,125.9 L31.3,126.7 L33.4,126.9 L35.5,126.9 L37.7,126.1 L39.8,126.5 L41.9,126.7 L44.1,127.0 L46.2,126.4 L48.3,126.2 L50.5,127.2 L52.6,127.2 L54.7,126.9 L56.9,126.8 M38.1,142.7 L40.1,142.7 L42.2,143.0 L44.2,142.1 L46.2,142.7 L48.2,142.5 L50.3,142.1 L52.3,142.7 L54.3,142.6 M70.4,106.3 L70.2,108.3 L71.0,110.3 L70.4,112.4 L70.2,114.4 L70.2,116.4 L69.9,118.4 L70.9,120.4 L71.1,122.4 L70.3,124.5 L70.2,126.5 L69.4,128.5 L70.1,130.5 L70.8,132.5 L70.0,134.5 L70.8,136.6 L71.0,138.6 L69.2,140.6 L70.2,142.6 L70.4,144.6 M58.2,118.6 L60.3,119.4 L62.3,118.7 L64.4,119.1 L66.4,118.0 L68.5,117.8 L70.5,119.1 L72.6,119.0 L74.6,118.6 L76.7,118.4 L78.7,118.4 L80.8,117.9 L82.8,118.9 L84.9,118.5 L86.9,118.1 M56.1,131.8 L58.2,132.3 L60.3,132.0 L62.4,132.1 L64.5,131.2 L66.6,132.0 L68.7,132.7 L70.8,131.4 L72.9,131.6 L75.0,132.0 L77.1,132.0 L79.2,131.9 L81.3,130.9 L83.4,131.8 L85.5,131.5 M126.3,81.6 L126.0,83.6 L126.4,85.6 L125.9,87.7 L124.9,89.7 L125.9,91.7 L126.0,93.7 L126.7,95.7 L126.6,97.8 L126.8,99.8 L126.5,101.8 L126.3,103.8 M135.5,81.9 L135.6,83.9 L136.0,85.9 L136.2,87.9 L136.1,89.9 L135.3,91.9 L135.5,94.0 L135.1,96.0 L135.1,98.0 L135.7,100.0 L135.2,102.0 L135.5,104.1 M147.9,81.9 L147.4,84.0 L148.0,86.0 L148.4,88.0 L147.7,90.1 L148.7,92.1 L148.3,94.2 L147.6,96.2 L147.9,98.3 L148.1,100.3 L147.5,102.4 L147.9,104.4 M116.8,90.2 L118.8,90.0 L120.8,89.8 L122.8,90.4 L124.8,89.7 L126.8,91.0 L128.8,89.8 L130.8,91.0 L132.8,89.6 L134.8,90.3 L136.8,89.5 L138.8,89.4 L140.8,90.1 L142.8,90.3 L144.8,89.4 L146.8,90.5 L148.8,89.6 L150.8,90.0 L152.8,90.0 L154.8,90.1 L156.8,89.8 M116.3,97.9 L118.4,98.2 L120.4,97.7 L122.5,97.5 L124.6,97.2 L126.6,97.4 L128.6,98.3 L130.7,97.9 L132.8,97.6 L134.8,97.9 L136.9,98.8 L138.9,98.0 L141.0,97.9 L143.0,98.8 L145.1,98.4 L147.1,98.3 L149.2,98.0 L151.2,97.6 L153.3,97.8 L155.3,98.1 L157.4,98.4 M124.0,103.7 L123.8,105.9 L123.9,108.1 L123.9,110.2 L124.5,112.4 L125.0,114.6 L124.3,116.7 L124.0,118.9 M134.0,104.0 L134.1,106.1 L134.5,108.2 L134.5,110.2 L134.0,112.3 L133.9,114.4 L134.3,116.4 L133.7,118.5 L134.1,120.6 L134.4,122.6 L133.9,124.7 L134.0,126.8 M143.9,104.1 L143.3,106.2 L143.2,108.3 L143.2,110.3 L144.2,112.4 L143.0,114.5 L143.8,116.5 L144.0,118.6 L144.0,120.7 L143.6,122.7 L143.8,124.8 L143.9,126.9 M153.6,106.1 L154.0,108.1 L154.1,110.2 L153.3,112.3 L153.3,114.4 L153.1,116.4 L154.1,118.5 L153.2,120.6 L153.4,122.6 L152.8,124.7 L153.6,126.8 M115.6,112.2 L117.6,112.0 L119.7,111.4 L121.7,111.8 L123.8,112.6 L125.9,111.8 L127.9,111.7 L130.0,112.4 L132.0,112.4 L134.1,112.4 L136.2,111.6 L138.2,111.9 L140.3,112.4 L142.3,111.6 L144.4,111.6 L146.5,112.2 L148.5,112.6 L150.6,111.3 L152.6,110.7 L154.7,111.1 L156.7,111.3 L158.8,111.8 M117.5,118.6 L119.6,118.6 L121.6,118.3 L123.7,118.8 L125.8,118.3 L127.9,118.7 L129.9,118.5 L132.0,120.0 L134.1,119.2 L136.2,118.5 L138.2,118.4 L140.3,118.7 L142.4,118.2 L144.5,118.6 L146.5,118.6 L148.6,119.4 L150.7,118.8 L152.8,118.7 L154.8,118.5 L156.9,118.6 L159.0,119.1 L161.1,119.2 M98.4,117.3 L98.7,119.3 L98.0,121.3 L98.3,123.4 L98.5,125.4 L99.4,127.4 L99.0,129.5 L98.1,131.5 L97.8,133.5 L98.4,135.6 L98.1,137.6 L98.6,139.6 L98.6,141.6 L98.7,143.7 L98.0,145.7 L98.4,147.7 M111.3,118.3 L111.5,120.3 L111.1,122.3 L111.2,124.3 L111.7,126.4 L110.6,128.4 L111.2,130.4 L111.3,132.4 L110.7,134.5 L110.9,136.5 L111.4,138.5 L111.1,140.6 L111.8,142.6 L111.6,144.6 L112.4,146.6 L111.3,148.7 M86.0,127.1 L88.0,127.4 L90.0,126.8 L92.0,126.8 L94.0,127.1 L96.0,127.4 L98.0,127.6 L100.0,128.1 L102.1,127.5 L104.1,127.8 L106.1,127.2 L108.1,127.8 L110.1,127.6 L112.1,127.3 L114.1,127.5 L116.2,127.6 L118.2,127.7 L120.2,127.9 L122.2,127.5 L124.2,127.4 L126.2,127.8 M84.8,138.0 L86.8,137.7 L88.9,138.7 L91.0,136.8 L93.0,137.8 L95.1,138.4 L97.1,137.4 L99.2,139.3 L101.2,137.0 L103.3,138.8 L105.3,138.9 L107.4,138.6 L109.4,138.1 L111.5,138.4 L113.6,137.9 L115.6,138.6 L117.7,137.8 L119.7,138.2 L121.8,138.8 L123.8,137.9 L125.9,138.4 M135.4,126.8 L136.0,128.9 L134.9,130.9 L135.2,133.0 L136.1,135.1 L135.4,137.2 L135.7,139.2 L135.7,141.3 L135.4,143.4 L135.7,145.4 L135.0,147.5 L135.4,149.6 M148.3,126.8 L148.4,128.9 L148.0,131.0 L148.6,133.1 L148.6,135.1 L148.9,137.2 L148.1,139.3 L147.9,141.3 L147.4,143.4 L147.8,145.5 L148.2,147.6 L148.3,149.6 M159.5,126.6 L159.6,128.7 L158.9,130.8 L159.1,132.8 L159.9,134.9 L159.8,137.0 L158.9,139.0 L159.4,141.1 L159.6,143.2 L159.0,145.3 L159.7,147.3 L159.5,149.4 M126.0,135.0 L128.1,134.1 L130.1,135.4 L132.2,134.5 L134.2,134.8 L136.3,134.7 L138.3,135.4 L140.4,135.0 L142.5,135.1 L144.5,134.3 L146.6,135.1 L148.6,134.5 L150.7,135.3 L152.7,135.3 L154.8,135.2 L156.9,136.1 L158.9,135.4 L161.0,135.5 L163.0,135.3 L165.1,135.2 L167.2,135.7 L169.2,135.3 M125.8,141.6 L127.9,142.0 L129.9,141.7 L132.0,141.9 L134.1,141.6 L136.2,140.8 L138.2,140.8 L140.4,142.1 L142.4,141.4 L144.5,140.6 L146.6,141.3 L148.6,141.0 L150.7,140.3 L152.8,140.0 L154.9,140.3 L157.0,141.1 L159.0,140.9 L161.1,140.8 L163.2,141.0 L165.3,141.1 L167.3,139.8 L169.4,140.7 M137.1,149.6 L137.7,151.5 L137.1,153.4 M149.5,149.6 L149.6,151.8 L150.2,154.0 L149.7,156.2 L148.6,158.4 L150.0,160.6 L150.3,162.8 L149.4,165.0 L149.2,167.1 L149.3,169.3 L149.5,171.5 M159.5,149.4 L159.8,151.4 L160.0,153.5 L159.7,155.5 L159.5,157.5 L159.1,159.5 L159.2,161.5 L159.5,163.6 L159.0,165.6 L159.4,167.6 L159.1,169.6 L160.1,171.7 L159.5,173.7 M137.6,157.0 L139.7,156.4 L141.8,156.9 L143.8,157.0 L145.9,156.8 L148.0,156.9 L150.0,157.7 L152.1,155.9 L154.2,157.5 L156.2,158.1 L158.3,157.1 L160.4,157.1 L162.4,157.4 L164.5,157.9 L166.5,156.6 L168.6,157.1 L170.7,157.1 M137.5,167.0 L139.5,167.1 L141.5,167.3 L143.6,166.9 L145.6,167.1 L147.6,166.8 L149.6,166.9 L151.6,167.1 L153.6,167.2 L155.6,166.7 L157.6,168.0 L159.6,167.3 L161.6,166.7 L163.6,167.9 L165.7,167.1 L167.7,167.7 L169.7,167.5 L171.7,167.5 M178.8,152.3 L179.0,154.3 L178.7,156.4 L177.8,158.4 L179.8,160.5 L178.7,162.5 L178.6,164.6 L179.2,166.6 L179.4,168.6 L177.8,170.7 L178.9,172.7 L177.8,174.8 L178.5,176.8 L178.8,178.9 M188.9,151.5 L188.6,153.6 L188.3,155.6 L188.7,157.7 L188.8,159.7 L188.8,161.8 L188.3,163.8 L188.5,165.9 L189.3,167.9 L189.2,170.0 L188.7,172.0 L189.2,174.0 L189.0,176.1 L188.9,178.1 M170.9,158.6 L173.1,158.8 L175.2,159.1 L177.3,158.7 L179.5,159.6 L181.6,158.7 L183.7,160.2 L185.8,159.2 L188.0,159.0 L190.1,158.6 L192.3,157.6 L194.4,158.8 L196.5,158.9 L198.6,158.9 M171.6,165.6 L173.7,166.5 L175.9,165.6 L178.1,166.1 L180.3,164.7 L182.4,166.0 L184.5,165.8 L186.7,166.4 L188.9,166.2 L191.0,165.7 L193.2,166.7 L195.3,166.3 M172.0,173.1 L174.1,173.6 L176.3,173.7 L178.5,173.3 L180.7,172.7 L182.9,172.8 L185.1,174.0 L187.3,173.8 L189.5,173.6 L191.7,173.4 L193.8,173.6 M169.6,99.6 L169.8,101.6 L169.9,103.6 L168.7,105.6 L169.5,107.6 L169.9,109.6 L170.2,111.6 L170.0,113.6 L169.3,115.6 L169.3,117.6 L169.7,119.6 L169.6,121.6 M180.4,99.0 L180.9,101.0 L179.8,103.0 L180.2,105.0 L179.3,107.0 L180.7,109.0 L180.4,111.0 L180.0,113.0 L180.5,115.0 L181.0,117.0 L180.8,119.0 L180.4,121.0 M157.0,106.7 L159.1,106.6 L161.1,107.0 L163.2,107.0 L165.3,106.7 L167.3,106.5 L169.4,106.3 L171.5,106.7 L173.5,106.8 L175.6,106.4 L177.7,106.5 L179.8,106.1 L181.8,105.6 L183.9,105.8 L186.0,106.5 L188.0,106.3 L190.1,106.1 M160.3,114.9 L162.3,115.3 L164.4,115.5 L166.4,115.4 L168.5,114.7 L170.5,114.9 L172.6,115.1 L174.6,114.6 L176.7,115.3 L178.7,115.6 L180.8,114.9 L182.8,116.1 L184.9,115.1 L186.9,115.1 L189.0,115.2 M172.4,121.5 L172.2,123.6 L172.4,125.7 L171.6,127.7 L172.1,129.8 L172.1,131.9 L172.5,134.0 L173.0,136.0 L172.4,138.1 L172.7,140.2 L171.9,142.3 L172.4,144.4 L171.6,146.4 L172.0,148.5 L172.0,150.6 L172.4,152.7 M181.7,120.9 L181.4,123.0 L181.3,125.0 L182.0,127.1 L181.5,129.2 L180.5,131.3 L181.8,133.4 L181.8,135.5 L182.0,137.5 L182.4,139.6 L181.2,141.7 L181.7,143.8 L181.6,145.9 L180.9,147.9 L180.6,150.0 L181.7,152.1 M191.7,130.1 L191.4,132.2 L191.5,134.3 L191.5,136.4 L191.7,138.6 L191.0,140.7 L191.4,142.8 L191.6,144.9 L191.1,147.0 L191.3,149.2 L191.7,151.3 M167.0,128.8 L169.2,129.6 L171.3,129.0 L173.4,128.6 L175.5,128.3 L177.6,128.4 L179.8,128.1 L181.9,128.5 L184.0,128.6 L186.1,127.5 L188.3,128.4 L190.4,128.3 M169.3,138.5 L171.5,138.1 L173.6,139.1 L175.7,138.2 L177.9,138.0 L180.0,138.1 L182.1,138.5 L184.2,139.0 L186.4,139.1 L188.5,138.7 L190.6,138.0 L192.7,138.3 L194.9,138.2 L197.0,138.6 M169.6,146.0 L171.7,146.0 L173.7,146.3 L175.7,145.9 L177.7,146.2 L179.7,145.6 L181.7,145.3 L183.7,145.7 L185.7,146.5 L187.7,146.5 L189.7,145.8 L191.8,146.6 L193.8,145.9 L195.8,146.7 L197.8,146.2 L199.8,145.8 L201.8,146.0 M208.0,149.4 L208.5,151.7 L208.7,154.1 L207.9,156.4 L208.1,158.7 L208.0,161.0 M216.8,148.1 L216.2,150.4 L217.0,152.8 L217.2,155.2 L216.3,157.6 L216.8,159.9 M228.0,146.1 L228.8,148.2 L228.3,150.2 L227.7,152.2 L228.0,154.3 L227.3,156.3 L228.0,158.3 M238.1,144.4 L238.4,147.0 L237.5,149.7 L238.1,152.4 M200.2,152.2 L202.2,151.9 L204.3,151.5 L206.3,151.6 L208.3,151.8 L210.4,151.6 L212.4,152.6 L214.4,152.6 L216.5,152.1 L218.5,151.5 L220.5,151.9 L222.5,151.6 L224.6,152.5 L226.6,152.0 L228.6,152.0 L230.7,151.6 L232.7,150.8 L234.7,151.4 L236.7,151.2 L238.8,151.6" fill="none" stroke="#000" stroke-opacity="0.6" stroke-width="0.5"/>
<path d="M16.1,43.5 L18.0,44.7 L19.9,45.9 L21.2,46.8 L22.5,47.7 L23.5,48.1 L23.2,51.1 L22.9,53.3 L22.5,55.6 L23.5,55.8 L24.7,53.4 L25.8,51.0 L26.2,48.2 L26.5,45.4 L26.4,43.5 L28.6,44.1 L30.9,44.7 L33.1,45.2 L35.3,45.8 L37.6,46.3 L39.8,46.9 L42.2,47.4 L44.7,48.0 L47.1,48.5 L49.5,49.1 L52.0,49.6 L54.4,50.1 L56.9,50.6 L59.3,51.0 L61.8,51.5 L64.2,52.0 L66.7,52.4 L69.1,52.8 L71.6,53.2 L74.1,53.6 L76.5,54.0 L79.0,54.3 L81.5,54.7 L84.0,55.0 L86.4,55.4 L88.9,55.7 L91.4,56.0 L93.9,56.3 L96.3,56.5 L98.8,56.8 L101.3,57.0 L103.8,57.2 L106.3,57.5 L108.8,57.7 L111.3,57.8 L113.7,58.0 L116.2,58.2 L118.7,58.3 L121.2,58.5 L123.7,58.6 L126.2,58.7 L128.7,58.8 L131.2,58.8 L133.7,58.9 L136.2,58.9 L138.7,59.0 L141.2,59.0 L143.7,59.0 L145.9,59.0 L148.2,59.0 L150.4,59.0 L152.6,58.9 L154.7,58.9 L156.7,58.8 L158.8,58.8 L160.8,58.7 L162.9,58.6 L162.7,55.8 L164.4,56.1 L165.0,58.4 L165.7,60.6 L167.6,60.9 L169.4,61.2 L171.3,61.5 L173.6,61.7 L175.8,62.0 L178.5,63.1 L181.1,64.2 L183.1,63.6 L185.0,63.1 L187.4,63.6 L189.7,64.1 L191.2,64.1 L188.9,65.8 L186.5,67.5 L184.3,69.5 L182.2,71.6 L180.7,73.0 L179.3,74.5 L181.1,74.0 L182.8,73.4 L184.4,72.9 L185.9,72.4 L188.2,74.8 L190.4,73.7 L192.6,72.5 L194.0,71.0 L195.4,69.6 L197.6,68.4 L199.8,67.2 L198.6,70.7 L200.7,72.5 L202.7,74.3 L205.3,74.0 L207.9,73.7 L209.6,72.7 L211.3,71.7 L213.6,70.9 L215.9,70.0 L218.1,72.1 L220.7,71.7 L223.8,74.2 L222.0,74.9 L220.3,75.6 L218.1,76.7 L216.0,76.3 L214.0,75.8 L212.0,76.7 L210.0,77.5 L208.2,78.4 L206.5,79.2 L205.2,81.8 L204.0,84.4 L202.3,88.4 L203.8,86.5 L205.3,84.6 L206.9,82.5 L206.3,85.7 L205.6,88.8 L204.4,92.7 L204.4,96.6 L204.3,100.4 L205.2,103.2 L206.1,106.0 L207.0,108.8 L209.4,110.4 L211.6,108.2 L212.0,105.7 L212.4,103.1 L212.1,100.5 L211.9,97.8 L211.0,95.3 L210.1,92.7 L210.6,90.4 L211.1,88.0 L212.6,85.5 L213.9,83.1 L215.6,81.7 L217.3,80.3 L218.1,77.2 L220.3,78.0 L222.4,78.7 L224.1,79.5 L225.9,80.4 L226.6,82.9 L227.3,85.5 L226.1,88.0 L224.8,90.5 L225.2,92.7 L227.5,90.0 L230.0,88.4 L231.7,89.3 L232.9,92.5 L234.0,95.8 L234.0,98.8 L232.6,100.3 L231.1,101.7 L231.0,104.0 L229.7,106.5 L232.1,107.1 L234.4,107.6 L237.2,106.9 L239.9,106.2 L241.9,104.7 L243.8,103.1 L245.8,101.5 L247.6,99.9 L249.3,98.3 L251.2,95.7 L253.0,93.0 L251.6,90.2 L254.2,89.6 L256.7,89.0 L259.3,88.4 L261.4,87.3 L263.6,86.1 L265.7,84.9 L265.3,82.2 L265.0,79.6 L266.6,77.2 L268.2,74.9 L269.6,73.3 L271.0,71.8 L273.4,71.1 L275.9,70.3 L278.4,69.6 L280.6,68.9 L282.9,68.2 L285.2,67.5 L287.5,66.8 L289.0,64.1 L290.2,62.9 L290.8,59.9 L291.4,57.0 L291.3,54.6 L291.2,52.3 L292.2,48.9 L293.2,45.6 L295.2,45.5 L297.1,45.5 L299.1,45.7 L301.1,45.9 L302.0,48.5 L303.0,51.2 L303.9,53.8 L306.7,55.6 L308.7,57.9 L310.7,60.2 L309.6,62.0 L308.4,63.8 L306.9,65.1 L305.4,66.5 L303.9,68.0 L302.4,69.5 L300.7,71.3 L299.0,73.1 L297.1,74.9 L296.4,79.1 L295.9,81.6 L296.0,84.4 L296.1,85.6 L299.0,87.4 L300.0,88.7 L301.8,88.1 L301.7,85.7 L303.1,88.0 L303.3,89.2 L301.8,89.6 L300.4,90.1 L298.4,91.2 L296.9,92.0 L295.5,93.1 L293.0,94.5 L290.6,95.4 L288.2,96.3 L286.4,98.0 L284.5,99.8 L283.3,101.7 L283.9,103.9 L284.5,107.2 L284.1,111.3 L283.0,113.8 L281.9,116.4 L281.1,114.5 L277.8,113.4 L277.0,112.5 L278.4,114.4 L281.0,117.7 L282.0,120.1 L281.7,123.8 L280.6,127.6 L279.2,131.1 L278.6,129.1 L278.0,127.1 L275.7,123.8 L274.7,121.7 L273.7,119.6 L273.1,115.8 L272.0,117.3 L272.7,119.2 L273.5,121.2 L274.5,123.3 L275.5,125.4 L276.3,127.9 L277.0,130.5 L279.2,132.8 L280.9,135.3 L282.2,137.2 L283.5,139.0 L284.8,141.8 L285.2,144.4 L282.9,146.6 L281.5,148.3 L280.0,150.1 L278.1,151.3 L276.2,152.6 L274.9,155.2 L273.6,157.9 L271.5,158.5 L269.4,159.2 L268.1,161.7 L266.7,164.1 L265.0,166.6 L263.2,169.1 L261.6,170.6 L260.0,172.1 L258.1,175.6 L256.8,179.3 L256.3,183.3 L256.5,186.3 L257.6,189.9 L258.6,192.0 L259.7,194.1 L262.0,197.4 L263.6,199.4 L265.2,201.4 L265.9,203.5 L267.3,205.9 L268.6,208.3 L269.9,210.7 L271.3,213.1 L272.1,216.7 L272.1,218.8 L272.2,220.8 L271.3,224.8 L268.7,226.1 L266.3,226.2 L265.3,223.4 L263.2,222.1 L261.0,220.8 L259.1,217.8 L256.5,214.9 L253.5,212.0 L251.9,208.5 L251.6,204.8 L251.0,202.6 L250.5,200.4 L247.8,198.6 L244.7,195.7 L241.0,193.7 L238.3,195.3 L236.7,196.7 L235.1,198.1 L232.4,197.7 L230.1,195.4 L227.3,194.7 L224.6,193.9 L221.4,194.7 L218.3,195.5 L215.1,196.3 L214.4,193.0 L213.0,195.4 L209.8,195.8 L207.9,196.4 L206.0,197.0 L204.8,198.0 L203.6,199.5 L206.4,201.1 L208.6,202.8 L209.5,204.9 L207.6,206.3 L205.4,204.6 L202.3,206.4 L200.3,206.6 L198.4,206.8 L195.0,206.0 L192.9,205.2 L190.9,204.4 L187.6,204.3 L185.6,203.9 L183.6,203.5 L180.5,203.7 L177.4,203.9 L175.6,204.5 L173.9,205.2 L171.6,206.8 L169.4,208.4 L166.2,211.5 L164.3,212.7 L162.3,213.9 L160.3,215.3 L158.4,216.6 L156.7,218.9 L154.8,222.7 L154.5,226.4 L155.6,230.1 L156.4,232.7 L154.0,233.3 L151.2,232.5 L148.5,231.7 L145.7,230.4 L143.0,229.1 L141.8,227.1 L140.6,225.0 L140.3,221.3 L137.3,217.9 L135.0,215.3 L134.0,213.2 L133.1,211.1 L131.8,208.6 L130.5,206.2 L128.0,204.1 L126.0,203.7 L124.1,203.4 L121.4,204.0 L119.3,207.0 L116.6,209.6 L114.0,208.2 L110.8,206.9 L107.6,204.1 L106.5,200.6 L105.7,198.5 L104.9,196.4 L103.0,194.6 L101.2,192.7 L99.4,191.3 L97.6,189.8 L95.7,187.2 L93.0,186.9 L90.4,186.7 L87.7,186.4 L85.0,186.2 L84.7,189.6 L81.7,189.2 L78.6,188.9 L75.6,188.5 L72.5,188.2 L69.5,187.8 L66.4,187.4 L63.5,185.8 L60.7,184.2 L57.8,182.6 L54.9,180.8 L51.9,179.0 L49.4,177.7 L46.8,176.3 L44.2,175.0 L45.0,173.5 L42.0,173.2 L38.9,172.9 L35.9,172.7 L32.9,172.4 L29.9,172.0 L29.8,169.8 L29.7,167.6 L28.2,165.0 L26.2,162.2 L23.8,161.4 L23.6,159.4 L21.2,158.8 L19.2,156.4 L17.0,154.8 L14.8,154.1 L12.6,153.3 L11.8,152.0 L12.2,149.9 L12.6,147.9 L11.7,145.3 L9.8,142.5 L8.6,140.0 L7.3,137.6 L7.6,135.3 L8.8,134.0 L7.6,132.6 L6.1,130.2 L6.2,127.5 L6.6,125.6 L4.9,124.0 L4.2,123.4 L3.7,120.5 L2.8,117.9 L1.8,115.3 L2.2,113.2 L2.6,111.2 L3.0,108.5 L2.2,106.3 L1.2,104.5 L3.6,101.2 L4.3,97.5 L4.9,94.9 L5.5,92.3 L5.1,88.2 L5.3,85.5 L7.3,82.6 L9.4,79.2 L10.3,76.8 L11.3,74.3 L12.3,71.5 L13.4,68.6 L14.4,65.0 L15.3,61.7 L15.5,59.1 L15.8,56.0 L15.7,53.7 L15.7,51.3 L15.3,48.1 L15.7,45.8 L16.1,43.5 L16.1,43.5Z M283.6,102.8 L285.5,102.2 L287.4,101.7 L289.4,100.3 L291.3,98.9 L292.8,97.4 L294.3,95.9 L292.9,96.6 L291.5,97.3 L289.6,98.1 L287.8,98.8 L286.2,99.9 L284.6,100.9 L283.6,102.8Z" fill="none" stroke="#000" stroke-opacity="0.7" stroke-width="0.6"/>
<path d="M14.6,47.6 L19,49.2 L25.5,52.4" fill="none" stroke="#fff" stroke-width="1.1"/>
</g><g transform="translate(307.3,0)">
<g clip-path="url(#usclip)">
<rect x="0" y="30" width="320" height="220" fill="#fff"/>
<path d="M0,42 L14,42 L42,47 L42,55 L31,71 L24,75 L19,80 L17,96 L0,96Z" fill="#f1a34a"/><path d="M0,42 L24,44 L24,47.7 L14,47.7 L0,47.7Z" fill="#dc7a1a"/><path d="M17,50 L27.4,50 L27.4,72.6 L17,72.6Z" fill="#dc7a1a"/><path d="M18,53 L24,54 L23,68 L18,68Z" fill="#cc6a10"/><path d="M30,47 L40,48 L38,56 L30,70Z" fill="#dc7a1a"/><path d="M0,71 L13.7,71 L13.7,88 L0,88Z" fill="#f1a34a"/><path d="M30.9,58.9 L49.7,58.9 L49.7,74.3 L30.9,74.3Z" fill="#fee4c4"/><path d="M39.5,48 L49.7,48 L49.7,64 L39.5,64Z" fill="#ffffff"/><path d="M43,46 L60,46 L60,59 L43,59Z" fill="#fdc07c"/><path d="M18,74 L41,74 L41,100 L18,100Z" fill="#fee4c4"/><path d="M36,72.6 L51.5,72.6 L51.5,84.6 L36,84.6Z" fill="#fdc07c"/><path d="M6.9,81 L24,81 L24,96.6 L6.9,96.6Z" fill="#fdc07c"/><path d="M41,84.6 L48,84.6 L48,100 L41,100Z" fill="#ffffff"/><path d="M49.7,46 L60,46 L60,100 L49.7,100Z" fill="#f1a34a"/><path d="M51.4,57 L60,57 L60,81 L51.4,81Z" fill="#dc7a1a"/><path d="M57,40 L73.4,40 L73.4,52.9 L73.4,65 L76,79.5 L63,79.5 L59.7,75Z" fill="#dc7a1a"/><path d="M70,40 L102.6,40 L100.9,67.4 L73.4,65.7Z" fill="#f1a34a"/><path d="M73.4,65.7 L99.2,67.4 L97.4,77.7 L76.9,76Z" fill="#fdc07c"/><path d="M80.3,77.7 L102.6,77.7 L104.3,88 L80.3,86.3Z" fill="#f1a34a"/><path d="M102.6,40 L118,40 L118,74.3 L99.2,74.3Z" fill="#fdc07c"/><path d="M102.6,74.3 L118,74.3 L118,89.7 L102.6,88Z" fill="#fee4c4"/><path d="M66.6,74.3 L80.3,72.6 L82,86.3 L66.6,88Z" fill="#fdc07c"/><path d="M59.7,74.3 L64.8,74.3 L64.8,100 L59.7,100Z" fill="#f1a34a"/><path d="M63,81 L68.3,81 L70,96.6 L63,96.6Z" fill="#fee4c4"/><path d="M78.6,86.3 L85.4,86.3 L85.4,100 L78.6,100Z" fill="#dc7a1a"/><path d="M85.4,88 L99.2,88 L99.2,100 L85.4,100Z" fill="#fdc07c"/><path d="M99.2,88 L116.3,88 L116.3,100 L99.2,100Z" fill="#fee4c4"/><path d="M46,92 L77,92 L77,106.6 L46,106.6Z" fill="#fdc07c"/><path d="M59.7,95 L83.7,95 L83.7,107 L59.7,107Z" fill="#f1a34a"/><path d="M76.9,95 L83.7,95 L83.7,103.6 L76.9,103.6Z" fill="#dc7a1a"/><path d="M76.9,100.1 L87.1,105.3 L97.4,117.3 L82,117.3 L76.9,110.4Z" fill="#fdc07c"/><path d="M85.4,95 L107.7,95 L107.7,103.6 L85.4,103.6Z" fill="#fee4c4"/><path d="M73.4,108.7 L80.3,108.7 L80.3,127.6 L73.4,127.6Z" fill="#fee4c4"/><path d="M59.7,105.3 L68.3,105.3 L68.3,138 L59.7,138Z" fill="#e4e1f1"/><path d="M99.2,119 L119.7,119 L119.7,132.7 L99.2,132.7Z" fill="#e4e1f1"/><path d="M107.7,103.6 L119.7,103.6 L119.7,119 L107.7,119Z" fill="#e4e1f1"/><path d="M61.4,127.6 L75.1,125.9 L85.4,129.3 L85.4,144.7 L70,143 L61.4,137.9Z" fill="#bcb5da"/><path d="M79,120 L86,120 L86,128 L79,128Z" fill="#e4e1f1"/><path d="M100.9,131 L119.7,132.7 L119.7,146.5 L107.7,146.5 L100.9,139.6Z" fill="#958cc3"/><path d="M94,138 L107.7,138 L107.7,146.5 L94,146.5Z" fill="#bcb5da"/><path d="M0,127 L6.9,127.6 L13.7,129.3 L18.9,150 L25.7,155 L13.7,155 L0,145Z" fill="#bcb5da"/><path d="M27.4,127.6 L46.3,124.2 L56.6,129.3 L60,126.7 L60,150 L27.4,150Z" fill="#bcb5da"/><path d="M60,105 L70,105 L70,140 L60,140Z" fill="#e4e1f1"/><path d="M70,125 L86,128 L86,146 L70,144Z" fill="#bcb5da"/><path d="M0,150 L16,144 L60,144 L60,200 L0,200Z" fill="#958cc3"/><path d="M25.7,131 L39.5,139.6 L48,146.5 L56.6,143 L60,146.5 L60,155 L27.4,155Z" fill="#958cc3"/><path d="M12.9,124.2 L22.3,122.4 L25.7,131 L29.2,146.5 L27.4,153.3 L20.6,151.6 L15.4,137.9Z" fill="#e4e1f1"/><path d="M60,144 L120,148 L120,160 L84,160 L80,176 L60,176Z" fill="#7562a6"/><path d="M55.7,155.3 L66,163.9 L64.3,167.3 L55.7,163.9Z" fill="#bcb5da"/><path d="M48,168 L84,168 L84,195 L56,195Z" fill="#54298a"/><path d="M80,160 L120.9,158 L120.9,186.2 L96.9,186.2 L80,195Z" fill="#54298a"/><path d="M119.7,40 L154,40 L154,69 L147.1,68.2 L136.9,68.2 L131.7,67.3 L119.7,65.6Z" fill="#fdc07c"/><path d="M119.7,65.6 L136.9,68.2 L136.9,74.2 L119.7,73.3Z" fill="#fee4c4"/><path d="M154,40 L176,40 L176.3,87.9 L171.2,87.9 L169.4,75 L164.3,72.4 L154,75.9Z" fill="#fee4c4"/><path d="M173.7,40 L192,40 L190.8,63.7 L183.1,72.3 L176,75.9Z" fill="#fdc07c"/><path d="M157.4,91.3 L167.7,91.3 L167.7,99.9 L157.4,99.9Z" fill="#e4e1f1"/><path d="M130,96.7 L159,96.7 L159,105.3 L130,105.3Z" fill="#bcb5da"/><path d="M157.4,99.9 L169.4,99.9 L169.4,105 L157.4,105Z" fill="#e4e1f1"/><path d="M119.7,103.6 L164.3,103.6 L164.3,155 L119.7,155Z" fill="#bcb5da"/><path d="M119.7,105.3 L128.3,105.3 L128.3,129.3 L119.7,129.3Z" fill="#e4e1f1"/><path d="M128.3,105.3 L147.1,105.3 L147.1,115.6 L159.2,115.6 L162.6,125.9 L147.1,127.6 L140.3,134.5 L128.3,134.5Z" fill="#958cc3"/><path d="M128.3,116.4 L136.9,116.4 L136.9,120.7 L148,120.7 L148,127.6 L140.3,131.9 L128.3,131.9Z" fill="#7562a6"/><path d="M157.4,96.7 L169.4,96.7 L169.4,120.7 L157.4,120.7Z" fill="#e4e1f1"/><path d="M155.7,125.9 L171.2,125.9 L171.2,155 L155.7,155Z" fill="#e4e1f1"/><path d="M119.7,132.7 L126.6,136.2 L126.6,155 L119.7,155Z" fill="#7562a6"/><path d="M126.6,137 L140.3,137 L140.3,152 L126.6,152Z" fill="#958cc3"/><path d="M139.7,145 L172,145 L172,172.4 L139.7,172.4Z" fill="#bcb5da"/><path d="M156.9,145 L172.3,145 L172.3,170.7 L156.9,170.7Z" fill="#e4e1f1"/><path d="M120.9,150 L139.7,150 L139.7,190 L120.9,190Z" fill="#7562a6"/><path d="M129.4,162.2 L139.7,162.2 L139.7,186.2 L129.4,186.2Z" fill="#bcb5da"/><path d="M96.9,186.2 L139.7,186.2 L139.7,215 L96.9,215Z" fill="#7562a6"/><path d="M174,167.3 L194.6,167.3 L194.6,184.5 L174,184.5Z" fill="#e4e1f1"/><path d="M174,177.6 L199.7,177.6 L199.7,196.5 L174,196.5Z" fill="#bcb5da"/><path d="M139.7,170.7 L179.2,170.7 L180.9,184.5 L182.6,196.5 L165.4,198.2 L150,194.7 L139.7,189.6Z" fill="#958cc3"/><path d="M139.7,189.6 L151.7,194.7 L150,205 L139.7,205Z" fill="#7562a6"/><path d="M163.7,194.7 L180.9,194.7 L180.9,215 L163.7,215Z" fill="#7562a6"/><path d="M180.9,194.7 L198,196.5 L198,215 L180.9,215Z" fill="#7562a6"/><path d="M189.4,198.2 L205,198.2 L205,215 L189.4,215Z" fill="#54298a"/><path d="M150,196.5 L163.7,196.5 L165.4,205 L150,205Z" fill="#54298a"/><path d="M135,206 L160,198 L175,200 L175,208 L158,222 L157,240 L135,240Z" fill="#54298a"/><path d="M162,205 L177.7,205 L177.7,212 L162,212Z" fill="#7562a6"/><path d="M186.6,74 L196.9,69.7 L205.4,74 L205.4,89.5 L186.6,89.5Z" fill="#fee4c4"/><path d="M195.1,94.6 L205.4,94.6 L205.4,106.6 L195.1,106.6Z" fill="#fee4c4"/><path d="M190,50 L230,50 L221.7,74 L214,75.7 L207.1,77.4 L205.4,74Z" fill="#fdc07c"/><path d="M208,82 L219.1,75 L226,77 L227.7,87.7 L234.6,89.5 L234.6,99.7 L231.1,106.6 L217.4,110 L208,109Z" fill="#fdc07c"/><path d="M216.6,89.5 L224.3,89.5 L224.3,98 L216.6,98Z" fill="#fee4c4"/><path d="M208,98 L219.1,98 L219.1,110 L208,110Z" fill="#fee4c4"/><path d="M265.4,79.5 L275.7,70 L280.9,69.2 L282.6,82.9 L274,86.3 L265.4,86.3Z" fill="#fee4c4"/><path d="M280.9,69.2 L289.4,65.7 L291.1,76 L286,81.2 L282.6,82.9Z" fill="#fee4c4"/><path d="M251.7,89.7 L265.4,84.6 L277.4,86.3 L279.2,91.5 L260.3,93.2 L250,98.3Z" fill="#fee4c4"/><path d="M248.3,97.5 L262,97.5 L262,100 L248.3,100Z" fill="#fdc07c"/><path d="M196,96.7 L205.4,96.7 L205.4,104.4 L196,104.4Z" fill="#fee4c4"/><path d="M212.4,95 L235.3,95 L237.5,101.9 L255.8,99.6 L260.4,108.7 L255.8,117.9 L244.4,129.3 L239.8,138.4 L228.4,149.9 L216.9,154.4 L201,154.4 L205.6,140.7 L212.4,133.9 L212.4,120.1 L217,115.6 L217,101.9Z" fill="#fdc07c"/><path d="M232.7,100 L254.7,100 L258.7,112 L254.7,122 L244.7,138 L232.7,146Z" fill="#fdc07c"/><path d="M196.4,104.1 L212.4,101.9 L217,115.6 L212.4,120.1 L212.4,133.9 L205.6,140.7 L201,154.4 L191.8,161.3 L196.4,140.7 L203.3,129.3 L203.3,113.3Z" fill="#fee4c4"/><path d="M196.4,154.4 L235.3,147.6 L239.8,156.7 L210.1,161.3 L196.4,163.6Z" fill="#fee4c4"/><path d="M256.7,100 L264.7,100 L264.7,108 L256.7,108Z" fill="#fee4c4"/><path d="M248.7,126 L254.7,122 L246.7,138 L242.7,138Z" fill="#fee4c4"/><path d="M240.7,140 L258.7,122 L264.7,122 L250.7,144 L240.7,148Z" fill="#ffffff"/><path d="M258,95 L290,95 L290,108 L262,112Z" fill="#ffffff"/><path d="M258.7,112 L282.7,100 L290,105 L290,124 L270.7,124 L260.7,124Z" fill="#e4e1f1"/><path d="M252.7,132 L264.7,122 L290,122 L290,138 L252.7,140Z" fill="#bcb5da"/><path d="M244.7,142 L282.7,136 L290,136 L290,146 L244.7,150Z" fill="#958cc3"/><path d="M232.7,148 L248.7,146 L248.7,156 L232.7,160Z" fill="#e4e1f1"/><path d="M248.7,146 L290,144 L290,154 L252.7,158 L248.7,156Z" fill="#7562a6"/><path d="M240.7,156 L258.7,158 L258.7,170 L240.7,170Z" fill="#7562a6"/><path d="M258.7,154 L272.7,150 L268.7,162 L254.7,166Z" fill="#54298a"/><path d="M252.7,160 L290,158 L290,172 L252.7,172Z" fill="#54298a"/><path d="M263,93 L281,93 L281,108.6 L263,108.6Z" fill="#ffffff"/><path d="M281.3,83.4 L301.9,81 L306,92.6 L295,99.4 L281.3,104Z" fill="#e4e1f1"/><path d="M290,88 L300,86 L300,96 L290,98Z" fill="#bcb5da"/><path d="M199.7,154 L225.4,154 L225.4,160.4 L199.7,160.4Z" fill="#fee4c4"/><path d="M171.7,180 L231.8,176 L262,160 L262,200 L171.7,200Z" fill="#958cc3"/><path d="M174.8,172 L231.8,170 L231.8,180 L174.8,183Z" fill="#e4e1f1"/><path d="M200,178 L231.8,175 L231.8,188 L200,190Z" fill="#bcb5da"/><path d="M231.8,160 L256,152 L270,160 L262,195 L231.8,192Z" fill="#7562a6"/><path d="M231.8,156 L245,152 L245,168 L231.8,170Z" fill="#958cc3"/><path d="M246.8,165 L268,158 L268,196 L246.8,196Z" fill="#54298a"/><path d="M180.8,189 L252.8,187 L252.8,205 L180.8,205Z" fill="#7562a6"/><path d="M205,191 L252.8,189 L252.8,205 L205,205Z" fill="#54298a"/><path d="M229.7,187 L259.7,181 L261.7,195 L253.7,197 L235.7,195 L229.7,200Z" fill="#54298a"/><path d="M251.7,195 L261.7,195 L275,217 L275,230 L265.7,230 L251.7,203Z" fill="#2d004b"/>
</g>
<path d="M15.3,61.7 L17.0,62.6 L18.8,63.5 L19.9,67.7 L21.4,68.3 L22.9,68.9 L25.5,69.4 L28.1,69.8 L29.9,70.1 L31.7,70.3 L34.2,70.1 L36.7,69.8 L38.3,69.9 L39.9,69.9 L42.0,70.4 L44.1,70.9 L46.3,71.3 L48.4,71.8 L50.5,72.2 M54.2,50.0 L53.6,53.2 L53.0,56.3 L52.4,59.5 L51.8,62.6 L51.2,65.8 L50.5,68.9 L50.5,72.2 L51.6,75.5 L50.3,77.9 L49.1,80.4 L47.8,82.4 L46.6,84.5 L46.9,88.4 L46.3,91.7 L45.6,95.1 L44.9,98.4 L44.2,101.7 M5.5,92.3 L8.0,93.0 L10.5,93.7 L13.0,94.4 L15.5,95.0 L18.0,95.7 L20.5,96.3 L23.0,97.0 L25.5,97.6 L28.1,98.2 L30.7,98.8 L33.4,99.4 L36.1,100.0 L38.8,100.6 L41.5,101.2 L44.2,101.7 L46.9,102.3 L49.6,102.8 L52.3,103.3 L55.0,103.8 L57.7,104.3 L60.5,104.7 L63.2,105.2 L65.9,105.6 L68.7,106.1 L71.4,106.5 L74.2,106.9 L76.9,107.2 M59.1,51.0 L58.6,53.5 L58.1,56.0 L57.7,58.6 L58.2,60.8 L58.7,63.1 L60.2,65.4 L61.7,67.7 L63.2,70.0 L63.0,72.8 L62.8,75.5 L62.6,78.3 L64.2,78.9 L65.9,79.6 L67.4,83.7 L68.7,85.8 L70.0,87.9 L72.5,87.8 L75.1,87.6 L77.6,87.5 L79.4,88.5 L78.9,92.2 L78.4,96.0 L77.9,99.7 L77.4,103.5 L76.9,107.2 L76.4,111.0 L76.0,114.8 M79.9,84.7 L82.5,85.1 L85.1,85.4 L87.8,85.7 L90.4,86.0 L93.0,86.3 L95.7,86.6 L98.3,86.9 L101.0,87.1 L103.6,87.3 L106.3,87.5 L108.9,87.7 L111.6,87.9 L114.2,88.1 L116.9,88.3 M118.5,58.3 L118.3,62.0 L118.1,65.8 L117.9,69.5 L117.7,73.2 L117.5,77.0 L117.3,80.7 L117.1,84.5 L116.9,88.3 L116.7,92.0 L116.4,95.8 L116.2,99.6 L116.0,103.3 L115.8,107.1 L115.6,110.9 L115.4,114.7 L115.2,118.5 M117.2,81.2 L119.8,81.3 L122.5,81.5 L125.1,81.6 L127.7,81.7 L130.3,81.7 L132.9,81.8 L135.5,81.9 L138.1,81.9 L140.8,81.9 L143.4,81.9 L146.0,81.9 L148.6,81.9 L151.2,81.9 L153.8,81.8 L156.4,81.8 M116.0,103.3 L118.6,103.5 L121.1,103.6 L123.6,103.7 L126.2,103.8 L128.7,103.9 L131.2,104.0 L133.7,104.0 L136.3,104.1 L138.8,104.1 L141.3,104.1 L143.9,104.1 L146.4,104.1 L149.1,104.7 L151.9,105.2 L154.4,106.5 L156.9,107.7 M76.0,114.8 L78.8,115.1 L81.6,115.5 L84.3,115.8 L87.1,116.1 L89.9,116.4 L92.8,116.7 L95.6,117.0 L98.4,117.3 L101.2,117.5 L104.0,117.7 L106.8,117.9 L109.6,118.1 L112.4,118.3 L115.2,118.5 L118.0,118.6 L120.9,118.8 L123.7,118.9 L126.5,119.0 L126.4,122.8 L126.2,126.6 L129.0,126.7 L131.7,126.7 L134.5,126.8 L137.3,126.8 L140.0,126.9 L142.8,126.9 L145.5,126.9 L148.3,126.8 L151.0,126.8 L153.8,126.8 L156.5,126.7 L159.3,126.6 L162.1,126.5 L164.8,126.4 M60.5,104.7 L59.9,108.4 L59.3,112.0 L58.7,115.6 L58.1,119.2 L57.5,122.8 L56.9,126.5 L56.3,130.1 L55.8,133.7 L55.2,137.3 L54.6,140.9 L54.0,144.6 L53.4,148.2 M87.1,116.1 L86.8,119.8 L86.4,123.4 L86.0,127.1 L85.6,130.7 L85.2,134.4 L84.8,138.0 L84.4,141.7 L84.0,145.3 L83.6,149.0 L83.2,152.6 L82.8,156.3 L82.4,159.9 L82.0,163.5 L81.6,167.2 L81.2,170.8 L80.9,174.5 L80.5,178.1 L80.1,181.7 L79.7,185.4 L79.3,189.0 M54.4,142.2 L57.2,142.7 L60.0,143.1 L62.9,143.5 L65.7,144.0 L68.5,144.4 L71.4,144.8 L74.2,145.1 L77.0,145.5 L79.9,145.9 L82.7,146.2 L85.6,146.5 L88.4,146.8 L91.3,147.1 L94.1,147.4 L97.0,147.6 L99.8,147.9 L102.7,148.1 L105.5,148.3 L108.4,148.5 L111.3,148.7 L114.1,148.8 L117.0,149.0 L119.8,149.1 L122.7,149.2 L125.6,149.3 M126.5,119.0 L126.4,122.8 L126.2,126.6 L126.1,130.4 L126.0,134.2 L125.9,138.0 L125.8,141.8 L125.7,145.5 L125.5,149.3 L125.4,153.1 M119.8,149.1 L119.7,152.9 L122.7,153.0 L125.7,153.1 L128.7,153.2 L131.7,153.3 L134.7,153.4 L137.7,153.4 L137.6,157.1 L137.6,160.8 L137.6,164.4 L137.5,168.1 L140.0,169.1 L142.4,170.1 L144.9,170.6 L147.4,171.1 L149.9,171.6 L152.4,172.7 L154.9,173.8 L157.7,173.7 L160.5,173.6 L163.6,173.2 L166.6,172.7 L169.2,173.7 L171.7,174.7 L174.6,174.9 M119.4,152.9 L119.3,156.7 L119.1,160.5 L118.9,164.3 L118.8,168.0 L118.6,171.8 L118.5,175.6 L118.3,179.4 L118.1,183.2 L118.0,186.9 L115.1,186.8 L112.3,186.7 L109.4,186.5 L106.6,186.3 L103.7,186.1 L100.9,185.9 L98.1,185.7 L95.2,185.5 M125.6,149.3 L128.5,149.4 L131.4,149.5 L134.4,149.6 L137.3,149.6 L140.3,149.6 L143.2,149.6 L146.2,149.6 L149.1,149.6 L152.1,149.6 L155.0,149.5 L158.0,149.5 L160.9,149.4 L163.9,149.3 L166.8,149.1 L169.8,149.0 M28.1,98.2 L27.2,101.9 L26.4,105.6 L25.5,109.3 L24.7,113.0 L23.8,116.7 L23.0,120.4 L25.1,123.7 L27.3,127.0 L29.5,130.3 L31.8,133.7 L34.1,137.0 L36.4,140.3 L38.7,143.5 L41.1,146.8 L43.5,150.1 L46.0,153.3 L48.4,156.6 L48.2,159.2 L48.0,161.9 L47.0,165.1 L46.0,168.4 L45.5,170.9 L45.0,173.5 M53.4,148.2 L51.4,148.4 L49.3,148.6 L49.0,151.3 L48.7,153.9 L48.4,156.6 M152.5,58.9 L153.3,62.6 L154.1,66.4 L154.9,70.1 L155.3,73.0 L155.7,75.9 L156.0,78.8 L156.4,81.8 L156.5,84.2 L156.6,86.6 L156.8,90.0 L157.0,93.3 L157.3,96.7 L157.5,100.1 L157.2,103.9 L156.9,107.7 L158.7,111.5 L160.4,115.2 L161.0,118.6 L161.5,122.0 L163.2,124.2 L164.8,126.4 L166.9,128.6 L168.0,130.8 L169.1,133.1 L169.3,136.3 L169.4,139.4 L169.5,142.6 L169.6,145.8 L169.8,149.0 L169.9,152.8 L170.4,155.6 L170.9,158.3 L171.4,161.1 L171.5,164.5 L171.7,167.9 L171.9,171.3 L172.0,174.7 M157.5,100.1 L160.1,100.1 L162.7,100.0 L165.3,99.9 L167.8,99.7 L170.4,99.6 L173.0,99.5 L175.6,99.3 L178.2,99.1 L180.7,98.9 L183.3,98.7 L185.9,98.5 M179.3,74.5 L179.0,76.9 L178.6,79.4 L177.6,81.8 L176.6,84.1 L176.6,86.7 L176.7,89.4 L179.5,91.4 L182.3,93.5 L184.1,96.0 L185.9,98.5 L186.4,101.1 L187.0,103.7 L189.9,105.7 L191.3,108.3 L192.6,110.8 L190.6,113.3 L188.6,115.8 L187.7,118.9 L186.8,122.0 L188.2,124.6 L189.5,127.1 L192.2,130.7 L194.8,134.2 L196.5,137.6 L198.2,141.0 L200.0,144.4 L202.3,146.4 L200.6,150.4 L199.8,154.3 L198.9,157.9 L198.0,161.4 L196.7,163.8 L195.4,166.2 L194.6,170.1 L193.8,173.9 L192.9,177.8 L193.0,180.8 L193.1,183.9 L192.5,186.9 L191.9,190.0 L191.3,193.1 L194.3,192.8 L197.3,192.6 L200.3,192.3 L203.3,192.0 L204.5,194.9 L204.8,198.0 M161.5,122.0 L164.1,121.9 L166.7,121.8 L169.3,121.7 L172.0,121.5 L174.6,121.4 L177.2,121.2 L179.8,121.0 L182.4,120.8 L185.0,120.6 L186.8,122.0 M169.9,152.8 L172.9,152.6 L175.9,152.5 L178.9,152.3 L181.8,152.1 L184.8,151.9 L187.8,151.6 L190.8,151.4 L193.7,151.1 L196.7,150.8 L195.7,154.7 L197.7,154.5 L199.8,154.3 M174.6,174.9 L174.8,177.9 L174.9,180.8 L175.1,183.7 L175.2,186.6 L176.2,190.4 L177.2,194.1 L178.7,197.8 L178.0,200.8 L177.4,203.9 M174.8,179.1 L177.9,178.9 L180.9,178.7 L183.9,178.5 L186.9,178.3 L189.9,178.1 L192.9,177.8 M189.9,105.7 L192.5,105.5 L195.0,105.2 L197.6,105.0 L200.1,104.7 L202.7,104.4 L205.3,104.1 M188.2,75.2 L190.5,77.6 L193.2,78.1 L195.9,78.6 L198.5,79.0 L201.2,79.5 L202.6,81.9 L204.0,84.4 M207.4,109.4 L207.9,113.1 L208.3,116.9 L208.8,120.6 L209.3,124.3 L209.7,128.0 L209.8,130.3 L209.9,132.5 L209.0,135.3 L208.2,138.1 L208.0,141.9 M207.4,109.4 L209.9,109.1 L212.5,108.8 L215.0,108.4 L217.5,108.1 L220.0,107.7 L222.5,107.3 L224.9,107.1 L227.3,106.8 L229.7,106.5 M222.6,107.7 L223.1,111.0 L223.6,114.2 L224.1,117.5 L224.6,120.7 L225.0,124.0 L225.5,127.2 M202.3,146.4 L204.4,145.4 L206.5,144.4 L208.0,141.9 L209.6,140.2 L211.2,138.5 L214.1,138.1 L216.1,137.1 L218.0,136.0 L219.6,135.0 L221.3,134.0 L223.0,132.0 L224.8,130.0 L225.5,127.2 L228.0,128.0 L230.5,128.7 L233.4,128.6 L236.3,128.5 L239.0,130.3 L241.1,128.4 L242.7,124.2 L244.7,122.3 L246.6,120.3 L247.6,116.3 L247.6,113.8 L247.6,111.3 M247.6,111.3 L247.0,108.0 L246.3,104.7 L245.6,101.3 M248.6,116.1 L249.0,118.1 L251.7,117.6 L254.3,117.0 L257.0,116.4 L259.6,115.8 L262.2,115.2 L264.9,114.6 L267.5,113.9 L270.1,113.3 L272.8,112.6 L275.4,111.9 M249.3,98.3 L249.7,100.3 L252.4,99.7 L255.1,99.1 L257.7,98.5 L260.4,97.9 L263.0,97.3 L265.6,96.6 L268.3,95.9 L270.9,95.2 L273.6,94.5 L275.3,95.7 L278.3,98.4 L280.8,99.0 L283.3,99.7 M278.3,98.4 L277.0,102.2 L277.6,104.4 L280.3,106.9 L278.8,109.2 L276.9,110.9 M275.4,111.9 L276.2,115.0 L277.0,118.1 L277.8,121.3 L279.9,120.7 L282.0,120.1 M239.3,131.8 L241.5,133.9 L243.7,136.0 L245.9,138.3 L247.9,137.5 L249.8,136.7 L251.7,135.6 L253.6,134.4 L254.5,131.5 L255.4,128.6 L257.6,125.0 L258.9,122.7 L260.2,120.5 L261.4,117.9 L263.2,117.9 L265.0,117.8 L266.8,118.2 L270.1,120.5 L270.8,122.5 L271.6,124.4 L273.9,125.2 L276.2,126.0 M254.8,116.9 L255.3,118.8 L255.7,120.8 L257.6,119.8 L259.5,118.9 L261.4,117.9 M200.6,150.4 L203.4,150.1 L206.2,149.7 L209.0,149.3 L211.8,148.8 L214.6,148.4 L217.4,148.0 L220.2,147.5 L223.0,147.0 L225.8,146.5 L228.6,146.0 L231.4,145.5 L233.2,145.2 L234.9,144.9 L236.8,142.5 L238.6,140.2 L240.4,137.8 L239.8,134.8 L239.3,131.8 M234.9,144.9 L237.8,144.4 L240.7,143.9 L243.6,143.4 L246.5,142.9 L249.4,142.4 L252.3,141.8 L255.1,141.2 L258.0,140.6 L260.9,140.0 L263.8,139.4 L266.6,138.8 L269.5,138.1 L272.3,137.4 L275.2,136.8 L278.1,136.1 L280.9,135.3 M246.7,142.8 L244.5,145.5 L242.2,148.2 L239.9,150.6 L237.5,152.9 L235.4,155.2 L233.3,157.5 M196.9,162.2 L199.9,161.9 L202.9,161.6 L206.0,161.3 L209.0,160.9 L212.1,160.6 L215.1,160.2 L218.1,159.8 L221.2,159.3 L224.2,158.9 L227.2,158.4 L230.3,158.0 L233.3,157.5 L235.7,157.1 L238.1,156.7 L240.5,156.2 M240.5,156.2 L242.5,155.1 L244.5,154.0 L247.3,153.6 L250.1,153.2 L252.9,152.7 L254.1,155.2 L256.5,154.7 L258.9,154.2 L261.3,153.7 L264.1,155.5 L266.9,157.3 L269.7,159.2 M240.5,156.2 L244.2,159.4 L246.6,162.1 L248.9,164.7 L251.0,167.0 L253.0,169.3 L255.2,172.5 L257.4,175.7 M225.4,158.7 L226.8,162.3 L228.1,166.0 L229.5,169.6 L230.5,173.3 L231.5,176.9 L232.4,180.6 L232.8,184.3 L233.2,188.1 M209.6,160.9 L209.8,164.2 L210.0,167.6 L210.1,170.9 L210.3,174.3 L210.5,177.6 L210.6,181.0 L210.8,184.3 L211.3,188.1 L211.8,191.8 L212.4,195.5 M217.0,190.4 L219.7,190.0 L222.5,189.7 L225.3,189.3 L228.0,188.9 L230.8,188.5 L233.6,188.0 L234.8,190.1 L237.9,189.8 L240.9,189.5 L244.0,189.1 L247.1,188.7 L250.1,188.3 L253.2,187.9 L254.9,187.1 L256.5,186.3 M217.0,190.4 L217.6,193.0 L218.3,195.5 M278.4,69.6 L279.2,73.0 L280.1,76.5 L281.0,79.9 L282.1,82.9 L283.3,85.9 M287.5,66.8 L287.4,69.3 L287.3,71.7 L286.8,75.8 L286.8,78.6 L286.8,81.3 L287.0,85.0 M283.3,85.9 L285.8,85.2 L288.4,84.5 L291.0,83.7 L293.6,82.9 L295.9,81.1 M289.0,64.1 L290.2,67.6 L291.5,71.2 L292.7,74.7 L294.0,78.3 L295.9,79.5 M283.4,91.4 L285.6,90.8 L287.9,90.2 L290.2,89.6 L292.5,88.9 L294.7,88.2 L296.0,89.9 L297.2,91.5 M292.5,88.9 L293.1,91.5 L293.7,94.1 M283.3,85.9 L283.3,88.7 L283.4,91.4 L284.3,94.9 L285.3,98.3 L284.5,99.8" fill="none" stroke="#000" stroke-opacity="0.65" stroke-width="0.6"/>
<path d="M35.1,45.7 L35.8,47.8 L35.2,49.8 L35.5,51.8 L34.7,53.8 L35.5,55.8 L34.9,57.9 L34.4,59.9 L35.3,61.9 L35.4,63.9 L35.0,65.9 L35.1,68.0 L35.1,70.0 M15.5,58.8 L17.5,59.7 L19.6,58.8 L21.6,58.8 L23.7,58.5 L25.7,59.1 L27.8,58.4 L29.8,58.5 L31.9,59.6 L34.0,58.7 L36.0,59.6 L38.0,59.8 L40.1,59.3 L42.1,59.4 L44.2,60.1 L46.3,59.1 L48.3,59.0 L50.4,58.7 L52.4,59.3 M19.8,67.3 L19.4,69.4 L20.2,71.4 L20.2,73.5 L20.0,75.5 L19.7,77.6 L19.9,79.7 L19.7,81.7 L19.7,83.8 L19.9,85.9 L19.8,87.9 L19.7,90.0 L19.8,92.0 L19.6,94.1 L19.8,96.2 M35.5,69.9 L35.5,72.1 L36.3,74.2 L35.3,76.4 L36.4,78.5 L36.2,80.6 L35.1,82.8 L35.2,84.9 L35.6,87.1 L36.3,89.2 L35.7,91.3 L35.8,93.5 L35.2,95.6 L34.5,97.8 L35.5,99.9 M10.7,75.8 L12.7,75.3 L14.8,75.7 L16.8,75.6 L18.8,75.1 L20.9,75.7 L22.9,75.1 L25.0,76.0 L27.0,76.0 L29.0,75.9 L31.1,75.2 L33.1,75.6 L35.1,75.3 L37.2,75.1 L39.2,75.1 L41.2,74.6 L43.3,74.5 L45.3,75.5 L47.4,75.0 L49.4,75.1 L51.4,75.0 M5.2,89.2 L7.3,88.9 L9.4,89.3 L11.4,89.4 L13.5,89.1 L15.6,89.8 L17.7,89.4 L19.7,88.8 L21.8,89.0 L23.9,89.8 L25.9,89.6 L28.0,88.6 L30.1,90.1 L32.2,89.8 L34.2,90.1 L36.3,89.4 L38.4,89.5 L40.5,89.1 L42.5,90.8 L44.6,89.6 L46.7,89.7 M16.9,95.4 L16.8,97.4 L17.6,99.5 L17.0,101.5 L16.4,103.6 L17.4,105.6 L16.4,107.7 L16.7,109.7 L17.3,111.8 L17.1,113.8 L17.1,115.9 L16.9,117.9 L17.1,119.9 L17.2,122.0 L17.0,124.0 L17.3,126.1 L17.4,128.1 L16.9,130.2 L16.5,132.2 L17.5,134.3 L16.9,136.3 L17.1,138.4 L17.3,140.4 L16.5,142.4 L17.1,144.5 L16.2,146.5 L17.2,148.6 L16.7,150.6 L17.0,152.7 L16.9,154.7 M32.1,134.1 L32.2,136.1 L31.8,138.1 L32.1,140.1 L32.6,142.1 L32.2,144.1 L32.1,146.2 L31.7,148.2 L32.5,150.2 L32.1,152.2 L32.9,154.2 L31.8,156.2 L32.6,158.2 L32.9,160.2 L32.1,162.2 L31.6,164.2 L32.8,166.3 L32.6,168.3 L32.4,170.3 L32.1,172.3 M1.6,105.3 L3.7,104.9 L5.8,104.9 L7.8,105.5 L9.9,104.8 L12.0,105.4 L14.1,104.7 L16.1,104.6 L18.2,104.3 L20.3,105.9 L22.3,104.9 L24.4,105.1 L26.5,105.0 M3.2,119.2 L5.5,119.2 L7.7,120.1 L9.9,118.7 L12.1,118.5 L14.4,118.8 L16.6,118.6 L18.8,119.5 L21.0,119.6 L23.2,119.2 M8.1,133.2 L10.3,133.0 L12.4,133.9 L14.6,132.0 L16.7,133.6 L18.9,132.9 L21.0,133.9 L23.2,133.0 L25.3,133.4 L27.5,132.9 L29.6,133.1 L31.8,133.6 M12.3,147.2 L14.4,147.0 L16.5,146.8 L18.6,146.3 L20.7,147.0 L22.7,147.2 L24.8,147.2 L26.9,147.2 L29.0,146.7 L31.1,147.2 L33.2,147.2 L35.2,147.9 L37.3,148.1 L39.4,147.2 L41.5,147.3 M23.8,160.8 L25.8,160.5 L27.8,160.4 L29.9,160.7 L31.9,160.3 L33.9,161.0 L36.0,160.6 L38.0,160.8 L40.0,160.6 L42.0,160.3 L44.1,160.2 L46.1,160.5 L48.1,160.5 M63.0,143.6 L63.0,145.7 L63.7,147.8 L63.0,149.9 L63.6,152.0 L63.3,154.1 L63.2,156.2 L64.0,158.3 L63.0,160.4 L63.0,162.5 L63.1,164.5 L63.2,166.6 L63.2,168.7 L63.5,170.8 L63.2,172.9 L63.3,175.0 L63.0,177.1 L63.6,179.2 L62.9,181.3 L63.0,183.4 L63.0,185.5 M48.7,154.0 L50.8,154.2 L52.8,153.2 L54.8,154.1 L56.8,154.0 L58.9,153.9 L60.9,153.9 L62.9,153.4 L64.9,153.6 L67.0,153.9 L69.0,153.8 L71.0,153.6 L73.0,152.8 L75.0,153.7 L77.1,153.9 L79.1,153.8 L81.1,153.4 L83.1,153.3 M47.2,164.5 L49.3,164.4 L51.3,163.3 L53.4,164.6 L55.4,163.8 L57.4,163.9 L59.5,164.2 L61.5,165.1 L63.6,164.3 L65.6,164.6 L67.6,165.3 L69.7,165.2 L71.7,164.4 L73.8,164.4 L75.8,163.9 L77.8,164.2 L79.9,164.7 L81.9,164.5 M48.6,177.3 L50.8,177.8 L52.9,177.0 L55.0,177.4 L57.1,177.8 L59.2,177.8 L61.4,178.0 L63.5,177.8 L65.6,177.5 L67.7,177.8 L69.9,177.3 L72.0,177.0 L74.1,178.1 L76.2,177.8 L78.4,178.0 L80.5,177.9 M90.7,147.0 L91.0,149.1 L91.1,151.2 L91.7,153.3 L90.9,155.4 L90.3,157.5 L90.5,159.6 L91.0,161.7 L90.7,163.7 L90.4,165.8 L92.0,167.9 L90.8,170.0 L90.5,172.1 L90.4,174.2 L90.0,176.3 L90.2,178.4 L90.6,180.5 L90.6,182.6 L90.4,184.6 L90.7,186.7 M101.4,148.0 L101.0,150.0 L100.5,152.1 L101.5,154.1 L101.4,156.2 L101.3,158.2 L100.8,160.2 L101.4,162.3 L100.8,164.3 L101.9,166.4 L101.5,168.4 L101.5,170.5 L101.1,172.5 L100.9,174.6 L102.1,176.6 L101.8,178.6 L101.3,180.7 L101.7,182.7 L102.1,184.8 L101.0,186.8 L101.2,188.9 L101.2,190.9 L101.4,192.9 M112.4,148.7 L112.5,150.8 L111.9,152.8 L112.8,154.8 L112.8,156.9 L112.3,158.9 L112.7,160.9 L112.1,162.9 L112.3,165.0 L112.8,167.0 L112.4,169.0 L112.6,171.1 L112.0,173.1 L112.7,175.1 L112.6,177.1 L111.9,179.2 L111.4,181.2 L111.5,183.2 L112.4,185.3 L112.3,187.3 L111.7,189.3 L112.5,191.3 L112.8,193.4 L112.4,195.4 L112.2,197.4 L112.8,199.5 L113.2,201.5 L113.1,203.5 L112.1,205.5 L112.4,207.6 M122.7,153.0 L122.6,155.1 L122.4,157.1 L122.9,159.1 L122.5,161.1 L123.1,163.2 L122.9,165.2 L123.2,167.2 L122.2,169.3 L122.7,171.3 L123.0,173.3 L122.9,175.3 L122.8,177.4 L122.4,179.4 L123.4,181.4 L123.2,183.4 L122.9,185.5 L121.6,187.5 L122.3,189.5 L122.8,191.5 L122.4,193.6 L121.8,195.6 L122.8,197.6 L122.9,199.7 L122.2,201.7 L122.7,203.7 M133.0,153.3 L133.3,155.4 L132.2,157.5 L132.3,159.5 L132.8,161.6 L132.7,163.6 L134.0,165.7 L132.8,167.8 L133.1,169.8 L132.8,171.9 L132.7,173.9 L133.2,176.0 L133.8,178.1 L132.9,180.1 L133.4,182.2 L133.2,184.2 L133.3,186.3 L133.2,188.4 L134.1,190.4 L132.5,192.5 L132.9,194.5 L132.5,196.6 L132.2,198.7 L133.0,200.7 L133.9,202.8 L133.4,204.8 L133.6,206.9 L133.3,209.0 L133.0,211.0 M144.6,170.6 L144.5,172.6 L145.3,174.7 L144.5,176.7 L144.7,178.7 L144.8,180.8 L144.7,182.8 L144.9,184.9 L144.9,186.9 L145.4,189.0 L144.6,191.0 L143.8,193.1 L143.7,195.1 L144.0,197.2 L144.3,199.2 L144.9,201.3 L144.0,203.3 L144.7,205.4 L144.7,207.4 L144.8,209.4 L144.6,211.5 L144.8,213.5 L144.7,215.6 L145.1,217.6 L144.8,219.7 L143.6,221.7 L144.7,223.8 L144.7,225.8 L144.4,227.9 L144.6,229.9 M157.2,173.7 L157.3,175.8 L156.8,177.8 L157.0,179.8 L157.1,181.8 L156.5,183.9 L157.5,185.9 L157.1,187.9 L157.4,190.0 L156.5,192.0 L158.0,194.0 L157.5,196.0 L157.4,198.1 L156.9,200.1 L156.9,202.1 L156.5,204.1 L157.9,206.2 L156.8,208.2 L157.3,210.2 L157.5,212.2 L156.9,214.3 L157.6,216.3 L157.2,218.3 M166.7,172.7 L167.4,174.7 L167.0,176.7 L166.6,178.8 L166.6,180.8 L166.0,182.8 L166.8,184.8 L167.4,186.8 L167.1,188.8 L167.2,190.8 L167.3,192.9 L166.5,194.9 L167.0,196.9 L167.6,198.9 L166.4,200.9 L166.8,202.9 L166.6,205.0 L166.7,207.0 L166.5,209.0 L166.7,211.0 M83.1,153.9 L85.1,154.0 L87.2,154.0 L89.2,154.0 L91.3,153.1 L93.3,153.7 L95.4,153.6 L97.4,153.8 L99.5,153.1 L101.5,154.4 L103.6,153.7 L105.6,153.1 L107.7,152.9 L109.7,153.5 L111.8,153.5 L113.8,153.2 L115.9,153.6 L117.9,153.2 L120.0,153.7 L122.0,153.2 L124.1,153.4 L126.2,153.9 L128.2,154.6 L130.2,152.9 L132.3,153.2 L134.4,153.4 M82.1,162.9 L84.2,162.4 L86.2,162.6 L88.3,162.8 L90.3,162.4 L92.4,162.4 L94.4,162.6 L96.5,161.9 L98.5,162.1 L100.6,162.6 L102.6,162.8 L104.7,162.7 L106.8,161.9 L108.8,162.5 L110.9,163.1 L112.9,162.9 L115.0,162.6 L117.0,162.3 L119.1,162.9 L121.1,162.4 L123.2,162.1 L125.2,162.2 L127.3,163.2 L129.4,162.7 L131.4,163.1 L133.5,162.3 L135.5,163.0 L137.6,162.5 M81.4,169.5 L83.4,170.6 L85.4,169.9 L87.5,169.3 L89.5,169.5 L91.5,169.7 L93.5,170.1 L95.5,169.4 L97.6,168.8 L99.6,169.5 L101.6,169.7 L103.6,169.7 L105.6,170.3 L107.7,169.8 L109.7,170.1 L111.7,169.2 L113.7,170.1 L115.7,170.7 L117.8,170.1 L119.8,169.9 L121.8,169.9 L123.8,170.6 L125.9,169.4 L127.9,169.8 L129.9,170.1 L131.9,170.2 L134.0,169.7 L136.0,170.0 L138.0,169.8 L140.0,170.0 L142.0,170.0 M80.5,178.0 L82.5,178.0 L84.5,178.4 L86.5,177.6 L88.5,177.9 L90.5,178.3 L92.5,177.6 L94.5,178.2 L96.5,177.6 L98.5,178.6 L100.5,179.2 L102.5,179.0 L104.6,178.0 L106.6,178.5 L108.6,178.2 L110.6,178.2 L112.6,178.9 L114.6,177.6 L116.6,178.7 L118.6,178.2 L120.6,178.9 L122.6,178.4 L124.6,178.0 L126.6,178.4 L128.6,178.6 L130.6,178.3 L132.7,178.6 L134.7,178.1 L136.7,177.4 L138.7,178.8 L140.7,178.7 L142.7,178.5 L144.7,178.5 L146.7,178.9 L148.7,178.2 L150.7,178.1 L152.7,178.4 L154.7,179.0 L156.7,177.9 L158.7,179.1 L160.8,178.2 L162.8,178.0 L164.8,179.1 L166.8,178.5 L168.8,178.0 L170.8,178.4 L172.8,179.0 L174.8,178.6 M79.6,186.2 L82.3,186.4 L85.0,186.2 M85.4,186.2 L87.5,186.4 L89.5,186.2 L91.5,186.0 L93.6,186.0 L95.6,186.3 L97.7,186.3 L99.7,186.0 L101.8,186.1 L103.8,186.8 L105.8,186.4 L107.9,186.7 L109.9,186.9 L112.0,186.6 L114.0,187.4 L116.0,186.0 L118.1,186.7 L120.1,186.2 L122.2,187.2 L124.2,187.2 L126.3,185.5 L128.3,186.0 L130.3,186.7 L132.4,186.8 L134.4,186.8 L136.5,186.4 L138.5,186.7 L140.5,186.8 L142.6,186.5 L144.6,187.0 L146.7,185.5 L148.7,186.8 L150.7,186.1 L152.8,187.0 L154.8,186.4 L156.9,186.2 L158.9,186.7 L160.9,186.2 L163.0,186.2 L165.0,185.9 L167.1,186.6 L169.1,186.8 L171.1,187.1 L173.2,186.6 L175.2,186.6 M101.3,192.8 L103.3,192.8 L105.4,193.1 L107.4,193.3 L109.4,192.6 L111.5,192.7 L113.5,192.7 L115.6,192.8 L117.6,192.4 L119.7,193.3 L121.7,192.6 L123.7,193.0 L125.8,192.4 L127.8,193.0 L129.9,193.0 L131.9,192.6 L134.0,193.7 L136.0,193.0 L138.0,193.6 L140.1,193.3 L142.1,192.5 L144.2,192.7 L146.2,193.0 L148.3,192.9 L150.3,192.9 L152.3,192.7 L154.4,192.0 L156.4,192.7 L158.5,191.8 L160.5,193.0 L162.6,192.5 L164.6,192.5 L166.6,192.7 L168.7,193.0 L170.7,192.2 L172.8,192.1 L174.8,192.4 L176.9,192.9 M106.9,201.9 L109.0,202.6 L111.0,201.4 L113.0,202.2 L115.0,201.3 L117.0,202.1 L119.1,201.8 L121.1,202.0 L123.1,202.3 L125.1,202.8 L127.2,202.1 L129.2,202.1 L131.2,201.6 L133.2,202.3 L135.2,202.0 L137.3,202.5 L139.3,202.1 L141.3,202.9 L143.3,201.3 L145.4,202.0 L147.4,202.6 L149.4,202.0 L151.4,201.9 L153.4,202.1 L155.5,201.6 L157.5,202.3 L159.5,203.4 L161.5,202.8 L163.6,201.8 L165.6,201.9 L167.6,202.2 L169.6,202.8 L171.6,202.0 L173.7,202.1 L175.7,202.8 L177.7,202.4 M132.2,209.3 L134.2,208.8 L136.2,208.7 L138.2,209.0 L140.2,208.4 L142.2,209.7 L144.2,209.1 L146.2,209.6 L148.2,210.2 L150.3,209.9 L152.3,208.9 L154.3,209.8 L156.3,209.9 L158.3,209.1 L160.3,209.0 L162.3,209.3 L164.3,208.7 L166.3,210.1 L168.4,209.4 M135.9,216.3 L138.0,216.2 L140.1,216.2 L142.2,216.4 L144.3,216.4 L146.4,216.2 L148.5,216.8 L150.6,215.3 L152.7,216.3 L154.8,215.9 L156.9,216.3 L158.9,216.2 M140.6,224.5 L142.6,224.2 L144.6,224.9 L146.6,224.6 L148.6,224.2 L150.7,225.4 L152.7,225.5 L154.7,224.4 M187.3,178.3 L186.2,180.4 L187.0,182.6 L187.2,184.8 L187.4,186.9 L187.6,189.1 L187.4,191.3 L187.6,193.4 L187.0,195.6 L187.5,197.8 L187.5,199.9 L187.9,202.1 L187.3,204.3 M197.5,192.5 L197.6,194.5 L197.1,196.6 L197.4,198.6 L197.3,200.6 L197.4,202.6 L197.5,204.6 L197.5,206.6 M175.2,186.2 L177.4,186.6 L179.6,185.7 L181.8,186.8 L183.9,186.3 L186.1,185.9 L188.3,186.1 L190.5,186.0 L192.7,186.3 M176.8,192.6 L178.9,193.1 L181.0,192.3 L183.1,191.6 L185.1,192.3 L187.2,191.8 L189.3,192.7 L191.4,192.7 M195.6,192.7 L197.6,192.1 L199.6,192.4 L201.6,193.6 L203.6,192.8 M178.2,199.9 L180.4,200.3 L182.5,200.9 L184.6,200.4 L186.7,199.8 L188.8,199.8 L191.0,199.9 L193.1,199.3 L195.2,199.1 L197.3,199.6 L199.4,199.1 L201.6,199.4 L203.7,199.4 M201.7,161.8 L202.0,163.8 L201.7,165.8 L201.7,167.8 L201.5,169.9 L201.2,171.9 L201.9,173.9 L202.0,175.9 L202.4,178.0 L202.1,180.0 L201.4,182.0 L201.6,184.0 L202.1,186.1 L201.8,188.1 L201.6,190.1 L201.7,192.1 M195.1,167.6 L197.2,167.5 L199.3,166.8 L201.5,167.0 L203.6,168.3 L205.7,166.5 L207.8,167.4 L210.0,167.5 M193.6,174.9 L195.7,174.6 L197.8,175.0 L199.9,175.1 L202.0,175.2 L204.1,174.5 L206.2,175.3 L208.3,175.1 L210.4,175.6 M193.1,182.5 L195.3,182.8 L197.5,183.0 L199.7,182.4 L201.9,183.1 L204.1,183.2 L206.3,183.2 L208.5,183.4 L210.7,182.8 M191.9,190.2 L194.1,190.6 L196.3,189.7 L198.5,190.5 L200.7,190.2 L202.9,190.4 L205.1,189.8 L207.3,190.3 L209.5,190.7 L211.7,190.8 M221.9,159.2 L222.0,161.3 L222.0,163.3 L222.3,165.3 L221.7,167.4 L222.0,169.4 L221.7,171.4 L221.1,173.5 L221.9,175.5 L222.6,177.5 L222.3,179.6 L222.6,181.6 L222.5,183.6 L221.3,185.7 L221.8,187.7 L221.9,189.7 M209.9,165.4 L211.9,166.0 L213.9,165.3 L216.0,165.2 L218.0,165.5 L220.0,165.8 L222.0,166.0 L224.0,166.3 L226.1,166.4 L228.1,165.9 M210.3,174.9 L212.4,175.2 L214.5,174.3 L216.6,175.0 L218.6,175.3 L220.7,175.0 L222.8,175.7 L224.9,175.2 L227.0,175.0 L229.0,176.1 L231.1,175.5 M210.6,181.4 L212.8,181.7 L215.0,181.8 L217.2,181.4 L219.3,180.0 L221.5,180.8 L223.7,180.8 L225.9,180.5 L228.1,181.0 L230.3,181.4 L232.5,180.8 M211.3,188.2 L213.5,189.1 L215.7,188.1 L218.0,187.8 L220.1,188.6 L222.3,188.7 L224.6,188.3 L226.8,189.0 L229.0,188.7 M226.3,189.1 L226.3,191.8 L226.3,194.4 M234.4,189.5 L234.3,191.6 L234.5,193.7 L233.2,195.9 L234.4,198.0 M245.7,188.9 L245.8,191.5 L245.8,194.1 L245.7,196.7 M254.2,187.4 L253.6,189.5 L254.1,191.6 L254.5,193.7 L254.5,195.8 L254.0,197.9 L254.0,200.1 L253.6,202.2 L254.0,204.3 L253.7,206.4 L253.5,208.5 L254.1,210.6 L254.2,212.7 M263.2,198.9 L263.9,201.0 L262.5,203.1 L263.6,205.3 L262.7,207.4 L262.9,209.5 L262.4,211.6 L262.8,213.7 L263.3,215.8 L263.3,217.9 L263.2,220.0 L263.2,222.1 M217.9,194.0 L220.1,193.9 L222.3,194.7 L224.6,193.9 M224.6,193.9 L226.6,193.5 L228.6,194.0 L230.6,194.3 L232.7,193.9 L234.7,194.3 L236.7,193.2 L238.7,194.4 L240.7,193.9 M241.4,193.9 L243.4,194.0 L245.4,192.7 L247.4,193.5 L249.5,194.0 L251.5,194.6 L253.5,194.0 L255.5,194.0 L257.5,193.2 L259.6,193.8 M250.6,201.1 L252.7,201.1 L254.7,200.9 L256.7,200.2 L258.7,201.3 L260.7,202.1 L262.7,201.2 L264.7,200.8 M253.1,211.1 L255.3,210.7 L257.4,211.7 L259.5,210.6 L261.7,211.0 L263.8,211.2 L265.9,211.5 L268.1,211.3 L270.2,211.1 M259.3,218.1 L261.4,217.5 L263.5,218.1 L265.7,217.7 L267.8,217.5 L270.0,217.5 L272.1,218.0 M237.2,156.8 L237.8,158.9 L238.0,160.9 L237.2,163.0 L237.1,165.1 L236.3,167.1 L237.9,169.2 L237.5,171.3 L236.8,173.3 L237.3,175.4 L237.4,177.5 L236.5,179.5 L237.4,181.6 L237.8,183.7 L237.8,185.7 L237.1,187.8 L237.2,189.9 M246.1,153.7 L246.6,155.8 L245.9,157.9 L245.9,159.9 L246.4,162.0 L245.9,164.1 L245.9,166.1 L246.9,168.2 L246.3,170.3 L245.9,172.3 L246.4,174.4 L247.1,176.5 L246.3,178.5 L245.8,180.6 L245.4,182.6 L247.1,184.7 L245.0,186.8 L246.1,188.8 M258.2,154.3 L257.7,156.4 L257.8,158.5 L258.2,160.6 L258.8,162.7 L258.0,164.8 L258.6,166.9 L259.4,169.0 L257.0,171.1 L257.9,173.2 L258.2,175.3 M225.5,159.1 L227.6,159.7 L229.6,159.7 L231.7,159.7 L233.7,158.9 L235.8,158.4 L237.8,158.8 L239.8,157.8 L241.9,158.0 L243.9,158.8 L246.0,158.3 L248.0,158.6 L250.1,158.6 L252.1,159.5 L254.2,159.2 L256.2,158.5 L258.3,159.1 L260.3,158.1 L262.3,158.3 L264.4,158.8 L266.4,157.8 L268.5,158.4 M229.2,168.8 L231.2,168.9 L233.2,169.6 L235.2,168.5 L237.2,169.0 L239.2,168.5 L241.2,168.4 L243.2,168.4 L245.2,169.6 L247.2,170.0 L249.2,169.2 L251.2,168.7 L253.2,169.3 L255.3,168.9 L257.2,169.4 L259.3,169.2 L261.3,169.2 L263.3,169.1 M230.9,175.0 L233.1,174.8 L235.2,174.2 L237.3,174.8 L239.4,174.4 L241.5,175.0 L243.6,174.6 L245.7,175.1 L247.8,175.2 L249.9,174.4 L252.0,174.7 L254.2,174.6 L256.3,175.4 L258.4,175.0 M232.8,183.5 L234.9,183.3 L237.0,184.1 L239.2,182.8 L241.3,184.1 L243.5,183.1 L245.6,182.2 L247.7,184.6 L249.9,184.1 L252.0,182.9 L254.2,183.4 L256.3,183.3 M243.9,146.2 L244.6,148.2 L244.2,150.2 L243.7,152.3 L243.9,154.3 M254.6,141.3 L254.6,143.6 L253.5,145.9 L254.9,148.2 L254.5,150.5 L255.5,152.8 L254.6,155.1 M264.0,139.3 L264.4,141.4 L263.8,143.4 L264.0,145.4 L264.5,147.4 L264.2,149.4 L264.2,151.4 L264.2,153.5 L264.0,155.5 M274.9,136.8 L275.1,138.9 L275.3,140.9 L274.8,143.0 L274.9,145.0 L274.4,147.0 L273.7,149.1 L274.5,151.1 L274.9,153.2 L274.9,155.2 M245.6,144.1 L247.7,143.7 L249.8,143.7 L251.8,144.0 L253.9,144.0 L255.9,144.6 L258.0,144.1 L260.1,144.2 L262.2,143.8 L264.2,145.1 L266.3,144.7 L268.3,145.3 L270.4,144.9 L272.5,145.2 L274.5,144.4 L276.6,144.9 L278.7,145.8 L280.8,144.1 L282.8,145.2 L284.9,144.7 M240.0,150.5 L242.0,150.9 L244.0,151.1 L246.0,150.3 L248.0,150.8 L250.1,150.3 L252.1,150.4 L254.1,150.4 L256.1,150.7 L258.2,150.9 L260.2,151.0 L262.2,150.2 L264.2,151.8 L266.2,151.4 L268.3,151.3 L270.3,150.8 L272.3,151.0 L274.3,151.3 L276.4,151.3 L278.4,151.1 M242.6,135.0 L241.3,137.2 L243.5,139.3 L242.2,141.5 L242.6,143.6 M254.1,132.9 L253.4,135.0 L254.6,137.1 L254.0,139.3 L254.1,141.4 M263.4,117.9 L263.6,120.0 L263.4,122.2 L263.7,124.3 L262.7,126.5 L263.9,128.7 L263.0,130.8 L264.0,133.0 L263.1,135.1 L263.5,137.3 L263.4,139.5 M270.6,121.9 L271.1,124.2 L270.8,126.5 L269.9,128.7 L271.1,131.0 L271.1,133.3 L270.0,135.6 L270.6,137.8 M256.4,127.0 L258.6,127.1 L260.8,126.6 L263.0,127.0 L265.1,127.6 L267.3,127.5 L269.5,127.1 L271.7,127.2 L273.9,127.1 L276.0,127.2 M239.8,134.8 L241.1,134.8 L242.4,134.8 M252.9,134.8 L255.0,135.2 L257.2,135.1 L259.3,134.8 L261.4,134.6 L263.6,134.9 L265.7,134.1 L267.8,134.3 L270.0,135.3 L272.1,134.7 L274.2,135.1 L276.4,135.5 L278.5,135.3 L280.6,135.0 M264.8,114.6 L264.5,116.2 L264.8,117.8 M273.0,112.6 L272.8,114.3 L273.0,116.0 M273.0,119.8 L273.1,122.4 L273.0,124.9 M270.5,121.7 L272.1,121.6 L273.8,121.7 M274.7,121.7 L277.1,121.4 L279.5,121.5 L281.9,121.5 M210.3,139.5 L210.0,141.9 L210.8,144.3 L210.4,146.7 L210.3,149.1 M221.3,133.9 L221.6,136.2 L220.8,138.4 L221.5,140.6 L221.5,142.9 L221.2,145.1 L221.3,147.3 M231.4,128.7 L231.8,130.8 L231.9,132.9 L231.9,135.0 L231.8,137.1 L231.8,139.2 L231.2,141.3 L231.8,143.4 L231.4,145.5 M242.5,124.7 L242.8,126.7 L242.4,128.8 L241.7,130.8 L242.3,132.8 L242.5,134.9 M254.9,89.5 L255.3,91.6 L254.8,93.7 L254.5,95.8 L255.3,97.9 L255.0,100.0 L254.4,102.1 L255.1,104.2 L254.8,106.3 L255.3,108.5 L255.3,110.6 L255.1,112.7 L253.9,114.8 L254.9,116.9 M254.9,117.0 L255.1,119.3 L255.0,121.5 L254.6,123.7 L254.8,125.9 L254.0,128.1 L254.9,130.3 M264.3,85.6 L264.2,87.7 L264.1,89.8 L265.0,91.9 L264.4,94.0 L264.4,96.0 L264.5,98.1 L265.3,100.2 L263.9,102.3 L264.5,104.3 L264.5,106.4 L264.5,108.5 L264.4,110.6 L264.2,112.6 L264.3,114.7 M274.2,70.8 L274.1,72.9 L274.2,75.0 L274.4,77.0 L274.5,79.1 L274.6,81.2 L274.3,83.2 L273.7,85.3 L274.7,87.4 L273.6,89.5 L273.9,91.5 L274.4,93.6 L273.9,95.7 L274.9,97.7 L275.0,99.8 L274.8,101.9 L274.4,104.0 L274.4,106.0 L274.5,108.1 L274.2,110.2 L274.2,112.2 M266.2,77.8 L268.2,77.2 L270.3,77.6 L272.3,77.7 L274.4,77.4 L276.4,77.3 L278.5,77.5 L280.5,78.0 M263.1,86.3 L265.1,86.6 L267.2,85.9 L269.2,86.0 L271.2,86.0 L273.2,86.6 L275.2,85.5 L277.2,87.0 L279.2,86.3 L281.3,86.2 L283.3,86.6 M252.4,93.9 L254.5,94.1 L256.6,94.4 L258.7,94.0 L260.8,94.5 L263.0,94.5 L265.1,93.9 L267.2,94.6 L269.3,94.0 L271.4,94.0 L273.5,93.5 L275.6,93.8 L277.7,94.3 L279.8,93.3 L282.0,94.2 L284.1,93.9 M246.0,103.1 L248.1,102.2 L250.2,103.1 L252.3,103.5 L254.4,102.8 L256.5,103.2 L258.6,102.1 L260.7,103.5 L262.8,102.9 L264.9,103.6 L267.0,102.4 L269.1,103.6 L271.2,103.2 L273.3,103.7 L275.4,102.9 L277.5,103.0 L279.6,104.3 L281.7,103.0 L283.8,103.4 M247.4,110.1 L249.4,109.7 L251.5,110.7 L253.5,110.9 L255.6,109.8 L257.6,109.3 L259.7,110.6 L261.7,110.6 L263.8,110.5 L265.8,110.6 L267.9,109.7 L269.9,110.0 L272.0,109.5 L274.0,109.4 L276.1,110.5 L278.1,109.8 L280.2,111.1 L282.2,110.1 L284.3,110.1 M247.0,118.9 L249.0,119.7 L251.1,119.1 L253.2,118.3 L255.3,118.9 M259.5,118.9 L260.2,118.7 L261.0,118.9 M277.2,118.8 L279.4,118.9 L281.5,118.8 M241.7,126.8 L243.8,126.4 L245.9,126.9 L248.1,126.8 L250.2,127.2 L252.4,127.0 L254.5,125.9 L256.6,126.6 M221.1,134.1 L223.2,134.3 L225.3,134.6 L227.3,133.9 L229.4,133.7 L231.5,134.5 L233.5,133.6 L235.6,133.1 L237.6,134.6 L239.7,134.1 M241.7,134.1 L244.1,133.5 L246.5,133.5 L248.9,133.6 L251.3,134.0 L253.7,134.1 M207.2,143.4 L209.2,143.7 L211.3,142.8 L213.4,142.9 L215.5,143.6 L217.5,143.3 L219.6,142.6 L221.7,144.1 L223.8,142.9 L225.9,143.4 L227.9,143.4 L230.0,143.9 L232.1,143.0 L234.2,143.7 L236.2,143.2 M294.2,82.5 L294.5,85.4 L294.2,88.4 M286.9,74.9 L289.9,75.2 L292.9,75.2 M300.2,45.8 L300.1,48.0 L300.6,50.2 L299.9,52.3 L300.8,54.5 L299.7,56.7 L299.7,58.8 L300.5,61.0 L300.5,63.2 L300.1,65.3 L300.2,67.5 L300.7,69.7 L300.2,71.8 M291.3,55.1 L293.3,54.9 L295.4,54.9 L297.4,54.9 L299.5,55.2 L301.5,54.4 L303.6,55.2 L305.6,54.9 M290.3,62.3 L292.4,61.6 L294.6,61.7 L296.8,62.3 L298.9,61.6 L301.1,62.1 L303.2,62.4 L305.4,62.4 L307.5,62.6 L309.7,61.8 M291.1,70.0 L293.3,70.4 L295.5,70.0 L297.8,70.3 L300.0,69.8 L302.2,69.7 M280.4,77.6 L282.5,78.0 L284.7,78.0 L286.8,77.9 M229.7,106.5 L229.6,108.7 L229.3,110.9 L229.9,113.1 L228.9,115.3 L229.8,117.5 L229.3,119.7 L229.7,121.9 L229.8,124.1 L228.8,126.3 L229.7,128.5 M239.6,106.3 L239.9,108.4 L239.7,110.6 L238.6,112.7 L239.5,114.8 L239.1,117.0 L240.0,119.1 L239.4,121.3 L239.3,123.4 L238.8,125.5 L239.9,127.7 L239.6,129.8 M222.7,108.8 L224.8,108.3 L226.8,108.8 L228.8,108.7 L230.9,107.8 L232.9,109.1 L234.9,109.1 L237.0,108.7 L239.0,108.3 L241.0,109.6 L243.1,109.0 L245.1,109.4 L247.2,108.9 M223.9,116.3 L226.0,116.7 L228.2,116.1 L230.3,116.2 L232.5,116.2 L234.7,116.2 L236.8,116.6 L239.0,116.2 L241.1,116.0 L243.3,115.9 L245.4,116.2 L247.6,116.0 M225.1,124.2 L227.3,124.2 L229.5,124.0 L231.7,124.2 L233.9,123.9 L236.1,125.1 L238.3,124.8 L240.5,124.4 L242.7,124.2 M222.5,78.7 L222.3,80.8 L222.5,82.8 L222.3,84.8 L222.3,86.9 L221.8,88.9 L222.5,91.0 L221.5,93.0 L222.9,95.0 L222.2,97.1 L222.9,99.1 L221.6,101.2 L222.6,103.2 L222.5,105.2 L222.5,107.3 M212.6,85.4 L214.7,84.9 L216.8,85.1 L218.8,84.6 L220.9,85.3 L223.0,85.1 L225.1,84.9 L227.2,85.1 M210.3,92.1 L212.4,91.7 L214.5,92.3 L216.6,92.7 L218.7,91.1 L220.8,91.9 L223.0,91.8 L225.1,91.9 M225.9,91.9 L228.1,91.9 L230.4,91.4 L232.7,91.9 M212.3,101.8 L214.4,101.7 L216.4,102.0 L218.5,101.8 L220.6,101.3 L222.7,102.3 L224.8,102.2 L226.9,102.1 L229.0,102.6 L231.1,102.2 M217.2,108.1 L217.5,110.1 L216.5,112.2 L216.5,114.2 L217.5,116.2 L217.7,118.2 L217.5,120.3 L217.4,122.3 L217.9,124.3 L217.2,126.3 L217.8,128.4 L217.7,130.4 L216.8,132.4 L217.5,134.5 L217.2,136.5 M208.1,115.1 L210.3,115.6 L212.6,115.1 L214.8,115.4 L217.1,115.1 L219.3,116.3 L221.5,115.9 L223.8,115.7 M209.4,125.5 L211.7,125.9 L214.0,125.8 L216.2,126.5 L218.5,126.4 L220.8,125.6 L223.1,125.9 L225.4,126.1 M209.6,133.5 L211.9,133.6 L214.2,134.9 L216.6,133.8 L219.0,132.9 L221.3,134.0 M197.0,105.0 L197.5,107.1 L197.4,109.2 L197.1,111.3 L196.8,113.4 L197.1,115.5 L197.4,117.6 L196.6,119.7 L197.2,121.8 L197.2,123.9 L197.6,126.0 L197.3,128.1 L196.7,130.2 L197.7,132.3 L197.0,134.4 L196.7,136.4 L197.0,138.5 M192.3,111.1 L194.5,110.6 L196.7,111.6 L198.9,111.4 L201.0,110.9 L203.2,109.9 L205.4,110.2 L207.6,110.6 M187.3,120.4 L189.4,120.5 L191.6,120.9 L193.7,120.0 L195.8,120.1 L198.0,120.2 L200.1,120.3 L202.3,119.4 L204.4,120.5 L206.6,120.6 L208.7,119.9 M190.7,128.8 L192.9,128.9 L195.0,128.5 L197.1,127.7 L199.2,129.2 L201.3,128.9 L203.4,128.6 L205.5,129.8 L207.6,128.9 L209.7,128.9 M196.2,136.9 L198.2,136.5 L200.3,136.6 L202.3,137.1 L204.4,136.7 L206.5,136.8 L208.5,137.0 M187.4,74.0 L187.0,76.0 L187.1,78.0 L187.2,80.0 L186.7,82.0 L187.4,84.0 L186.5,86.0 L187.8,88.0 L187.5,90.0 L188.0,92.0 L187.5,94.0 L187.1,96.0 L186.7,98.0 L187.7,100.0 L187.4,102.0 L187.4,104.0 M200.7,72.6 L201.2,74.6 L200.7,76.6 L201.5,78.6 L200.7,80.6 L200.7,82.6 L201.0,84.6 L201.2,86.6 L201.3,88.6 L199.9,90.6 L201.3,92.6 L200.0,94.6 L200.4,96.6 L200.9,98.6 L201.2,100.6 L200.2,102.6 L200.7,104.6 M210.5,72.1 L210.7,74.7 L210.5,77.3 M179.3,74.5 L181.5,75.4 L183.6,74.3 L185.8,74.8 L188.0,74.6 M188.5,74.6 L190.6,74.4 L192.6,73.7 L194.6,74.7 L196.7,74.7 L198.7,75.7 L200.8,74.7 L202.8,74.9 L204.8,75.2 L206.9,75.7 L208.9,75.0 L211.0,75.5 L213.0,75.3 L215.1,75.0 L217.1,75.2 L219.1,75.2 L221.2,75.2 M177.2,82.7 L179.3,82.1 L181.4,83.3 L183.5,83.2 L185.6,82.8 L187.7,82.5 L189.9,82.8 L192.0,83.1 L194.1,83.3 L196.2,83.1 L198.3,83.4 L200.4,82.7 L202.5,83.1 L204.6,83.1 M178.5,90.7 L180.5,90.8 L182.6,90.5 L184.6,91.3 L186.6,91.0 L188.7,89.5 L190.7,90.8 L192.8,90.1 L194.8,91.3 L196.8,91.9 L198.9,90.6 L200.9,90.8 L202.9,90.7 L205.0,90.8 M185.0,97.3 L187.2,97.9 L189.3,96.9 L191.5,98.0 L193.6,96.9 L195.8,97.5 L197.9,97.9 L200.0,97.7 L202.2,96.9 L204.3,97.4 M160.8,58.7 L160.8,60.7 L160.3,62.8 L161.4,64.9 L160.6,67.0 L160.5,69.0 L160.5,71.1 L160.6,73.2 L160.1,75.2 L160.6,77.3 L160.4,79.4 L160.5,81.4 L160.0,83.5 L161.7,85.6 L160.2,87.6 L160.9,89.7 L160.9,91.8 L161.2,93.8 L161.6,95.9 L161.0,98.0 L160.8,100.0 M172.8,61.7 L173.4,63.8 L172.1,65.9 L172.6,68.0 L172.9,70.1 L173.1,72.2 L173.1,74.3 L173.3,76.4 L173.0,78.5 L172.8,80.6 L172.9,82.7 L173.4,84.8 L172.9,86.9 L173.2,89.0 L172.7,91.1 L171.9,93.2 L172.5,95.3 L172.9,97.4 L172.8,99.5 M182.9,63.7 L183.7,66.1 L182.6,68.5 L182.9,70.9 M182.9,94.4 L183.2,96.6 L182.9,98.8 M153.6,64.0 L155.7,63.6 L157.8,63.7 L160.0,63.5 L162.1,64.2 L164.3,63.3 L166.4,63.2 L168.5,63.0 L170.7,63.0 L172.8,63.8 L175.0,64.7 L177.1,63.0 L179.2,63.4 M154.9,70.1 L157.0,69.6 L159.1,70.0 L161.1,70.0 L163.2,69.8 L165.3,70.9 L167.4,69.2 L169.4,70.2 L171.5,70.1 L173.6,69.7 L175.7,70.0 L177.7,70.3 L179.8,70.0 L181.9,70.1 L184.0,69.9 M155.8,77.1 L157.9,77.7 L160.0,78.1 L162.1,77.5 L164.2,77.6 L166.3,76.5 L168.4,77.1 L170.5,76.8 L172.6,76.9 L174.7,77.6 L176.8,76.8 L178.9,77.2 M156.5,86.0 L158.6,85.9 L160.6,86.0 L162.6,85.6 L164.6,85.6 L166.6,86.8 L168.6,85.4 L170.6,85.4 L172.6,85.5 L174.6,86.4 L176.6,85.8 M157.1,93.7 L159.2,93.4 L161.3,93.6 L163.5,94.3 L165.6,93.4 L167.7,94.5 L169.9,94.5 L172.0,93.9 L174.2,94.2 L176.3,94.3 L178.4,94.7 L180.6,93.6 L182.7,94.1 M125.9,58.7 L126.3,60.7 L125.9,62.8 L126.0,64.9 L126.4,67.0 L126.6,69.1 L126.3,71.2 L125.3,73.3 L125.0,75.3 L125.6,77.4 L125.4,79.5 L125.9,81.6 M137.6,59.0 L137.5,61.1 L138.1,63.1 L138.1,65.2 L137.6,67.3 L137.8,69.4 L138.1,71.5 L137.5,73.6 L137.8,75.6 L137.2,77.7 L137.6,79.8 L137.6,81.9 M147.8,59.0 L147.9,61.1 L148.1,63.2 L148.0,65.2 L147.4,67.3 L147.5,69.4 L147.2,71.5 L148.5,73.6 L148.0,75.7 L148.0,77.7 L147.7,79.8 L147.8,81.9 M118.1,65.5 L120.2,65.8 L122.3,65.6 L124.4,65.0 L126.5,66.1 L128.6,65.9 L130.7,65.2 L132.8,65.9 L135.0,65.2 L137.1,66.0 L139.2,65.4 L141.3,65.2 L143.4,65.4 L145.5,65.2 L147.6,65.7 L149.7,65.7 L151.8,65.6 L153.9,65.6 M117.6,74.4 L119.7,74.4 L121.8,73.6 L123.9,74.5 L126.0,74.9 L128.1,74.6 L130.2,74.3 L132.3,74.4 L134.4,74.4 L136.5,74.2 L138.7,74.2 L140.8,74.1 L142.9,75.1 L145.0,74.5 L147.1,75.0 L149.2,74.4 L151.3,74.6 L153.4,74.5 L155.5,74.6 M71.7,53.2 L71.6,55.3 L72.0,57.3 L72.0,59.3 L70.9,61.4 L71.8,63.4 L71.8,65.4 L71.0,67.5 L71.2,69.5 L71.4,71.5 L71.8,73.6 L70.6,75.6 L71.5,77.6 L71.4,79.7 L71.7,81.7 L72.3,83.7 L72.3,85.8 L71.7,87.8 M88.6,55.6 L88.7,57.7 L89.1,59.7 L89.2,61.7 L88.7,63.7 L89.2,65.7 L88.2,67.8 L88.0,69.8 L87.3,71.8 L88.2,73.8 L88.8,75.8 L89.0,77.9 L90.1,79.9 L88.8,81.9 L88.6,83.9 L88.1,86.0 L88.3,88.0 L88.3,90.0 L88.5,92.0 L88.3,94.0 L87.9,96.1 L89.0,98.1 L88.8,100.1 L89.2,102.1 L87.8,104.2 L88.0,106.2 L88.2,108.2 L89.1,110.2 L88.5,112.2 L88.7,114.3 L88.6,116.3 M103.7,57.2 L103.4,59.2 L103.8,61.3 L103.3,63.3 L103.6,65.3 L103.8,67.3 L103.7,69.3 L103.9,71.3 L103.3,73.4 L103.8,75.4 L103.5,77.4 L103.8,79.4 L104.3,81.4 L103.3,83.4 L104.1,85.5 L103.4,87.5 L103.5,89.5 L104.4,91.5 L104.1,93.5 L103.9,95.5 L104.0,97.5 L104.2,99.6 L103.3,101.6 L103.8,103.6 L103.5,105.6 L103.9,107.6 L103.5,109.6 L104.0,111.7 L103.7,113.7 L103.4,115.7 L103.7,117.7 M60.1,65.3 L62.2,64.8 L64.2,65.4 L66.3,65.5 L68.4,65.3 L70.5,65.1 L72.5,65.7 L74.6,66.6 L76.7,65.3 L78.7,65.6 L80.8,65.7 L82.9,64.4 L84.9,65.6 L87.0,65.2 L89.1,66.2 L91.2,65.5 L93.2,65.3 L95.3,65.5 L97.4,65.7 L99.4,65.4 L101.5,65.7 L103.6,65.1 L105.6,65.6 L107.7,66.1 L109.8,66.7 L111.9,66.1 L113.9,65.9 L116.0,66.4 L118.1,65.9 M62.7,77.6 L64.7,78.1 L66.7,77.6 L68.7,77.8 L70.8,77.8 L72.8,77.8 L74.8,77.8 L76.9,77.4 L78.9,76.8 L80.9,77.4 L82.9,76.9 L85.0,77.8 L87.0,77.8 L89.0,77.1 L91.0,78.1 L93.1,78.2 L95.1,77.9 L97.1,78.6 L99.2,78.7 L101.2,77.4 L103.2,78.4 L105.2,78.1 L107.3,78.1 L109.3,78.4 L111.3,77.6 L113.4,77.7 L115.4,77.6 L117.4,78.0 M78.8,92.6 L80.9,92.0 L83.0,92.2 L85.1,93.0 L87.2,92.7 L89.3,93.0 L91.4,92.0 L93.5,92.5 L95.6,92.6 L97.7,92.9 L99.8,92.6 L101.9,93.4 L104.0,92.9 L106.1,93.0 L108.2,93.0 L110.3,93.4 L112.4,92.9 L114.5,93.6 L116.6,93.1 M77.4,103.9 L79.4,103.9 L81.4,104.0 L83.5,104.2 L85.5,104.2 L87.6,103.9 L89.6,104.1 L91.6,103.7 L93.7,104.2 L95.7,103.6 L97.7,102.6 L99.8,104.1 L101.8,103.5 L103.8,102.9 L105.9,103.3 L107.9,103.0 L110.0,104.3 L112.0,103.6 L114.0,102.6 L116.0,103.3 M62.2,68.5 L61.4,70.5 L62.7,72.6 L63.2,74.6 L62.2,76.6 L62.4,78.7 L62.4,80.7 L63.2,82.7 L62.0,84.7 L61.5,86.8 L63.1,88.8 L61.7,90.8 L62.5,92.9 L61.2,94.9 L62.0,96.9 L62.3,98.9 L61.7,101.0 L62.0,103.0 L62.2,105.0 M51.6,63.7 L54.1,63.5 L56.6,62.9 L59.1,63.7 M49.4,79.7 L51.5,79.4 L53.5,79.8 L55.5,78.9 L57.6,79.0 L59.6,79.4 L61.7,79.4 L63.7,79.6 L65.8,79.6 M46.1,92.3 L48.2,92.6 L50.2,92.6 L52.3,91.8 L54.3,92.4 L56.4,91.9 L58.4,92.8 L60.5,92.5 L62.5,92.3 L64.5,91.7 L66.6,92.3 L68.6,91.9 L70.7,92.6 L72.7,92.2 L74.8,91.9 L76.8,92.7 L78.9,92.3 M42.2,101.3 L41.7,103.4 L42.3,105.4 L42.3,107.4 L42.1,109.5 L42.5,111.5 L42.4,113.6 L42.3,115.6 L41.5,117.6 L41.5,119.7 L42.3,121.7 L41.5,123.8 L42.2,125.8 L42.0,127.8 L41.8,129.9 L42.1,131.9 L41.1,134.0 L42.1,136.0 L42.7,138.0 L41.6,140.1 L42.4,142.1 L42.3,144.2 L43.5,146.2 L42.2,148.3 M24.9,111.8 L27.0,112.1 L29.0,112.2 L31.0,112.5 L33.0,111.7 L35.1,112.2 L37.1,111.4 L39.1,111.6 L41.1,112.2 L43.2,111.9 L45.2,111.1 L47.2,111.8 L49.2,111.6 L51.2,111.3 L53.3,111.8 L55.3,111.4 L57.3,110.9 L59.3,111.6 M27.0,126.5 L29.1,125.9 L31.3,126.7 L33.4,126.9 L35.5,126.9 L37.7,126.1 L39.8,126.5 L41.9,126.7 L44.1,127.0 L46.2,126.4 L48.3,126.2 L50.5,127.2 L52.6,127.2 L54.7,126.9 L56.9,126.8 M38.1,142.7 L40.1,142.7 L42.2,143.0 L44.2,142.1 L46.2,142.7 L48.2,142.5 L50.3,142.1 L52.3,142.7 L54.3,142.6 M70.4,106.3 L70.2,108.3 L71.0,110.3 L70.4,112.4 L70.2,114.4 L70.2,116.4 L69.9,118.4 L70.9,120.4 L71.1,122.4 L70.3,124.5 L70.2,126.5 L69.4,128.5 L70.1,130.5 L70.8,132.5 L70.0,134.5 L70.8,136.6 L71.0,138.6 L69.2,140.6 L70.2,142.6 L70.4,144.6 M58.2,118.6 L60.3,119.4 L62.3,118.7 L64.4,119.1 L66.4,118.0 L68.5,117.8 L70.5,119.1 L72.6,119.0 L74.6,118.6 L76.7,118.4 L78.7,118.4 L80.8,117.9 L82.8,118.9 L84.9,118.5 L86.9,118.1 M56.1,131.8 L58.2,132.3 L60.3,132.0 L62.4,132.1 L64.5,131.2 L66.6,132.0 L68.7,132.7 L70.8,131.4 L72.9,131.6 L75.0,132.0 L77.1,132.0 L79.2,131.9 L81.3,130.9 L83.4,131.8 L85.5,131.5 M126.3,81.6 L126.0,83.6 L126.4,85.6 L125.9,87.7 L124.9,89.7 L125.9,91.7 L126.0,93.7 L126.7,95.7 L126.6,97.8 L126.8,99.8 L126.5,101.8 L126.3,103.8 M135.5,81.9 L135.6,83.9 L136.0,85.9 L136.2,87.9 L136.1,89.9 L135.3,91.9 L135.5,94.0 L135.1,96.0 L135.1,98.0 L135.7,100.0 L135.2,102.0 L135.5,104.1 M147.9,81.9 L147.4,84.0 L148.0,86.0 L148.4,88.0 L147.7,90.1 L148.7,92.1 L148.3,94.2 L147.6,96.2 L147.9,98.3 L148.1,100.3 L147.5,102.4 L147.9,104.4 M116.8,90.2 L118.8,90.0 L120.8,89.8 L122.8,90.4 L124.8,89.7 L126.8,91.0 L128.8,89.8 L130.8,91.0 L132.8,89.6 L134.8,90.3 L136.8,89.5 L138.8,89.4 L140.8,90.1 L142.8,90.3 L144.8,89.4 L146.8,90.5 L148.8,89.6 L150.8,90.0 L152.8,90.0 L154.8,90.1 L156.8,89.8 M116.3,97.9 L118.4,98.2 L120.4,97.7 L122.5,97.5 L124.6,97.2 L126.6,97.4 L128.6,98.3 L130.7,97.9 L132.8,97.6 L134.8,97.9 L136.9,98.8 L138.9,98.0 L141.0,97.9 L143.0,98.8 L145.1,98.4 L147.1,98.3 L149.2,98.0 L151.2,97.6 L153.3,97.8 L155.3,98.1 L157.4,98.4 M124.0,103.7 L123.8,105.9 L123.9,108.1 L123.9,110.2 L124.5,112.4 L125.0,114.6 L124.3,116.7 L124.0,118.9 M134.0,104.0 L134.1,106.1 L134.5,108.2 L134.5,110.2 L134.0,112.3 L133.9,114.4 L134.3,116.4 L133.7,118.5 L134.1,120.6 L134.4,122.6 L133.9,124.7 L134.0,126.8 M143.9,104.1 L143.3,106.2 L143.2,108.3 L143.2,110.3 L144.2,112.4 L143.0,114.5 L143.8,116.5 L144.0,118.6 L144.0,120.7 L143.6,122.7 L143.8,124.8 L143.9,126.9 M153.6,106.1 L154.0,108.1 L154.1,110.2 L153.3,112.3 L153.3,114.4 L153.1,116.4 L154.1,118.5 L153.2,120.6 L153.4,122.6 L152.8,124.7 L153.6,126.8 M115.6,112.2 L117.6,112.0 L119.7,111.4 L121.7,111.8 L123.8,112.6 L125.9,111.8 L127.9,111.7 L130.0,112.4 L132.0,112.4 L134.1,112.4 L136.2,111.6 L138.2,111.9 L140.3,112.4 L142.3,111.6 L144.4,111.6 L146.5,112.2 L148.5,112.6 L150.6,111.3 L152.6,110.7 L154.7,111.1 L156.7,111.3 L158.8,111.8 M117.5,118.6 L119.6,118.6 L121.6,118.3 L123.7,118.8 L125.8,118.3 L127.9,118.7 L129.9,118.5 L132.0,120.0 L134.1,119.2 L136.2,118.5 L138.2,118.4 L140.3,118.7 L142.4,118.2 L144.5,118.6 L146.5,118.6 L148.6,119.4 L150.7,118.8 L152.8,118.7 L154.8,118.5 L156.9,118.6 L159.0,119.1 L161.1,119.2 M98.4,117.3 L98.7,119.3 L98.0,121.3 L98.3,123.4 L98.5,125.4 L99.4,127.4 L99.0,129.5 L98.1,131.5 L97.8,133.5 L98.4,135.6 L98.1,137.6 L98.6,139.6 L98.6,141.6 L98.7,143.7 L98.0,145.7 L98.4,147.7 M111.3,118.3 L111.5,120.3 L111.1,122.3 L111.2,124.3 L111.7,126.4 L110.6,128.4 L111.2,130.4 L111.3,132.4 L110.7,134.5 L110.9,136.5 L111.4,138.5 L111.1,140.6 L111.8,142.6 L111.6,144.6 L112.4,146.6 L111.3,148.7 M86.0,127.1 L88.0,127.4 L90.0,126.8 L92.0,126.8 L94.0,127.1 L96.0,127.4 L98.0,127.6 L100.0,128.1 L102.1,127.5 L104.1,127.8 L106.1,127.2 L108.1,127.8 L110.1,127.6 L112.1,127.3 L114.1,127.5 L116.2,127.6 L118.2,127.7 L120.2,127.9 L122.2,127.5 L124.2,127.4 L126.2,127.8 M84.8,138.0 L86.8,137.7 L88.9,138.7 L91.0,136.8 L93.0,137.8 L95.1,138.4 L97.1,137.4 L99.2,139.3 L101.2,137.0 L103.3,138.8 L105.3,138.9 L107.4,138.6 L109.4,138.1 L111.5,138.4 L113.6,137.9 L115.6,138.6 L117.7,137.8 L119.7,138.2 L121.8,138.8 L123.8,137.9 L125.9,138.4 M135.4,126.8 L136.0,128.9 L134.9,130.9 L135.2,133.0 L136.1,135.1 L135.4,137.2 L135.7,139.2 L135.7,141.3 L135.4,143.4 L135.7,145.4 L135.0,147.5 L135.4,149.6 M148.3,126.8 L148.4,128.9 L148.0,131.0 L148.6,133.1 L148.6,135.1 L148.9,137.2 L148.1,139.3 L147.9,141.3 L147.4,143.4 L147.8,145.5 L148.2,147.6 L148.3,149.6 M159.5,126.6 L159.6,128.7 L158.9,130.8 L159.1,132.8 L159.9,134.9 L159.8,137.0 L158.9,139.0 L159.4,141.1 L159.6,143.2 L159.0,145.3 L159.7,147.3 L159.5,149.4 M126.0,135.0 L128.1,134.1 L130.1,135.4 L132.2,134.5 L134.2,134.8 L136.3,134.7 L138.3,135.4 L140.4,135.0 L142.5,135.1 L144.5,134.3 L146.6,135.1 L148.6,134.5 L150.7,135.3 L152.7,135.3 L154.8,135.2 L156.9,136.1 L158.9,135.4 L161.0,135.5 L163.0,135.3 L165.1,135.2 L167.2,135.7 L169.2,135.3 M125.8,141.6 L127.9,142.0 L129.9,141.7 L132.0,141.9 L134.1,141.6 L136.2,140.8 L138.2,140.8 L140.4,142.1 L142.4,141.4 L144.5,140.6 L146.6,141.3 L148.6,141.0 L150.7,140.3 L152.8,140.0 L154.9,140.3 L157.0,141.1 L159.0,140.9 L161.1,140.8 L163.2,141.0 L165.3,141.1 L167.3,139.8 L169.4,140.7 M137.1,149.6 L137.7,151.5 L137.1,153.4 M149.5,149.6 L149.6,151.8 L150.2,154.0 L149.7,156.2 L148.6,158.4 L150.0,160.6 L150.3,162.8 L149.4,165.0 L149.2,167.1 L149.3,169.3 L149.5,171.5 M159.5,149.4 L159.8,151.4 L160.0,153.5 L159.7,155.5 L159.5,157.5 L159.1,159.5 L159.2,161.5 L159.5,163.6 L159.0,165.6 L159.4,167.6 L159.1,169.6 L160.1,171.7 L159.5,173.7 M137.6,157.0 L139.7,156.4 L141.8,156.9 L143.8,157.0 L145.9,156.8 L148.0,156.9 L150.0,157.7 L152.1,155.9 L154.2,157.5 L156.2,158.1 L158.3,157.1 L160.4,157.1 L162.4,157.4 L164.5,157.9 L166.5,156.6 L168.6,157.1 L170.7,157.1 M137.5,167.0 L139.5,167.1 L141.5,167.3 L143.6,166.9 L145.6,167.1 L147.6,166.8 L149.6,166.9 L151.6,167.1 L153.6,167.2 L155.6,166.7 L157.6,168.0 L159.6,167.3 L161.6,166.7 L163.6,167.9 L165.7,167.1 L167.7,167.7 L169.7,167.5 L171.7,167.5 M178.8,152.3 L179.0,154.3 L178.7,156.4 L177.8,158.4 L179.8,160.5 L178.7,162.5 L178.6,164.6 L179.2,166.6 L179.4,168.6 L177.8,170.7 L178.9,172.7 L177.8,174.8 L178.5,176.8 L178.8,178.9 M188.9,151.5 L188.6,153.6 L188.3,155.6 L188.7,157.7 L188.8,159.7 L188.8,161.8 L188.3,163.8 L188.5,165.9 L189.3,167.9 L189.2,170.0 L188.7,172.0 L189.2,174.0 L189.0,176.1 L188.9,178.1 M170.9,158.6 L173.1,158.8 L175.2,159.1 L177.3,158.7 L179.5,159.6 L181.6,158.7 L183.7,160.2 L185.8,159.2 L188.0,159.0 L190.1,158.6 L192.3,157.6 L194.4,158.8 L196.5,158.9 L198.6,158.9 M171.6,165.6 L173.7,166.5 L175.9,165.6 L178.1,166.1 L180.3,164.7 L182.4,166.0 L184.5,165.8 L186.7,166.4 L188.9,166.2 L191.0,165.7 L193.2,166.7 L195.3,166.3 M172.0,173.1 L174.1,173.6 L176.3,173.7 L178.5,173.3 L180.7,172.7 L182.9,172.8 L185.1,174.0 L187.3,173.8 L189.5,173.6 L191.7,173.4 L193.8,173.6 M169.6,99.6 L169.8,101.6 L169.9,103.6 L168.7,105.6 L169.5,107.6 L169.9,109.6 L170.2,111.6 L170.0,113.6 L169.3,115.6 L169.3,117.6 L169.7,119.6 L169.6,121.6 M180.4,99.0 L180.9,101.0 L179.8,103.0 L180.2,105.0 L179.3,107.0 L180.7,109.0 L180.4,111.0 L180.0,113.0 L180.5,115.0 L181.0,117.0 L180.8,119.0 L180.4,121.0 M157.0,106.7 L159.1,106.6 L161.1,107.0 L163.2,107.0 L165.3,106.7 L167.3,106.5 L169.4,106.3 L171.5,106.7 L173.5,106.8 L175.6,106.4 L177.7,106.5 L179.8,106.1 L181.8,105.6 L183.9,105.8 L186.0,106.5 L188.0,106.3 L190.1,106.1 M160.3,114.9 L162.3,115.3 L164.4,115.5 L166.4,115.4 L168.5,114.7 L170.5,114.9 L172.6,115.1 L174.6,114.6 L176.7,115.3 L178.7,115.6 L180.8,114.9 L182.8,116.1 L184.9,115.1 L186.9,115.1 L189.0,115.2 M172.4,121.5 L172.2,123.6 L172.4,125.7 L171.6,127.7 L172.1,129.8 L172.1,131.9 L172.5,134.0 L173.0,136.0 L172.4,138.1 L172.7,140.2 L171.9,142.3 L172.4,144.4 L171.6,146.4 L172.0,148.5 L172.0,150.6 L172.4,152.7 M181.7,120.9 L181.4,123.0 L181.3,125.0 L182.0,127.1 L181.5,129.2 L180.5,131.3 L181.8,133.4 L181.8,135.5 L182.0,137.5 L182.4,139.6 L181.2,141.7 L181.7,143.8 L181.6,145.9 L180.9,147.9 L180.6,150.0 L181.7,152.1 M191.7,130.1 L191.4,132.2 L191.5,134.3 L191.5,136.4 L191.7,138.6 L191.0,140.7 L191.4,142.8 L191.6,144.9 L191.1,147.0 L191.3,149.2 L191.7,151.3 M167.0,128.8 L169.2,129.6 L171.3,129.0 L173.4,128.6 L175.5,128.3 L177.6,128.4 L179.8,128.1 L181.9,128.5 L184.0,128.6 L186.1,127.5 L188.3,128.4 L190.4,128.3 M169.3,138.5 L171.5,138.1 L173.6,139.1 L175.7,138.2 L177.9,138.0 L180.0,138.1 L182.1,138.5 L184.2,139.0 L186.4,139.1 L188.5,138.7 L190.6,138.0 L192.7,138.3 L194.9,138.2 L197.0,138.6 M169.6,146.0 L171.7,146.0 L173.7,146.3 L175.7,145.9 L177.7,146.2 L179.7,145.6 L181.7,145.3 L183.7,145.7 L185.7,146.5 L187.7,146.5 L189.7,145.8 L191.8,146.6 L193.8,145.9 L195.8,146.7 L197.8,146.2 L199.8,145.8 L201.8,146.0 M208.0,149.4 L208.5,151.7 L208.7,154.1 L207.9,156.4 L208.1,158.7 L208.0,161.0 M216.8,148.1 L216.2,150.4 L217.0,152.8 L217.2,155.2 L216.3,157.6 L216.8,159.9 M228.0,146.1 L228.8,148.2 L228.3,150.2 L227.7,152.2 L228.0,154.3 L227.3,156.3 L228.0,158.3 M238.1,144.4 L238.4,147.0 L237.5,149.7 L238.1,152.4 M200.2,152.2 L202.2,151.9 L204.3,151.5 L206.3,151.6 L208.3,151.8 L210.4,151.6 L212.4,152.6 L214.4,152.6 L216.5,152.1 L218.5,151.5 L220.5,151.9 L222.5,151.6 L224.6,152.5 L226.6,152.0 L228.6,152.0 L230.7,151.6 L232.7,150.8 L234.7,151.4 L236.7,151.2 L238.8,151.6" fill="none" stroke="#000" stroke-opacity="0.6" stroke-width="0.5"/>
<path d="M16.1,43.5 L18.0,44.7 L19.9,45.9 L21.2,46.8 L22.5,47.7 L23.5,48.1 L23.2,51.1 L22.9,53.3 L22.5,55.6 L23.5,55.8 L24.7,53.4 L25.8,51.0 L26.2,48.2 L26.5,45.4 L26.4,43.5 L28.6,44.1 L30.9,44.7 L33.1,45.2 L35.3,45.8 L37.6,46.3 L39.8,46.9 L42.2,47.4 L44.7,48.0 L47.1,48.5 L49.5,49.1 L52.0,49.6 L54.4,50.1 L56.9,50.6 L59.3,51.0 L61.8,51.5 L64.2,52.0 L66.7,52.4 L69.1,52.8 L71.6,53.2 L74.1,53.6 L76.5,54.0 L79.0,54.3 L81.5,54.7 L84.0,55.0 L86.4,55.4 L88.9,55.7 L91.4,56.0 L93.9,56.3 L96.3,56.5 L98.8,56.8 L101.3,57.0 L103.8,57.2 L106.3,57.5 L108.8,57.7 L111.3,57.8 L113.7,58.0 L116.2,58.2 L118.7,58.3 L121.2,58.5 L123.7,58.6 L126.2,58.7 L128.7,58.8 L131.2,58.8 L133.7,58.9 L136.2,58.9 L138.7,59.0 L141.2,59.0 L143.7,59.0 L145.9,59.0 L148.2,59.0 L150.4,59.0 L152.6,58.9 L154.7,58.9 L156.7,58.8 L158.8,58.8 L160.8,58.7 L162.9,58.6 L162.7,55.8 L164.4,56.1 L165.0,58.4 L165.7,60.6 L167.6,60.9 L169.4,61.2 L171.3,61.5 L173.6,61.7 L175.8,62.0 L178.5,63.1 L181.1,64.2 L183.1,63.6 L185.0,63.1 L187.4,63.6 L189.7,64.1 L191.2,64.1 L188.9,65.8 L186.5,67.5 L184.3,69.5 L182.2,71.6 L180.7,73.0 L179.3,74.5 L181.1,74.0 L182.8,73.4 L184.4,72.9 L185.9,72.4 L188.2,74.8 L190.4,73.7 L192.6,72.5 L194.0,71.0 L195.4,69.6 L197.6,68.4 L199.8,67.2 L198.6,70.7 L200.7,72.5 L202.7,74.3 L205.3,74.0 L207.9,73.7 L209.6,72.7 L211.3,71.7 L213.6,70.9 L215.9,70.0 L218.1,72.1 L220.7,71.7 L223.8,74.2 L222.0,74.9 L220.3,75.6 L218.1,76.7 L216.0,76.3 L214.0,75.8 L212.0,76.7 L210.0,77.5 L208.2,78.4 L206.5,79.2 L205.2,81.8 L204.0,84.4 L202.3,88.4 L203.8,86.5 L205.3,84.6 L206.9,82.5 L206.3,85.7 L205.6,88.8 L204.4,92.7 L204.4,96.6 L204.3,100.4 L205.2,103.2 L206.1,106.0 L207.0,108.8 L209.4,110.4 L211.6,108.2 L212.0,105.7 L212.4,103.1 L212.1,100.5 L211.9,97.8 L211.0,95.3 L210.1,92.7 L210.6,90.4 L211.1,88.0 L212.6,85.5 L213.9,83.1 L215.6,81.7 L217.3,80.3 L218.1,77.2 L220.3,78.0 L222.4,78.7 L224.1,79.5 L225.9,80.4 L226.6,82.9 L227.3,85.5 L226.1,88.0 L224.8,90.5 L225.2,92.7 L227.5,90.0 L230.0,88.4 L231.7,89.3 L232.9,92.5 L234.0,95.8 L234.0,98.8 L232.6,100.3 L231.1,101.7 L231.0,104.0 L229.7,106.5 L232.1,107.1 L234.4,107.6 L237.2,106.9 L239.9,106.2 L241.9,104.7 L243.8,103.1 L245.8,101.5 L247.6,99.9 L249.3,98.3 L251.2,95.7 L253.0,93.0 L251.6,90.2 L254.2,89.6 L256.7,89.0 L259.3,88.4 L261.4,87.3 L263.6,86.1 L265.7,84.9 L265.3,82.2 L265.0,79.6 L266.6,77.2 L268.2,74.9 L269.6,73.3 L271.0,71.8 L273.4,71.1 L275.9,70.3 L278.4,69.6 L280.6,68.9 L282.9,68.2 L285.2,67.5 L287.5,66.8 L289.0,64.1 L290.2,62.9 L290.8,59.9 L291.4,57.0 L291.3,54.6 L291.2,52.3 L292.2,48.9 L293.2,45.6 L295.2,45.5 L297.1,45.5 L299.1,45.7 L301.1,45.9 L302.0,48.5 L303.0,51.2 L303.9,53.8 L306.7,55.6 L308.7,57.9 L310.7,60.2 L309.6,62.0 L308.4,63.8 L306.9,65.1 L305.4,66.5 L303.9,68.0 L302.4,69.5 L300.7,71.3 L299.0,73.1 L297.1,74.9 L296.4,79.1 L295.9,81.6 L296.0,84.4 L296.1,85.6 L299.0,87.4 L300.0,88.7 L301.8,88.1 L301.7,85.7 L303.1,88.0 L303.3,89.2 L301.8,89.6 L300.4,90.1 L298.4,91.2 L296.9,92.0 L295.5,93.1 L293.0,94.5 L290.6,95.4 L288.2,96.3 L286.4,98.0 L284.5,99.8 L283.3,101.7 L283.9,103.9 L284.5,107.2 L284.1,111.3 L283.0,113.8 L281.9,116.4 L281.1,114.5 L277.8,113.4 L277.0,112.5 L278.4,114.4 L281.0,117.7 L282.0,120.1 L281.7,123.8 L280.6,127.6 L279.2,131.1 L278.6,129.1 L278.0,127.1 L275.7,123.8 L274.7,121.7 L273.7,119.6 L273.1,115.8 L272.0,117.3 L272.7,119.2 L273.5,121.2 L274.5,123.3 L275.5,125.4 L276.3,127.9 L277.0,130.5 L279.2,132.8 L280.9,135.3 L282.2,137.2 L283.5,139.0 L284.8,141.8 L285.2,144.4 L282.9,146.6 L281.5,148.3 L280.0,150.1 L278.1,151.3 L276.2,152.6 L274.9,155.2 L273.6,157.9 L271.5,158.5 L269.4,159.2 L268.1,161.7 L266.7,164.1 L265.0,166.6 L263.2,169.1 L261.6,170.6 L260.0,172.1 L258.1,175.6 L256.8,179.3 L256.3,183.3 L256.5,186.3 L257.6,189.9 L258.6,192.0 L259.7,194.1 L262.0,197.4 L263.6,199.4 L265.2,201.4 L265.9,203.5 L267.3,205.9 L268.6,208.3 L269.9,210.7 L271.3,213.1 L272.1,216.7 L272.1,218.8 L272.2,220.8 L271.3,224.8 L268.7,226.1 L266.3,226.2 L265.3,223.4 L263.2,222.1 L261.0,220.8 L259.1,217.8 L256.5,214.9 L253.5,212.0 L251.9,208.5 L251.6,204.8 L251.0,202.6 L250.5,200.4 L247.8,198.6 L244.7,195.7 L241.0,193.7 L238.3,195.3 L236.7,196.7 L235.1,198.1 L232.4,197.7 L230.1,195.4 L227.3,194.7 L224.6,193.9 L221.4,194.7 L218.3,195.5 L215.1,196.3 L214.4,193.0 L213.0,195.4 L209.8,195.8 L207.9,196.4 L206.0,197.0 L204.8,198.0 L203.6,199.5 L206.4,201.1 L208.6,202.8 L209.5,204.9 L207.6,206.3 L205.4,204.6 L202.3,206.4 L200.3,206.6 L198.4,206.8 L195.0,206.0 L192.9,205.2 L190.9,204.4 L187.6,204.3 L185.6,203.9 L183.6,203.5 L180.5,203.7 L177.4,203.9 L175.6,204.5 L173.9,205.2 L171.6,206.8 L169.4,208.4 L166.2,211.5 L164.3,212.7 L162.3,213.9 L160.3,215.3 L158.4,216.6 L156.7,218.9 L154.8,222.7 L154.5,226.4 L155.6,230.1 L156.4,232.7 L154.0,233.3 L151.2,232.5 L148.5,231.7 L145.7,230.4 L143.0,229.1 L141.8,227.1 L140.6,225.0 L140.3,221.3 L137.3,217.9 L135.0,215.3 L134.0,213.2 L133.1,211.1 L131.8,208.6 L130.5,206.2 L128.0,204.1 L126.0,203.7 L124.1,203.4 L121.4,204.0 L119.3,207.0 L116.6,209.6 L114.0,208.2 L110.8,206.9 L107.6,204.1 L106.5,200.6 L105.7,198.5 L104.9,196.4 L103.0,194.6 L101.2,192.7 L99.4,191.3 L97.6,189.8 L95.7,187.2 L93.0,186.9 L90.4,186.7 L87.7,186.4 L85.0,186.2 L84.7,189.6 L81.7,189.2 L78.6,188.9 L75.6,188.5 L72.5,188.2 L69.5,187.8 L66.4,187.4 L63.5,185.8 L60.7,184.2 L57.8,182.6 L54.9,180.8 L51.9,179.0 L49.4,177.7 L46.8,176.3 L44.2,175.0 L45.0,173.5 L42.0,173.2 L38.9,172.9 L35.9,172.7 L32.9,172.4 L29.9,172.0 L29.8,169.8 L29.7,167.6 L28.2,165.0 L26.2,162.2 L23.8,161.4 L23.6,159.4 L21.2,158.8 L19.2,156.4 L17.0,154.8 L14.8,154.1 L12.6,153.3 L11.8,152.0 L12.2,149.9 L12.6,147.9 L11.7,145.3 L9.8,142.5 L8.6,140.0 L7.3,137.6 L7.6,135.3 L8.8,134.0 L7.6,132.6 L6.1,130.2 L6.2,127.5 L6.6,125.6 L4.9,124.0 L4.2,123.4 L3.7,120.5 L2.8,117.9 L1.8,115.3 L2.2,113.2 L2.6,111.2 L3.0,108.5 L2.2,106.3 L1.2,104.5 L3.6,101.2 L4.3,97.5 L4.9,94.9 L5.5,92.3 L5.1,88.2 L5.3,85.5 L7.3,82.6 L9.4,79.2 L10.3,76.8 L11.3,74.3 L12.3,71.5 L13.4,68.6 L14.4,65.0 L15.3,61.7 L15.5,59.1 L15.8,56.0 L15.7,53.7 L15.7,51.3 L15.3,48.1 L15.7,45.8 L16.1,43.5 L16.1,43.5Z M283.6,102.8 L285.5,102.2 L287.4,101.7 L289.4,100.3 L291.3,98.9 L292.8,97.4 L294.3,95.9 L292.9,96.6 L291.5,97.3 L289.6,98.1 L287.8,98.8 L286.2,99.9 L284.6,100.9 L283.6,102.8Z" fill="none" stroke="#000" stroke-opacity="0.7" stroke-width="0.6"/>
<path d="M14.6,47.6 L19,49.2 L25.5,52.4" fill="none" stroke="#fff" stroke-width="1.1"/>
</g>
<rect x="93.40" y="279.5" width="30.96" height="13.6" fill="#7f3b08" stroke="#aaa" stroke-width="1"/><rect x="124.36" y="279.5" width="30.96" height="13.6" fill="#b35806" stroke="#aaa" stroke-width="1"/><rect x="155.32" y="279.5" width="30.96" height="13.6" fill="#dc7a1a" stroke="#aaa" stroke-width="1"/><rect x="186.28" y="279.5" width="30.96" height="13.6" fill="#f1a34a" stroke="#aaa" stroke-width="1"/><rect x="217.24" y="279.5" width="30.96" height="13.6" fill="#fdc07c" stroke="#aaa" stroke-width="1"/><rect x="248.20" y="279.5" width="30.96" height="13.6" fill="#fee4c4" stroke="#aaa" stroke-width="1"/><rect x="279.16" y="279.5" width="30.96" height="13.6" fill="#ffffff" stroke="#aaa" stroke-width="1"/><rect x="310.12" y="279.5" width="30.96" height="13.6" fill="#ffffff" stroke="#aaa" stroke-width="1"/><rect x="341.08" y="279.5" width="30.96" height="13.6" fill="#e4e1f1" stroke="#aaa" stroke-width="1"/><rect x="372.04" y="279.5" width="30.96" height="13.6" fill="#bcb5da" stroke="#aaa" stroke-width="1"/><rect x="403.00" y="279.5" width="30.96" height="13.6" fill="#958cc3" stroke="#aaa" stroke-width="1"/><rect x="433.96" y="279.5" width="30.96" height="13.6" fill="#7562a6" stroke="#aaa" stroke-width="1"/><rect x="464.92" y="279.5" width="30.96" height="13.6" fill="#54298a" stroke="#aaa" stroke-width="1"/><rect x="495.88" y="279.5" width="30.96" height="13.6" fill="#2d004b" stroke="#aaa" stroke-width="1"/>
</svg>
<div class="t" style="left:1.0px;top:0.65px;font-size:14px;font-weight:normal;font-style:normal;color:#3a3a3a;transform:scaleX(0.9936)">Relationship between PDO/ENSO status and precipitation anomalies</div>
<div class="t" style="left:66.7px;top:27.42px;font-size:12.5px;font-weight:normal;font-style:normal;color:#333;transform:scaleX(0.9470)">Pacific Decadal Oscillation (PDO)</div>
<div class="t" style="left:370.0px;top:27.42px;font-size:12.5px;font-weight:normal;font-style:normal;color:#333;transform:scaleX(0.9292)">El Niño Southern Oscillation (ENSO)</div>
<div class="t" style="left:176.8px;top:244.99px;font-size:12.3px;font-weight:bold;font-style:normal;color:#333;transform:scaleX(0.9366)">Strength of relationship</div>
<div class="t" style="left:311.5px;top:244.99px;font-size:12.3px;font-weight:normal;font-style:normal;color:#333;transform:scaleX(1.0566)">(correlation coefficient)</div>
<div class="t" style="left:529.0px;top:243.66px;font-size:10.8px;font-weight:normal;font-style:normal;color:#9d9d9d;transform:scaleX(0.9854)">NOAA Climate.gov</div>
<div class="t" style="left:94.7px;top:262.74px;font-size:12px;font-weight:normal;font-style:italic;color:#333;transform:scaleX(1.0239)">strongly negative</div>
<div class="t" style="left:296.3px;top:262.44px;font-size:12px;font-weight:normal;font-style:italic;color:#333;transform:scaleX(0.9673)">weak</div>
<div class="t" style="left:435.9px;top:262.74px;font-size:12px;font-weight:normal;font-style:italic;color:#333;transform:scaleX(1.0471)">strongly positive</div>
<div class="t" style="left:53.8px;top:318.64px;font-size:12px;font-weight:normal;font-style:normal;color:#a0a0a0;transform:scaleX(1.0148)">positive index, less rain</div>
<div class="t" style="left:53.8px;top:332.54px;font-size:12px;font-weight:normal;font-style:normal;color:#a0a0a0;transform:scaleX(1.0226)">negative index, more rain</div>
<div class="t" style="left:430.2px;top:316.34px;font-size:12px;font-weight:normal;font-style:normal;color:#a0a0a0;transform:scaleX(1.0287)">positive index, more rain</div>
<div class="t" style="left:430.2px;top:330.24px;font-size:12px;font-weight:normal;font-style:normal;color:#a0a0a0;transform:scaleX(1.0128)">negative index, less rain</div>
<div class="t" style="left:82.2px;top:298.48px;font-size:11.6px;color:#333">−0.7</div>
<div class="t" style="left:113.1px;top:298.48px;font-size:11.6px;color:#333">−0.6</div>
<div class="t" style="left:144.1px;top:298.48px;font-size:11.6px;color:#333">−0.5</div>
<div class="t" style="left:175.0px;top:298.48px;font-size:11.6px;color:#333">−0.4</div>
<div class="t" style="left:206.0px;top:298.48px;font-size:11.6px;color:#333">−0.3</div>
<div class="t" style="left:237.0px;top:298.48px;font-size:11.6px;color:#333">−0.2</div>
<div class="t" style="left:267.9px;top:298.48px;font-size:11.6px;color:#333">−0.1</div>
<div class="t" style="left:307.1px;top:298.48px;font-size:11.6px;color:#333">0</div>
<div class="t" style="left:333.2px;top:298.48px;font-size:11.6px;color:#333">0.1</div>
<div class="t" style="left:364.2px;top:298.48px;font-size:11.6px;color:#333">0.2</div>
<div class="t" style="left:395.1px;top:298.48px;font-size:11.6px;color:#333">0.3</div>
<div class="t" style="left:426.1px;top:298.48px;font-size:11.6px;color:#333">0.4</div>
<div class="t" style="left:457.1px;top:298.48px;font-size:11.6px;color:#333">0.5</div>
<div class="t" style="left:488.0px;top:298.48px;font-size:11.6px;color:#333">0.6</div>
<div class="t" style="left:519.0px;top:298.48px;font-size:11.6px;color:#333">0.7</div>
</body></html>
